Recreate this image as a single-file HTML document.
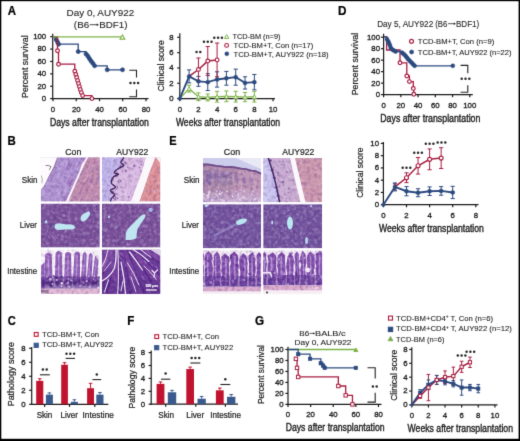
<!DOCTYPE html><html><head><meta charset="utf-8"><style>html,body{margin:0;padding:0;background:#fff;}svg{display:block;will-change:transform;}text{font-family:"Liberation Sans",sans-serif;fill:#1e1e1e;stroke:#1e1e1e;stroke-width:0.22px;}</style></head><body>
<svg width="520" height="441" viewBox="0 0 520 441" xmlns="http://www.w3.org/2000/svg">
<defs><filter id="gb" x="0" y="0" width="100%" height="100%" color-interpolation-filters="sRGB"><feConvolveMatrix order="3" kernelMatrix="0.0114 0.084 0.0114 0.084 0.618 0.084 0.0114 0.084 0.0114" edgeMode="duplicate"/></filter></defs><g filter="url(#gb)">
<rect x="0" y="0" width="520" height="441" fill="#000"/>
<rect x="1.3" y="1.2" width="517.3" height="437.6" fill="#fff"/>
<text x="7.71" y="15.4" font-size="12.6" font-weight="bold" textLength="8.29" lengthAdjust="spacingAndGlyphs" style="fill:#000;stroke:#000">A</text>
<text x="7.53" y="144.8" font-size="12.6" font-weight="bold" textLength="8.29" lengthAdjust="spacingAndGlyphs" style="fill:#000;stroke:#000">B</text>
<text x="7.74" y="325" font-size="12.6" font-weight="bold" textLength="8.06" lengthAdjust="spacingAndGlyphs" style="fill:#000;stroke:#000">C</text>
<text x="338.01" y="15.1" font-size="12.6" font-weight="bold" textLength="8.48" lengthAdjust="spacingAndGlyphs" style="fill:#000;stroke:#000">D</text>
<text x="169.26" y="144.5" font-size="12.6" font-weight="bold" textLength="7.37" lengthAdjust="spacingAndGlyphs" style="fill:#000;stroke:#000">E</text>
<text x="127.22" y="324.8" font-size="12.6" font-weight="bold" textLength="7.1" lengthAdjust="spacingAndGlyphs" style="fill:#000;stroke:#000">F</text>
<text x="255.12" y="324.8" font-size="12.6" font-weight="bold" textLength="9.11" lengthAdjust="spacingAndGlyphs" style="fill:#000;stroke:#000">G</text>
<text x="66.6" y="16.1" font-size="9.3" style="stroke-width:0.1px" textLength="67.6" lengthAdjust="spacingAndGlyphs">Day 0, AUY922</text>
<text x="73.89" y="27.7" font-size="9.3" style="stroke-width:0.1px" textLength="15.34" lengthAdjust="spacingAndGlyphs">(B6</text>
<line x1="89.7" y1="24.7" x2="97.58" y2="24.7" stroke="#1e1e1e" stroke-width="0.8"/>
<polygon points="98.9,24.7 96.7,23.4 96.7,26" fill="#1e1e1e"/>
<text x="99.2" y="27.7" font-size="9.3" style="stroke-width:0.1px" textLength="28.21" lengthAdjust="spacingAndGlyphs">BDF1)</text>
<text x="27.61" y="97.92" font-size="8.9" textLength="62.51" lengthAdjust="spacingAndGlyphs" transform="rotate(-90 27.61 97.92)">Percent survival</text>
<line x1="52.7" y1="33.8" x2="52.7" y2="99.2" stroke="#1a1a1a" stroke-width="1.2"/>
<line x1="50.1" y1="36.7" x2="52.7" y2="36.7" stroke="#1a1a1a" stroke-width="1.2"/>
<text x="46.2" y="39.11" font-size="7.8" style="stroke-width:0.32px" text-anchor="end">100</text>
<line x1="50.1" y1="49.08" x2="52.7" y2="49.08" stroke="#1a1a1a" stroke-width="1.2"/>
<text x="46.2" y="51.49" font-size="7.8" style="stroke-width:0.32px" text-anchor="end">80</text>
<line x1="50.1" y1="61.46" x2="52.7" y2="61.46" stroke="#1a1a1a" stroke-width="1.2"/>
<text x="46.2" y="63.87" font-size="7.8" style="stroke-width:0.32px" text-anchor="end">60</text>
<line x1="50.1" y1="73.84" x2="52.7" y2="73.84" stroke="#1a1a1a" stroke-width="1.2"/>
<text x="46.2" y="76.25" font-size="7.8" style="stroke-width:0.32px" text-anchor="end">40</text>
<line x1="50.1" y1="86.22" x2="52.7" y2="86.22" stroke="#1a1a1a" stroke-width="1.2"/>
<text x="46.2" y="88.63" font-size="7.8" style="stroke-width:0.32px" text-anchor="end">20</text>
<line x1="50.1" y1="98.6" x2="52.7" y2="98.6" stroke="#1a1a1a" stroke-width="1.2"/>
<text x="46.2" y="101.01" font-size="7.8" style="stroke-width:0.32px" text-anchor="end">0</text>
<line x1="52.1" y1="98.6" x2="148.5" y2="98.6" stroke="#1a1a1a" stroke-width="1.2"/>
<line x1="53" y1="98.6" x2="53" y2="101.2" stroke="#1a1a1a" stroke-width="1.2"/>
<text x="53" y="111.6" font-size="7.8" style="stroke-width:0.32px" text-anchor="middle">0</text>
<line x1="76.25" y1="98.6" x2="76.25" y2="101.2" stroke="#1a1a1a" stroke-width="1.2"/>
<text x="76.25" y="111.6" font-size="7.8" style="stroke-width:0.32px" text-anchor="middle">20</text>
<line x1="99.5" y1="98.6" x2="99.5" y2="101.2" stroke="#1a1a1a" stroke-width="1.2"/>
<text x="99.5" y="111.6" font-size="7.8" style="stroke-width:0.32px" text-anchor="middle">40</text>
<line x1="122.75" y1="98.6" x2="122.75" y2="101.2" stroke="#1a1a1a" stroke-width="1.2"/>
<text x="122.75" y="111.6" font-size="7.8" style="stroke-width:0.32px" text-anchor="middle">60</text>
<line x1="146" y1="98.6" x2="146" y2="101.2" stroke="#1a1a1a" stroke-width="1.2"/>
<text x="146" y="111.6" font-size="7.8" style="stroke-width:0.32px" text-anchor="middle">80</text>
<text x="49.89" y="125.5" font-size="10.4" style="stroke-width:0.38px" textLength="98.98" lengthAdjust="spacingAndGlyphs">Days after transplantation</text>
<polyline points="52.7,36.9 56.1,36.9 56.1,39.6 57.5,39.6 57.5,42 58.6,42 58.6,44.2 78.2,44.2 78.2,51.6 86,51.6 86,54 88,54 88,56.4 89.5,56.4 89.5,58.8 91,58.8 91,61 92.8,61 92.8,63.3 94.6,63.3 94.6,65.8 107.2,65.8 107.2,69.8 122.5,69.8 122.5,69.8" fill="none" stroke="#2c4a7f" stroke-width="1.3" stroke-linejoin="miter"/>
<circle cx="56.1" cy="39.6" r="2.05" fill="#2c4a7f" stroke="#2c4a7f" stroke-width="0.6"/>
<circle cx="57.5" cy="42" r="2.05" fill="#2c4a7f" stroke="#2c4a7f" stroke-width="0.6"/>
<circle cx="58.6" cy="44.2" r="2.05" fill="#2c4a7f" stroke="#2c4a7f" stroke-width="0.6"/>
<circle cx="78.2" cy="51.6" r="2.05" fill="#2c4a7f" stroke="#2c4a7f" stroke-width="0.6"/>
<circle cx="86" cy="54" r="2.05" fill="#2c4a7f" stroke="#2c4a7f" stroke-width="0.6"/>
<circle cx="88" cy="56.4" r="2.05" fill="#2c4a7f" stroke="#2c4a7f" stroke-width="0.6"/>
<circle cx="89.5" cy="58.8" r="2.05" fill="#2c4a7f" stroke="#2c4a7f" stroke-width="0.6"/>
<circle cx="91" cy="61" r="2.05" fill="#2c4a7f" stroke="#2c4a7f" stroke-width="0.6"/>
<circle cx="92.8" cy="63.3" r="2.05" fill="#2c4a7f" stroke="#2c4a7f" stroke-width="0.6"/>
<circle cx="94.6" cy="65.8" r="2.05" fill="#2c4a7f" stroke="#2c4a7f" stroke-width="0.6"/>
<circle cx="107.2" cy="69.8" r="2.05" fill="#2c4a7f" stroke="#2c4a7f" stroke-width="0.6"/>
<circle cx="122.5" cy="69.8" r="2.05" fill="#2c4a7f" stroke="#2c4a7f" stroke-width="0.6"/>
<polyline points="52.7,36.9 57.5,36.9 57.5,50.7 58.5,50.7 58.5,64.2 74.8,64.2 74.8,71.2 75.8,71.2 75.8,74.4 76.7,74.4 76.7,77.4 77.6,77.4 77.6,80.6 78.5,80.6 78.5,83.6 79.4,83.6 79.4,86.6 80.3,86.6 80.3,89.6 81.3,89.6 81.3,92.6 82.6,92.6 82.6,95.6 91.9,95.6 91.9,98.6" fill="none" stroke="#a81c40" stroke-width="1.3" stroke-linejoin="miter"/>
<circle cx="57.5" cy="50.7" r="1.85" fill="#fff" stroke="#a81c40" stroke-width="1.2"/>
<circle cx="58.5" cy="64.2" r="1.85" fill="#fff" stroke="#a81c40" stroke-width="1.2"/>
<circle cx="74.8" cy="71.2" r="1.85" fill="#fff" stroke="#a81c40" stroke-width="1.2"/>
<circle cx="75.8" cy="74.4" r="1.85" fill="#fff" stroke="#a81c40" stroke-width="1.2"/>
<circle cx="76.7" cy="77.4" r="1.85" fill="#fff" stroke="#a81c40" stroke-width="1.2"/>
<circle cx="77.6" cy="80.6" r="1.85" fill="#fff" stroke="#a81c40" stroke-width="1.2"/>
<circle cx="78.5" cy="83.6" r="1.85" fill="#fff" stroke="#a81c40" stroke-width="1.2"/>
<circle cx="79.4" cy="86.6" r="1.85" fill="#fff" stroke="#a81c40" stroke-width="1.2"/>
<circle cx="80.3" cy="89.6" r="1.85" fill="#fff" stroke="#a81c40" stroke-width="1.2"/>
<circle cx="81.3" cy="92.6" r="1.85" fill="#fff" stroke="#a81c40" stroke-width="1.2"/>
<circle cx="82.6" cy="95.6" r="1.85" fill="#fff" stroke="#a81c40" stroke-width="1.2"/>
<circle cx="91.9" cy="98.6" r="1.85" fill="#fff" stroke="#a81c40" stroke-width="1.2"/>
<line x1="52.7" y1="36.9" x2="122.75" y2="36.9" stroke="#7db348" stroke-width="1.4"/>
<polygon points="120.05,39.08 124.85,39.08 122.45,34.92" fill="#fff" stroke="#7db348" stroke-width="1.1"/>
<polyline points="129.3,70.3 136.5,70.3 136.5,77.6" fill="none" stroke="#222" stroke-width="1.1" stroke-linejoin="miter"/>
<polyline points="136.5,89.5 136.5,96.7 129.3,96.7" fill="none" stroke="#222" stroke-width="1.1" stroke-linejoin="miter"/>
<circle cx="130.5" cy="83" r="1.25" fill="#262626"/>
<circle cx="134.3" cy="83" r="1.25" fill="#262626"/>
<circle cx="138.1" cy="83" r="1.25" fill="#262626"/>
<text x="163.61" y="91.44" font-size="9.5" textLength="51.22" lengthAdjust="spacingAndGlyphs" transform="rotate(-90 163.61 91.44)">Clinical score</text>
<line x1="179.8" y1="33.3" x2="179.8" y2="99.2" stroke="#1a1a1a" stroke-width="1.2"/>
<line x1="177.2" y1="37.32" x2="179.8" y2="37.32" stroke="#1a1a1a" stroke-width="1.2"/>
<text x="173.6" y="39.73" font-size="7.8" style="stroke-width:0.32px" text-anchor="end">8</text>
<line x1="177.2" y1="52.64" x2="179.8" y2="52.64" stroke="#1a1a1a" stroke-width="1.2"/>
<text x="173.6" y="55.05" font-size="7.8" style="stroke-width:0.32px" text-anchor="end">6</text>
<line x1="177.2" y1="67.96" x2="179.8" y2="67.96" stroke="#1a1a1a" stroke-width="1.2"/>
<text x="173.6" y="70.37" font-size="7.8" style="stroke-width:0.32px" text-anchor="end">4</text>
<line x1="177.2" y1="83.28" x2="179.8" y2="83.28" stroke="#1a1a1a" stroke-width="1.2"/>
<text x="173.6" y="85.69" font-size="7.8" style="stroke-width:0.32px" text-anchor="end">2</text>
<line x1="177.2" y1="98.6" x2="179.8" y2="98.6" stroke="#1a1a1a" stroke-width="1.2"/>
<text x="173.6" y="101.01" font-size="7.8" style="stroke-width:0.32px" text-anchor="end">0</text>
<line x1="179.2" y1="98.6" x2="275" y2="98.6" stroke="#1a1a1a" stroke-width="1.2"/>
<line x1="179.8" y1="98.6" x2="179.8" y2="101.2" stroke="#1a1a1a" stroke-width="1.2"/>
<text x="179.8" y="111.6" font-size="7.8" style="stroke-width:0.32px" text-anchor="middle">0</text>
<line x1="198.44" y1="98.6" x2="198.44" y2="101.2" stroke="#1a1a1a" stroke-width="1.2"/>
<text x="198.44" y="111.6" font-size="7.8" style="stroke-width:0.32px" text-anchor="middle">2</text>
<line x1="217.08" y1="98.6" x2="217.08" y2="101.2" stroke="#1a1a1a" stroke-width="1.2"/>
<text x="217.08" y="111.6" font-size="7.8" style="stroke-width:0.32px" text-anchor="middle">4</text>
<line x1="235.72" y1="98.6" x2="235.72" y2="101.2" stroke="#1a1a1a" stroke-width="1.2"/>
<text x="235.72" y="111.6" font-size="7.8" style="stroke-width:0.32px" text-anchor="middle">6</text>
<line x1="254.36" y1="98.6" x2="254.36" y2="101.2" stroke="#1a1a1a" stroke-width="1.2"/>
<text x="254.36" y="111.6" font-size="7.8" style="stroke-width:0.32px" text-anchor="middle">8</text>
<line x1="273" y1="98.6" x2="273" y2="101.2" stroke="#1a1a1a" stroke-width="1.2"/>
<text x="273" y="111.6" font-size="7.8" style="stroke-width:0.32px" text-anchor="middle">10</text>
<text x="175.96" y="125.8" font-size="10.4" style="stroke-width:0.38px" textLength="103.99" lengthAdjust="spacingAndGlyphs">Weeks after transplantation</text>
<line x1="189.12" y1="92.09" x2="189.12" y2="85.19" stroke="#7db348" stroke-width="1.0"/>
<line x1="187.02" y1="92.09" x2="191.22" y2="92.09" stroke="#7db348" stroke-width="1.0"/>
<line x1="187.02" y1="85.19" x2="191.22" y2="85.19" stroke="#7db348" stroke-width="1.0"/>
<line x1="198.44" y1="100.52" x2="198.44" y2="92.85" stroke="#7db348" stroke-width="1.0"/>
<line x1="196.34" y1="100.52" x2="200.54" y2="100.52" stroke="#7db348" stroke-width="1.0"/>
<line x1="196.34" y1="92.85" x2="200.54" y2="92.85" stroke="#7db348" stroke-width="1.0"/>
<line x1="207.76" y1="100.9" x2="207.76" y2="94" stroke="#7db348" stroke-width="1.0"/>
<line x1="205.66" y1="100.9" x2="209.86" y2="100.9" stroke="#7db348" stroke-width="1.0"/>
<line x1="205.66" y1="94" x2="209.86" y2="94" stroke="#7db348" stroke-width="1.0"/>
<line x1="217.08" y1="102.05" x2="217.08" y2="91.32" stroke="#7db348" stroke-width="1.0"/>
<line x1="214.98" y1="102.05" x2="219.18" y2="102.05" stroke="#7db348" stroke-width="1.0"/>
<line x1="214.98" y1="91.32" x2="219.18" y2="91.32" stroke="#7db348" stroke-width="1.0"/>
<line x1="226.4" y1="101.66" x2="226.4" y2="90.94" stroke="#7db348" stroke-width="1.0"/>
<line x1="224.3" y1="101.66" x2="228.5" y2="101.66" stroke="#7db348" stroke-width="1.0"/>
<line x1="224.3" y1="90.94" x2="228.5" y2="90.94" stroke="#7db348" stroke-width="1.0"/>
<line x1="235.72" y1="102.05" x2="235.72" y2="91.32" stroke="#7db348" stroke-width="1.0"/>
<line x1="233.62" y1="102.05" x2="237.82" y2="102.05" stroke="#7db348" stroke-width="1.0"/>
<line x1="233.62" y1="91.32" x2="237.82" y2="91.32" stroke="#7db348" stroke-width="1.0"/>
<line x1="245.04" y1="101.66" x2="245.04" y2="92.47" stroke="#7db348" stroke-width="1.0"/>
<line x1="242.94" y1="101.66" x2="247.14" y2="101.66" stroke="#7db348" stroke-width="1.0"/>
<line x1="242.94" y1="92.47" x2="247.14" y2="92.47" stroke="#7db348" stroke-width="1.0"/>
<line x1="254.36" y1="102.05" x2="254.36" y2="91.32" stroke="#7db348" stroke-width="1.0"/>
<line x1="252.26" y1="102.05" x2="256.46" y2="102.05" stroke="#7db348" stroke-width="1.0"/>
<line x1="252.26" y1="91.32" x2="256.46" y2="91.32" stroke="#7db348" stroke-width="1.0"/>
<polyline points="179.8,98.6 189.12,88.64 198.44,96.68 207.76,97.45 217.08,96.68 226.4,96.3 235.72,96.68 245.04,97.07 254.36,96.68" fill="none" stroke="#7db348" stroke-width="1.3" stroke-linejoin="miter"/>
<polygon points="187.02,90.46 191.22,90.46 189.12,86.82" fill="#fff" stroke="#7db348" stroke-width="1.0"/>
<polygon points="196.34,98.5 200.54,98.5 198.44,94.87" fill="#fff" stroke="#7db348" stroke-width="1.0"/>
<polygon points="205.66,99.27 209.86,99.27 207.76,95.63" fill="#fff" stroke="#7db348" stroke-width="1.0"/>
<polygon points="214.98,98.5 219.18,98.5 217.08,94.87" fill="#fff" stroke="#7db348" stroke-width="1.0"/>
<polygon points="224.3,98.12 228.5,98.12 226.4,94.48" fill="#fff" stroke="#7db348" stroke-width="1.0"/>
<polygon points="233.62,98.5 237.82,98.5 235.72,94.87" fill="#fff" stroke="#7db348" stroke-width="1.0"/>
<polygon points="242.94,98.89 247.14,98.89 245.04,95.25" fill="#fff" stroke="#7db348" stroke-width="1.0"/>
<polygon points="252.26,98.5 256.46,98.5 254.36,94.87" fill="#fff" stroke="#7db348" stroke-width="1.0"/>
<line x1="189.12" y1="82.9" x2="189.12" y2="69.88" stroke="#2c4a7f" stroke-width="1.0"/>
<line x1="187.02" y1="82.9" x2="191.22" y2="82.9" stroke="#2c4a7f" stroke-width="1.0"/>
<line x1="187.02" y1="69.88" x2="191.22" y2="69.88" stroke="#2c4a7f" stroke-width="1.0"/>
<line x1="198.44" y1="86.34" x2="198.44" y2="76.39" stroke="#2c4a7f" stroke-width="1.0"/>
<line x1="196.34" y1="86.34" x2="200.54" y2="86.34" stroke="#2c4a7f" stroke-width="1.0"/>
<line x1="196.34" y1="76.39" x2="200.54" y2="76.39" stroke="#2c4a7f" stroke-width="1.0"/>
<line x1="207.76" y1="90.56" x2="207.76" y2="73.7" stroke="#2c4a7f" stroke-width="1.0"/>
<line x1="205.66" y1="90.56" x2="209.86" y2="90.56" stroke="#2c4a7f" stroke-width="1.0"/>
<line x1="205.66" y1="73.7" x2="209.86" y2="73.7" stroke="#2c4a7f" stroke-width="1.0"/>
<line x1="217.08" y1="87.11" x2="217.08" y2="71.79" stroke="#2c4a7f" stroke-width="1.0"/>
<line x1="214.98" y1="87.11" x2="219.18" y2="87.11" stroke="#2c4a7f" stroke-width="1.0"/>
<line x1="214.98" y1="71.79" x2="219.18" y2="71.79" stroke="#2c4a7f" stroke-width="1.0"/>
<line x1="226.4" y1="85.19" x2="226.4" y2="71.41" stroke="#2c4a7f" stroke-width="1.0"/>
<line x1="224.3" y1="85.19" x2="228.5" y2="85.19" stroke="#2c4a7f" stroke-width="1.0"/>
<line x1="224.3" y1="71.41" x2="228.5" y2="71.41" stroke="#2c4a7f" stroke-width="1.0"/>
<line x1="235.72" y1="85.19" x2="235.72" y2="69.11" stroke="#2c4a7f" stroke-width="1.0"/>
<line x1="233.62" y1="85.19" x2="237.82" y2="85.19" stroke="#2c4a7f" stroke-width="1.0"/>
<line x1="233.62" y1="69.11" x2="237.82" y2="69.11" stroke="#2c4a7f" stroke-width="1.0"/>
<line x1="245.04" y1="89.02" x2="245.04" y2="76.77" stroke="#2c4a7f" stroke-width="1.0"/>
<line x1="242.94" y1="89.02" x2="247.14" y2="89.02" stroke="#2c4a7f" stroke-width="1.0"/>
<line x1="242.94" y1="76.77" x2="247.14" y2="76.77" stroke="#2c4a7f" stroke-width="1.0"/>
<line x1="254.36" y1="89.79" x2="254.36" y2="74.47" stroke="#2c4a7f" stroke-width="1.0"/>
<line x1="252.26" y1="89.79" x2="256.46" y2="89.79" stroke="#2c4a7f" stroke-width="1.0"/>
<line x1="252.26" y1="74.47" x2="256.46" y2="74.47" stroke="#2c4a7f" stroke-width="1.0"/>
<line x1="198.44" y1="80.98" x2="198.44" y2="58" stroke="#a81c40" stroke-width="1.0"/>
<line x1="196.34" y1="80.98" x2="200.54" y2="80.98" stroke="#a81c40" stroke-width="1.0"/>
<line x1="196.34" y1="58" x2="200.54" y2="58" stroke="#a81c40" stroke-width="1.0"/>
<line x1="207.76" y1="75.62" x2="207.76" y2="46.51" stroke="#a81c40" stroke-width="1.0"/>
<line x1="205.66" y1="75.62" x2="209.86" y2="75.62" stroke="#a81c40" stroke-width="1.0"/>
<line x1="205.66" y1="46.51" x2="209.86" y2="46.51" stroke="#a81c40" stroke-width="1.0"/>
<line x1="217.08" y1="76.77" x2="217.08" y2="43.06" stroke="#a81c40" stroke-width="1.0"/>
<line x1="214.98" y1="76.77" x2="219.18" y2="76.77" stroke="#a81c40" stroke-width="1.0"/>
<line x1="214.98" y1="43.06" x2="219.18" y2="43.06" stroke="#a81c40" stroke-width="1.0"/>
<polyline points="189.12,76.39 198.44,69.49 207.76,61.07 217.08,59.92" fill="none" stroke="#a81c40" stroke-width="1.5" stroke-linejoin="miter"/>
<polyline points="179.8,98.6 189.12,76.39 198.44,81.36 207.76,82.13 217.08,79.45 226.4,78.3 235.72,77.15 245.04,82.9 254.36,82.13" fill="none" stroke="#2c4a7f" stroke-width="1.9" stroke-linejoin="miter"/>
<circle cx="189.12" cy="76.39" r="2" fill="#2c4a7f" stroke="#2c4a7f" stroke-width="0.5"/>
<circle cx="198.44" cy="81.36" r="2" fill="#2c4a7f" stroke="#2c4a7f" stroke-width="0.5"/>
<circle cx="207.76" cy="82.13" r="2" fill="#2c4a7f" stroke="#2c4a7f" stroke-width="0.5"/>
<circle cx="217.08" cy="79.45" r="2" fill="#2c4a7f" stroke="#2c4a7f" stroke-width="0.5"/>
<circle cx="226.4" cy="78.3" r="2" fill="#2c4a7f" stroke="#2c4a7f" stroke-width="0.5"/>
<circle cx="235.72" cy="77.15" r="2" fill="#2c4a7f" stroke="#2c4a7f" stroke-width="0.5"/>
<circle cx="245.04" cy="82.9" r="2" fill="#2c4a7f" stroke="#2c4a7f" stroke-width="0.5"/>
<circle cx="254.36" cy="82.13" r="2" fill="#2c4a7f" stroke="#2c4a7f" stroke-width="0.5"/>
<circle cx="179.8" cy="98.6" r="1.8" fill="#2c4a7f" stroke="#2c4a7f" stroke-width="0.5"/>
<circle cx="198.44" cy="69.49" r="1.9" fill="#fff" stroke="#a81c40" stroke-width="1.1"/>
<circle cx="207.76" cy="61.07" r="1.9" fill="#fff" stroke="#a81c40" stroke-width="1.1"/>
<circle cx="217.08" cy="59.92" r="1.9" fill="#fff" stroke="#a81c40" stroke-width="1.1"/>
<circle cx="196.54" cy="52" r="1.25" fill="#262626"/>
<circle cx="200.34" cy="52" r="1.25" fill="#262626"/>
<circle cx="203.96" cy="41.7" r="1.25" fill="#262626"/>
<circle cx="207.76" cy="41.7" r="1.25" fill="#262626"/>
<circle cx="211.56" cy="41.7" r="1.25" fill="#262626"/>
<circle cx="214.28" cy="37.8" r="1.25" fill="#262626"/>
<circle cx="218.08" cy="37.8" r="1.25" fill="#262626"/>
<circle cx="221.88" cy="37.8" r="1.25" fill="#262626"/>
<polygon points="224.4,38.41 228.8,38.41 226.6,34.59" fill="#fff" stroke="#7db348" stroke-width="1.0"/>
<text x="232.43" y="38.6" font-size="8.0" style="stroke-width:0.1px" textLength="48.02" lengthAdjust="spacingAndGlyphs">TCD-BM (n=9)</text>
<circle cx="226.6" cy="45.4" r="1.9" fill="#fff" stroke="#a81c40" stroke-width="1.1"/>
<text x="233.53" y="48.1" font-size="8.0" style="stroke-width:0.1px" textLength="79.73" lengthAdjust="spacingAndGlyphs">TCD-BM+T, Con (n=17)</text>
<circle cx="226.8" cy="53.8" r="2" fill="#2c4a7f" stroke="#2c4a7f" stroke-width="0.5"/>
<text x="233.53" y="56.7" font-size="8.0" style="stroke-width:0.1px" textLength="95.04" lengthAdjust="spacingAndGlyphs">TCD-BM+T, AUY922 (n=18)</text>
<text x="377.13" y="27" font-size="9.3" style="stroke-width:0.1px" textLength="56.08" lengthAdjust="spacingAndGlyphs">Day 5, AUY922</text>
<text x="435.22" y="27" font-size="9.3" style="stroke-width:0.1px" textLength="12.13" lengthAdjust="spacingAndGlyphs">(B6</text>
<line x1="448" y1="23.7" x2="454.6" y2="23.7" stroke="#1e1e1e" stroke-width="0.75"/>
<polygon points="455.8,23.7 453.8,22.5 453.8,24.9" fill="#1e1e1e"/>
<text x="455.94" y="27" font-size="9.3" style="stroke-width:0.1px" textLength="23.36" lengthAdjust="spacingAndGlyphs">BDF1)</text>
<text x="358.21" y="95.32" font-size="8.9" textLength="62.51" lengthAdjust="spacingAndGlyphs" transform="rotate(-90 358.21 95.32)">Percent survival</text>
<line x1="383.6" y1="33.8" x2="383.6" y2="95.2" stroke="#1a1a1a" stroke-width="1.2"/>
<line x1="381" y1="37.2" x2="383.6" y2="37.2" stroke="#1a1a1a" stroke-width="1.2"/>
<text x="380" y="39.61" font-size="7.8" style="stroke-width:0.32px" text-anchor="end">100</text>
<line x1="381" y1="48.68" x2="383.6" y2="48.68" stroke="#1a1a1a" stroke-width="1.2"/>
<text x="380" y="51.09" font-size="7.8" style="stroke-width:0.32px" text-anchor="end">80</text>
<line x1="381" y1="60.16" x2="383.6" y2="60.16" stroke="#1a1a1a" stroke-width="1.2"/>
<text x="380" y="62.57" font-size="7.8" style="stroke-width:0.32px" text-anchor="end">60</text>
<line x1="381" y1="71.64" x2="383.6" y2="71.64" stroke="#1a1a1a" stroke-width="1.2"/>
<text x="380" y="74.05" font-size="7.8" style="stroke-width:0.32px" text-anchor="end">40</text>
<line x1="381" y1="83.12" x2="383.6" y2="83.12" stroke="#1a1a1a" stroke-width="1.2"/>
<text x="380" y="85.53" font-size="7.8" style="stroke-width:0.32px" text-anchor="end">20</text>
<line x1="381" y1="94.6" x2="383.6" y2="94.6" stroke="#1a1a1a" stroke-width="1.2"/>
<text x="380" y="97.01" font-size="7.8" style="stroke-width:0.32px" text-anchor="end">0</text>
<line x1="383" y1="94.6" x2="472.8" y2="94.6" stroke="#1a1a1a" stroke-width="1.2"/>
<line x1="383.6" y1="94.6" x2="383.6" y2="97.2" stroke="#1a1a1a" stroke-width="1.2"/>
<text x="383.6" y="107.6" font-size="7.8" style="stroke-width:0.32px" text-anchor="middle">0</text>
<line x1="400.84" y1="94.6" x2="400.84" y2="97.2" stroke="#1a1a1a" stroke-width="1.2"/>
<text x="400.84" y="107.6" font-size="7.8" style="stroke-width:0.32px" text-anchor="middle">20</text>
<line x1="418.08" y1="94.6" x2="418.08" y2="97.2" stroke="#1a1a1a" stroke-width="1.2"/>
<text x="418.08" y="107.6" font-size="7.8" style="stroke-width:0.32px" text-anchor="middle">40</text>
<line x1="435.32" y1="94.6" x2="435.32" y2="97.2" stroke="#1a1a1a" stroke-width="1.2"/>
<text x="435.32" y="107.6" font-size="7.8" style="stroke-width:0.32px" text-anchor="middle">60</text>
<line x1="452.56" y1="94.6" x2="452.56" y2="97.2" stroke="#1a1a1a" stroke-width="1.2"/>
<text x="452.56" y="107.6" font-size="7.8" style="stroke-width:0.32px" text-anchor="middle">80</text>
<line x1="469.8" y1="94.6" x2="469.8" y2="97.2" stroke="#1a1a1a" stroke-width="1.2"/>
<text x="469.8" y="107.6" font-size="7.8" style="stroke-width:0.32px" text-anchor="middle">100</text>
<text x="380.28" y="121.6" font-size="10.4" style="stroke-width:0.38px" textLength="100.09" lengthAdjust="spacingAndGlyphs">Days after transplantation</text>
<polyline points="383.8,36.8 386.6,36.8 386.6,50 400,50 400,62.8 406.8,62.8 406.8,76 409.4,76 409.4,81.6 413.3,81.6 413.3,88.4 413.8,88.4 413.8,94.3" fill="none" stroke="#a81c40" stroke-width="1.3" stroke-linejoin="miter"/>
<circle cx="400" cy="62.8" r="1.85" fill="#fff" stroke="#a81c40" stroke-width="1.2"/>
<circle cx="406.8" cy="76" r="1.85" fill="#fff" stroke="#a81c40" stroke-width="1.2"/>
<circle cx="409.4" cy="81.6" r="1.85" fill="#fff" stroke="#a81c40" stroke-width="1.2"/>
<circle cx="413.3" cy="88.4" r="1.85" fill="#fff" stroke="#a81c40" stroke-width="1.2"/>
<circle cx="413.8" cy="94.3" r="1.85" fill="#fff" stroke="#a81c40" stroke-width="1.2"/>
<polyline points="383.8,36.8 387,36.8 387,39.3 388.3,39.3 388.3,41.4 389.1,41.4 389.1,43.5 390,43.5 390,45.6 390.8,45.6 390.8,48 392.2,48 392.2,49.4 393.9,49.4 393.9,50.6 395.6,50.6 395.6,51.5 402.1,51.5 402.1,52.7 403.8,52.7 403.8,54.2 405.5,54.2 405.5,55.8 406.8,55.8 406.8,57.5 408.1,57.5 408.1,59.2 409.7,59.2 409.7,60.8 411.4,60.8 411.4,62.5 413,62.5 413,64.2 414.6,64.2 414.6,65.8 452.8,65.8 452.8,65.8" fill="none" stroke="#2c4a7f" stroke-width="1.3" stroke-linejoin="miter"/>
<circle cx="387" cy="39.3" r="2" fill="#2c4a7f" stroke="#2c4a7f" stroke-width="0.5"/>
<circle cx="388.3" cy="41.4" r="2" fill="#2c4a7f" stroke="#2c4a7f" stroke-width="0.5"/>
<circle cx="389.1" cy="43.5" r="2" fill="#2c4a7f" stroke="#2c4a7f" stroke-width="0.5"/>
<circle cx="390" cy="45.6" r="2" fill="#2c4a7f" stroke="#2c4a7f" stroke-width="0.5"/>
<circle cx="390.8" cy="48" r="2" fill="#2c4a7f" stroke="#2c4a7f" stroke-width="0.5"/>
<circle cx="392.2" cy="49.4" r="2" fill="#2c4a7f" stroke="#2c4a7f" stroke-width="0.5"/>
<circle cx="393.9" cy="50.6" r="2" fill="#2c4a7f" stroke="#2c4a7f" stroke-width="0.5"/>
<circle cx="395.6" cy="51.5" r="2" fill="#2c4a7f" stroke="#2c4a7f" stroke-width="0.5"/>
<circle cx="402.1" cy="52.7" r="2" fill="#2c4a7f" stroke="#2c4a7f" stroke-width="0.5"/>
<circle cx="403.8" cy="54.2" r="2" fill="#2c4a7f" stroke="#2c4a7f" stroke-width="0.5"/>
<circle cx="405.5" cy="55.8" r="2" fill="#2c4a7f" stroke="#2c4a7f" stroke-width="0.5"/>
<circle cx="406.8" cy="57.5" r="2" fill="#2c4a7f" stroke="#2c4a7f" stroke-width="0.5"/>
<circle cx="408.1" cy="59.2" r="2" fill="#2c4a7f" stroke="#2c4a7f" stroke-width="0.5"/>
<circle cx="409.7" cy="60.8" r="2" fill="#2c4a7f" stroke="#2c4a7f" stroke-width="0.5"/>
<circle cx="411.4" cy="62.5" r="2" fill="#2c4a7f" stroke="#2c4a7f" stroke-width="0.5"/>
<circle cx="413" cy="64.2" r="2" fill="#2c4a7f" stroke="#2c4a7f" stroke-width="0.5"/>
<circle cx="414.6" cy="65.8" r="2" fill="#2c4a7f" stroke="#2c4a7f" stroke-width="0.5"/>
<circle cx="452.8" cy="65.8" r="2" fill="#2c4a7f" stroke="#2c4a7f" stroke-width="0.5"/>
<polyline points="460.6,65.4 467.8,65.4 467.8,73.2" fill="none" stroke="#222" stroke-width="1.1" stroke-linejoin="miter"/>
<polyline points="467.8,85.2 467.8,92.2 460.6,92.2" fill="none" stroke="#222" stroke-width="1.1" stroke-linejoin="miter"/>
<circle cx="461.7" cy="78.7" r="1.25" fill="#262626"/>
<circle cx="465.5" cy="78.7" r="1.25" fill="#262626"/>
<circle cx="469.3" cy="78.7" r="1.25" fill="#262626"/>
<circle cx="411.5" cy="41.3" r="1.95" fill="#fff" stroke="#a81c40" stroke-width="1.2"/>
<text x="417.83" y="44.4" font-size="8.0" style="stroke-width:0.1px" textLength="76.44" lengthAdjust="spacingAndGlyphs">TCD-BM+T, Con (n=9)</text>
<circle cx="411.6" cy="52" r="2.1" fill="#2c4a7f" stroke="#2c4a7f" stroke-width="0.5"/>
<text x="417.83" y="54.8" font-size="8.0" style="stroke-width:0.1px" textLength="93.73" lengthAdjust="spacingAndGlyphs">TCD-BM+T, AUY922 (n=22)</text>
<text x="363.01" y="197.83" font-size="9.5" textLength="50.31" lengthAdjust="spacingAndGlyphs" transform="rotate(-90 363.01 197.83)">Clinical score</text>
<line x1="383.4" y1="141.9" x2="383.4" y2="205.3" stroke="#1a1a1a" stroke-width="1.2"/>
<line x1="380.8" y1="143.4" x2="383.4" y2="143.4" stroke="#1a1a1a" stroke-width="1.2"/>
<text x="379" y="145.81" font-size="7.8" style="stroke-width:0.32px" text-anchor="end">10</text>
<line x1="380.8" y1="155.66" x2="383.4" y2="155.66" stroke="#1a1a1a" stroke-width="1.2"/>
<text x="379" y="158.07" font-size="7.8" style="stroke-width:0.32px" text-anchor="end">8</text>
<line x1="380.8" y1="167.92" x2="383.4" y2="167.92" stroke="#1a1a1a" stroke-width="1.2"/>
<text x="379" y="170.33" font-size="7.8" style="stroke-width:0.32px" text-anchor="end">6</text>
<line x1="380.8" y1="180.18" x2="383.4" y2="180.18" stroke="#1a1a1a" stroke-width="1.2"/>
<text x="379" y="182.59" font-size="7.8" style="stroke-width:0.32px" text-anchor="end">4</text>
<line x1="380.8" y1="192.44" x2="383.4" y2="192.44" stroke="#1a1a1a" stroke-width="1.2"/>
<text x="379" y="194.85" font-size="7.8" style="stroke-width:0.32px" text-anchor="end">2</text>
<line x1="380.8" y1="204.7" x2="383.4" y2="204.7" stroke="#1a1a1a" stroke-width="1.2"/>
<text x="379" y="207.11" font-size="7.8" style="stroke-width:0.32px" text-anchor="end">0</text>
<line x1="382.8" y1="204.7" x2="478.5" y2="204.7" stroke="#1a1a1a" stroke-width="1.2"/>
<line x1="383.4" y1="204.7" x2="383.4" y2="207.3" stroke="#1a1a1a" stroke-width="1.2"/>
<text x="383.4" y="217.6" font-size="7.8" style="stroke-width:0.32px" text-anchor="middle">0</text>
<line x1="406.5" y1="204.7" x2="406.5" y2="207.3" stroke="#1a1a1a" stroke-width="1.2"/>
<text x="406.5" y="217.6" font-size="7.8" style="stroke-width:0.32px" text-anchor="middle">2</text>
<line x1="429.6" y1="204.7" x2="429.6" y2="207.3" stroke="#1a1a1a" stroke-width="1.2"/>
<text x="429.6" y="217.6" font-size="7.8" style="stroke-width:0.32px" text-anchor="middle">4</text>
<line x1="452.7" y1="204.7" x2="452.7" y2="207.3" stroke="#1a1a1a" stroke-width="1.2"/>
<text x="452.7" y="217.6" font-size="7.8" style="stroke-width:0.32px" text-anchor="middle">6</text>
<line x1="475.8" y1="204.7" x2="475.8" y2="207.3" stroke="#1a1a1a" stroke-width="1.2"/>
<text x="475.8" y="217.6" font-size="7.8" style="stroke-width:0.32px" text-anchor="middle">8</text>
<text x="378.96" y="231.6" font-size="10.4" style="stroke-width:0.38px" textLength="104.9" lengthAdjust="spacingAndGlyphs">Weeks after transplantation</text>
<line x1="394.95" y1="189.99" x2="394.95" y2="183.86" stroke="#a81c40" stroke-width="1.0"/>
<line x1="392.85" y1="189.99" x2="397.05" y2="189.99" stroke="#a81c40" stroke-width="1.0"/>
<line x1="392.85" y1="183.86" x2="397.05" y2="183.86" stroke="#a81c40" stroke-width="1.0"/>
<line x1="406.5" y1="182.63" x2="406.5" y2="172.82" stroke="#a81c40" stroke-width="1.0"/>
<line x1="404.4" y1="182.63" x2="408.6" y2="182.63" stroke="#a81c40" stroke-width="1.0"/>
<line x1="404.4" y1="172.82" x2="408.6" y2="172.82" stroke="#a81c40" stroke-width="1.0"/>
<line x1="418.05" y1="174.05" x2="418.05" y2="157.5" stroke="#a81c40" stroke-width="1.0"/>
<line x1="415.95" y1="174.05" x2="420.15" y2="174.05" stroke="#a81c40" stroke-width="1.0"/>
<line x1="415.95" y1="157.5" x2="420.15" y2="157.5" stroke="#a81c40" stroke-width="1.0"/>
<line x1="429.6" y1="169.76" x2="429.6" y2="148.92" stroke="#a81c40" stroke-width="1.0"/>
<line x1="427.5" y1="169.76" x2="431.7" y2="169.76" stroke="#a81c40" stroke-width="1.0"/>
<line x1="427.5" y1="148.92" x2="431.7" y2="148.92" stroke="#a81c40" stroke-width="1.0"/>
<line x1="441.15" y1="168.53" x2="441.15" y2="147.69" stroke="#a81c40" stroke-width="1.0"/>
<line x1="439.05" y1="168.53" x2="443.25" y2="168.53" stroke="#a81c40" stroke-width="1.0"/>
<line x1="439.05" y1="147.69" x2="443.25" y2="147.69" stroke="#a81c40" stroke-width="1.0"/>
<line x1="394.95" y1="190.91" x2="394.95" y2="182.94" stroke="#2c4a7f" stroke-width="1.0"/>
<line x1="392.85" y1="190.91" x2="397.05" y2="190.91" stroke="#2c4a7f" stroke-width="1.0"/>
<line x1="392.85" y1="182.94" x2="397.05" y2="182.94" stroke="#2c4a7f" stroke-width="1.0"/>
<line x1="406.5" y1="195.81" x2="406.5" y2="186.62" stroke="#2c4a7f" stroke-width="1.0"/>
<line x1="404.4" y1="195.81" x2="408.6" y2="195.81" stroke="#2c4a7f" stroke-width="1.0"/>
<line x1="404.4" y1="186.62" x2="408.6" y2="186.62" stroke="#2c4a7f" stroke-width="1.0"/>
<line x1="418.05" y1="196.73" x2="418.05" y2="188.76" stroke="#2c4a7f" stroke-width="1.0"/>
<line x1="415.95" y1="196.73" x2="420.15" y2="196.73" stroke="#2c4a7f" stroke-width="1.0"/>
<line x1="415.95" y1="188.76" x2="420.15" y2="188.76" stroke="#2c4a7f" stroke-width="1.0"/>
<line x1="429.6" y1="195.5" x2="429.6" y2="186.92" stroke="#2c4a7f" stroke-width="1.0"/>
<line x1="427.5" y1="195.5" x2="431.7" y2="195.5" stroke="#2c4a7f" stroke-width="1.0"/>
<line x1="427.5" y1="186.92" x2="431.7" y2="186.92" stroke="#2c4a7f" stroke-width="1.0"/>
<line x1="441.15" y1="195.2" x2="441.15" y2="186.62" stroke="#2c4a7f" stroke-width="1.0"/>
<line x1="439.05" y1="195.2" x2="443.25" y2="195.2" stroke="#2c4a7f" stroke-width="1.0"/>
<line x1="439.05" y1="186.62" x2="443.25" y2="186.62" stroke="#2c4a7f" stroke-width="1.0"/>
<line x1="452.7" y1="198.57" x2="452.7" y2="186.31" stroke="#2c4a7f" stroke-width="1.0"/>
<line x1="450.6" y1="198.57" x2="454.8" y2="198.57" stroke="#2c4a7f" stroke-width="1.0"/>
<line x1="450.6" y1="186.31" x2="454.8" y2="186.31" stroke="#2c4a7f" stroke-width="1.0"/>
<polyline points="394.95,186.92 406.5,177.73 418.05,165.77 429.6,159.34 441.15,158.11" fill="none" stroke="#a81c40" stroke-width="1.5" stroke-linejoin="miter"/>
<polyline points="383.4,204.7 394.95,186.92 406.5,191.21 418.05,192.75 429.6,191.21 441.15,190.91 452.7,192.44" fill="none" stroke="#2c4a7f" stroke-width="1.9" stroke-linejoin="miter"/>
<circle cx="394.95" cy="186.92" r="2" fill="#2c4a7f" stroke="#2c4a7f" stroke-width="0.5"/>
<circle cx="406.5" cy="191.21" r="2" fill="#2c4a7f" stroke="#2c4a7f" stroke-width="0.5"/>
<circle cx="418.05" cy="192.75" r="2" fill="#2c4a7f" stroke="#2c4a7f" stroke-width="0.5"/>
<circle cx="429.6" cy="191.21" r="2" fill="#2c4a7f" stroke="#2c4a7f" stroke-width="0.5"/>
<circle cx="441.15" cy="190.91" r="2" fill="#2c4a7f" stroke="#2c4a7f" stroke-width="0.5"/>
<circle cx="452.7" cy="192.44" r="2" fill="#2c4a7f" stroke="#2c4a7f" stroke-width="0.5"/>
<circle cx="383.4" cy="204.7" r="1.8" fill="#2c4a7f" stroke="#2c4a7f" stroke-width="0.5"/>
<circle cx="406.5" cy="177.73" r="2" fill="#fff" stroke="#a81c40" stroke-width="1.1"/>
<circle cx="418.05" cy="165.77" r="2" fill="#fff" stroke="#a81c40" stroke-width="1.1"/>
<circle cx="429.6" cy="159.34" r="2" fill="#fff" stroke="#a81c40" stroke-width="1.1"/>
<circle cx="441.15" cy="158.11" r="2" fill="#fff" stroke="#a81c40" stroke-width="1.1"/>
<circle cx="402.7" cy="167.7" r="1.25" fill="#262626"/>
<circle cx="406.5" cy="167.7" r="1.25" fill="#262626"/>
<circle cx="410.3" cy="167.7" r="1.25" fill="#262626"/>
<circle cx="414.25" cy="152.7" r="1.25" fill="#262626"/>
<circle cx="418.05" cy="152.7" r="1.25" fill="#262626"/>
<circle cx="421.85" cy="152.7" r="1.25" fill="#262626"/>
<circle cx="425.8" cy="143.7" r="1.25" fill="#262626"/>
<circle cx="429.6" cy="143.7" r="1.25" fill="#262626"/>
<circle cx="433.4" cy="143.7" r="1.25" fill="#262626"/>
<circle cx="437.65" cy="142.6" r="1.25" fill="#262626"/>
<circle cx="441.45" cy="142.6" r="1.25" fill="#262626"/>
<circle cx="445.25" cy="142.6" r="1.25" fill="#262626"/>
<text x="65.26" y="154.9" font-size="8.8" textLength="16.01" lengthAdjust="spacingAndGlyphs">Con</text>
<text x="116.28" y="154.8" font-size="8.8" textLength="31.95" lengthAdjust="spacingAndGlyphs">AUY922</text>
<text x="223.85" y="154.9" font-size="8.8" textLength="16.33" lengthAdjust="spacingAndGlyphs">Con</text>
<text x="282.28" y="154.8" font-size="8.8" textLength="31.95" lengthAdjust="spacingAndGlyphs">AUY922</text>
<text x="21.83" y="183" font-size="8.7" textLength="15.74" lengthAdjust="spacingAndGlyphs">Skin</text>
<text x="19.8" y="228.1" font-size="8.7" textLength="17.13" lengthAdjust="spacingAndGlyphs">Liver</text>
<text x="7.27" y="274" font-size="8.7" textLength="29.88" lengthAdjust="spacingAndGlyphs">Intestine</text>
<text x="183.83" y="183" font-size="8.7" textLength="15.74" lengthAdjust="spacingAndGlyphs">Skin</text>
<text x="181.8" y="228.1" font-size="8.7" textLength="17.13" lengthAdjust="spacingAndGlyphs">Liver</text>
<text x="169.27" y="274" font-size="8.7" textLength="29.88" lengthAdjust="spacingAndGlyphs">Intestine</text>
<defs>
<filter id="nzd" x="0" y="0" width="100%" height="100%" color-interpolation-filters="sRGB"><feTurbulence type="fractalNoise" baseFrequency="0.28" numOctaves="2" seed="3"/><feColorMatrix type="matrix" values="0 0 0 0 0.3  0 0 0 0 0.12  0 0 0 0 0.45  2.4 0 0 0 -1.05"/></filter>
<filter id="nzl" x="0" y="0" width="100%" height="100%" color-interpolation-filters="sRGB"><feTurbulence type="fractalNoise" baseFrequency="0.28" numOctaves="2" seed="11"/><feColorMatrix type="matrix" values="0 0 0 0 0.95  0 0 0 0 0.9  0 0 0 0 1  0 2.4 0 0 -1.05"/></filter>
<linearGradient id="gEskin" x1="0" y1="0" x2="0" y2="1"><stop offset="0" stop-color="#c8aad0" stop-opacity="0"/><stop offset="1" stop-color="#d4c0e0" stop-opacity="0.85"/></linearGradient>
<filter id="bl" x="-5%" y="-5%" width="110%" height="110%"><feGaussianBlur stdDeviation="0.5"/></filter>
<clipPath id="c0"><rect x="40.9" y="157.3" width="58.9" height="44.3"/></clipPath>
<clipPath id="c1"><rect x="101.9" y="157.3" width="58.5" height="44.3"/></clipPath>
<clipPath id="c2"><rect x="40.9" y="203.6" width="58.9" height="44"/></clipPath>
<clipPath id="c3"><rect x="101.9" y="203.6" width="58.5" height="44"/></clipPath>
<clipPath id="c4"><rect x="40.9" y="249.6" width="58.9" height="44.3"/></clipPath>
<clipPath id="c5"><rect x="101.9" y="249.6" width="58.5" height="44.3"/></clipPath>
<clipPath id="c6"><rect x="203" y="158" width="58.1" height="44.2"/></clipPath>
<clipPath id="c7"><rect x="263.2" y="158" width="58.9" height="44.2"/></clipPath>
<clipPath id="c8"><rect x="203" y="204.2" width="58.1" height="44.1"/></clipPath>
<clipPath id="c9"><rect x="263.2" y="204.2" width="58.9" height="44.1"/></clipPath>
<clipPath id="c10"><rect x="203" y="250.2" width="58.1" height="43.8"/></clipPath>
<clipPath id="c11"><rect x="263.2" y="250.2" width="58.9" height="43.8"/></clipPath>
</defs>
<g clip-path="url(#c0)"><g filter="url(#bl)">
<rect x="40.9" y="157.3" width="58.9" height="44.3" fill="#ae92d0"/>
<line x1="55.5" y1="164" x2="52.1" y2="170.7" stroke="#8a62b0" stroke-width="1.1" opacity="0.55"/>
<line x1="77.9" y1="161.5" x2="74.7" y2="167.9" stroke="#c8b0e4" stroke-width="1.1" opacity="0.55"/>
<line x1="42.6" y1="176.5" x2="40.6" y2="180.4" stroke="#8a62b0" stroke-width="1.1" opacity="0.55"/>
<line x1="65.8" y1="159.9" x2="62.6" y2="166.2" stroke="#c8b0e4" stroke-width="1.1" opacity="0.55"/>
<line x1="69.3" y1="183.1" x2="67.4" y2="187" stroke="#bca0dc" stroke-width="1.1" opacity="0.55"/>
<line x1="43.1" y1="167.1" x2="40" y2="173.4" stroke="#c8b0e4" stroke-width="1.1" opacity="0.55"/>
<line x1="54" y1="163.7" x2="51.9" y2="167.9" stroke="#9a6cbc" stroke-width="1.1" opacity="0.55"/>
<line x1="66.2" y1="187.5" x2="64.1" y2="191.6" stroke="#c8b0e4" stroke-width="1.1" opacity="0.55"/>
<line x1="57.7" y1="181.6" x2="55.7" y2="185.5" stroke="#8a62b0" stroke-width="1.1" opacity="0.55"/>
<line x1="68.8" y1="179.3" x2="65.7" y2="185.4" stroke="#9a6cbc" stroke-width="1.1" opacity="0.55"/>
<line x1="61.9" y1="198.2" x2="59.2" y2="203.5" stroke="#c8b0e4" stroke-width="1.1" opacity="0.55"/>
<line x1="76.7" y1="188.3" x2="74.3" y2="193" stroke="#9a6cbc" stroke-width="1.1" opacity="0.55"/>
<line x1="64.6" y1="196.1" x2="61" y2="203.2" stroke="#9a6cbc" stroke-width="1.1" opacity="0.55"/>
<line x1="68.4" y1="160.5" x2="65.3" y2="166.6" stroke="#c8b0e4" stroke-width="1.1" opacity="0.55"/>
<line x1="75" y1="164" x2="72.1" y2="170" stroke="#8a62b0" stroke-width="1.1" opacity="0.55"/>
<line x1="84.3" y1="160.7" x2="81.1" y2="167" stroke="#9a6cbc" stroke-width="1.1" opacity="0.55"/>
<line x1="56.2" y1="172.8" x2="53.2" y2="178.8" stroke="#bca0dc" stroke-width="1.1" opacity="0.55"/>
<line x1="44" y1="161.4" x2="41.6" y2="166.3" stroke="#8a62b0" stroke-width="1.1" opacity="0.55"/>
<line x1="43.6" y1="188.4" x2="40.3" y2="195.1" stroke="#bca0dc" stroke-width="1.1" opacity="0.55"/>
<line x1="53.7" y1="174.4" x2="50.3" y2="181.2" stroke="#8a62b0" stroke-width="1.1" opacity="0.55"/>
<line x1="83.3" y1="173" x2="80.1" y2="179.6" stroke="#bca0dc" stroke-width="1.1" opacity="0.55"/>
<line x1="43.6" y1="191.3" x2="41.4" y2="195.6" stroke="#c8b0e4" stroke-width="1.1" opacity="0.55"/>
<line x1="58.8" y1="197.9" x2="55.9" y2="203.9" stroke="#c8b0e4" stroke-width="1.1" opacity="0.55"/>
<line x1="61.2" y1="181.6" x2="57.2" y2="189.5" stroke="#bca0dc" stroke-width="1.1" opacity="0.55"/>
<line x1="79.9" y1="169.6" x2="77.1" y2="175.2" stroke="#9a6cbc" stroke-width="1.1" opacity="0.55"/>
<line x1="71.7" y1="174.2" x2="69.3" y2="178.9" stroke="#8a62b0" stroke-width="1.1" opacity="0.55"/>
<line x1="48.8" y1="167.6" x2="46.5" y2="172.3" stroke="#bca0dc" stroke-width="1.1" opacity="0.55"/>
<line x1="78.4" y1="165.4" x2="75.9" y2="170.3" stroke="#c8b0e4" stroke-width="1.1" opacity="0.55"/>
<line x1="59.8" y1="173.7" x2="56.6" y2="180" stroke="#c8b0e4" stroke-width="1.1" opacity="0.55"/>
<line x1="72" y1="180.1" x2="68.8" y2="186.7" stroke="#8a62b0" stroke-width="1.1" opacity="0.55"/>
<line x1="61.5" y1="195.9" x2="57.4" y2="204.1" stroke="#bca0dc" stroke-width="1.1" opacity="0.55"/>
<line x1="58.9" y1="174.8" x2="55.9" y2="180.7" stroke="#bca0dc" stroke-width="1.1" opacity="0.55"/>
<line x1="43.7" y1="160.3" x2="41.4" y2="164.9" stroke="#c8b0e4" stroke-width="1.1" opacity="0.55"/>
<line x1="45.9" y1="183.9" x2="43.8" y2="188" stroke="#c8b0e4" stroke-width="1.1" opacity="0.55"/>
<line x1="65.1" y1="199.3" x2="61.8" y2="205.9" stroke="#8a62b0" stroke-width="1.1" opacity="0.55"/>
<line x1="80.3" y1="184.5" x2="78.2" y2="188.8" stroke="#9a6cbc" stroke-width="1.1" opacity="0.55"/>
<line x1="84" y1="184" x2="81.1" y2="189.9" stroke="#8a62b0" stroke-width="1.1" opacity="0.55"/>
<line x1="79.2" y1="201.3" x2="76.3" y2="207.1" stroke="#bca0dc" stroke-width="1.1" opacity="0.55"/>
<line x1="55" y1="163.7" x2="51.4" y2="170.9" stroke="#9a6cbc" stroke-width="1.1" opacity="0.55"/>
<line x1="62.5" y1="188" x2="59.4" y2="194" stroke="#c8b0e4" stroke-width="1.1" opacity="0.55"/>
<line x1="83.8" y1="180.7" x2="81.6" y2="185" stroke="#8a62b0" stroke-width="1.1" opacity="0.55"/>
<line x1="75.1" y1="170.5" x2="71.7" y2="177.2" stroke="#8a62b0" stroke-width="1.1" opacity="0.55"/>
<line x1="72.3" y1="168.9" x2="69.6" y2="174.2" stroke="#c8b0e4" stroke-width="1.1" opacity="0.55"/>
<line x1="56.9" y1="167.2" x2="53.8" y2="173.4" stroke="#9a6cbc" stroke-width="1.1" opacity="0.55"/>
<line x1="69.6" y1="184.5" x2="65.9" y2="191.9" stroke="#c8b0e4" stroke-width="1.1" opacity="0.55"/>
<polygon points="87.5,157.3 99.8,157.3 99.8,201.6 67,201.6" fill="#c08cac"/>
<line x1="93.4" y1="193.6" x2="89.9" y2="201.9" stroke="#d8a0c0" stroke-width="1.1" opacity="0.6"/>
<line x1="73.6" y1="179.1" x2="70" y2="187.4" stroke="#9a5aa8" stroke-width="1.1" opacity="0.6"/>
<line x1="92.9" y1="178.2" x2="90.7" y2="183.5" stroke="#8a5ab0" stroke-width="1.1" opacity="0.6"/>
<line x1="81.7" y1="198.8" x2="77.5" y2="208.5" stroke="#8a5ab0" stroke-width="1.1" opacity="0.6"/>
<line x1="69.6" y1="161.8" x2="66.7" y2="168.7" stroke="#8a5ab0" stroke-width="1.1" opacity="0.6"/>
<line x1="73.7" y1="184.9" x2="69.7" y2="194.2" stroke="#9a5aa8" stroke-width="1.1" opacity="0.6"/>
<line x1="82.7" y1="186.2" x2="79" y2="194.9" stroke="#9a5aa8" stroke-width="1.1" opacity="0.6"/>
<line x1="94.4" y1="162.6" x2="91.6" y2="169" stroke="#d8a0c0" stroke-width="1.1" opacity="0.6"/>
<line x1="82.7" y1="165.2" x2="79" y2="173.8" stroke="#8a5ab0" stroke-width="1.1" opacity="0.6"/>
<line x1="69.8" y1="199.2" x2="66.3" y2="207.5" stroke="#c890b0" stroke-width="1.1" opacity="0.6"/>
<line x1="80.2" y1="199.2" x2="76.6" y2="207.5" stroke="#d8a0c0" stroke-width="1.1" opacity="0.6"/>
<line x1="99.6" y1="158.5" x2="96.4" y2="166" stroke="#c890b0" stroke-width="1.1" opacity="0.6"/>
<line x1="93.5" y1="163.8" x2="89.7" y2="172.6" stroke="#c890b0" stroke-width="1.1" opacity="0.6"/>
<line x1="88.6" y1="172.8" x2="85.4" y2="180.1" stroke="#d8a0c0" stroke-width="1.1" opacity="0.6"/>
<line x1="67.7" y1="192.7" x2="64.2" y2="201" stroke="#9a5aa8" stroke-width="1.1" opacity="0.6"/>
<line x1="84.3" y1="198.7" x2="81.4" y2="205.3" stroke="#d8a0c0" stroke-width="1.1" opacity="0.6"/>
<line x1="94.1" y1="166.6" x2="91.7" y2="172.3" stroke="#8a5ab0" stroke-width="1.1" opacity="0.6"/>
<line x1="83.4" y1="191.1" x2="80.9" y2="197.2" stroke="#c890b0" stroke-width="1.1" opacity="0.6"/>
<line x1="94.4" y1="160" x2="90.8" y2="168.3" stroke="#c890b0" stroke-width="1.1" opacity="0.6"/>
<line x1="88.7" y1="193.4" x2="85.7" y2="200.5" stroke="#d8a0c0" stroke-width="1.1" opacity="0.6"/>
<line x1="84.4" y1="180.5" x2="82.6" y2="184.8" stroke="#c890b0" stroke-width="1.1" opacity="0.6"/>
<line x1="92.5" y1="184.3" x2="88.8" y2="192.8" stroke="#d8a0c0" stroke-width="1.1" opacity="0.6"/>
<line x1="72.7" y1="178.3" x2="69.1" y2="186.5" stroke="#9a5aa8" stroke-width="1.1" opacity="0.6"/>
<line x1="77.7" y1="180.3" x2="74.6" y2="187.6" stroke="#9a5aa8" stroke-width="1.1" opacity="0.6"/>
<line x1="96" y1="159.8" x2="93.7" y2="165.1" stroke="#9a5aa8" stroke-width="1.1" opacity="0.6"/>
<line x1="92.3" y1="179.8" x2="89.2" y2="187.1" stroke="#9a5aa8" stroke-width="1.1" opacity="0.6"/>
<line x1="81.5" y1="184.4" x2="78.5" y2="191.5" stroke="#d8a0c0" stroke-width="1.1" opacity="0.6"/>
<line x1="89.7" y1="177.3" x2="86.6" y2="184.5" stroke="#c890b0" stroke-width="1.1" opacity="0.6"/>
<line x1="83.7" y1="168.3" x2="80.6" y2="175.4" stroke="#8a5ab0" stroke-width="1.1" opacity="0.6"/>
<line x1="97.3" y1="196.8" x2="95" y2="202.2" stroke="#c890b0" stroke-width="1.1" opacity="0.6"/>
<line x1="71.5" y1="162.7" x2="68.6" y2="169.4" stroke="#9a5aa8" stroke-width="1.1" opacity="0.6"/>
<line x1="89" y1="176.3" x2="86.7" y2="181.7" stroke="#8a5ab0" stroke-width="1.1" opacity="0.6"/>
<line x1="92.7" y1="197" x2="90.5" y2="202.1" stroke="#8a5ab0" stroke-width="1.1" opacity="0.6"/>
<line x1="71.7" y1="196.4" x2="67.6" y2="206" stroke="#d8a0c0" stroke-width="1.1" opacity="0.6"/>
<line x1="91.5" y1="161.5" x2="87.6" y2="170.6" stroke="#d8a0c0" stroke-width="1.1" opacity="0.6"/>
<line x1="99.5" y1="194.2" x2="97.3" y2="199.3" stroke="#c890b0" stroke-width="1.1" opacity="0.6"/>
<line x1="99.6" y1="175.2" x2="96.8" y2="181.7" stroke="#8a5ab0" stroke-width="1.1" opacity="0.6"/>
<line x1="77.4" y1="189.3" x2="75.6" y2="193.6" stroke="#c890b0" stroke-width="1.1" opacity="0.6"/>
<line x1="81.4" y1="158.1" x2="78.9" y2="164.2" stroke="#8a5ab0" stroke-width="1.1" opacity="0.6"/>
<line x1="83.8" y1="160.1" x2="79.6" y2="169.9" stroke="#d8a0c0" stroke-width="1.1" opacity="0.6"/>
<polygon points="93.8,157.3 99.8,157.3 99.8,175" fill="#c890b4" opacity="0.6"/>
<rect x="38.9" y="155.3" width="62.9" height="48.3" filter="url(#nzd)" opacity="0.3"/>
<rect x="38.9" y="155.3" width="62.9" height="48.3" filter="url(#nzl)" opacity="0.3"/>
<polygon points="86.8,157.3 88.4,157.3 85.5,162 83.5,166.5 68.2,201.6 66,201.6 79.5,171 82,164" fill="#fbf8fc"/>
<path d="M40.9,157.3 L57.6,157.3 Q56.5,160 55.8,162 Q54.5,166.5 53.5,168 Q51,172.5 50,174.5 Q47.5,179 46,183 Q44,187 41.5,189.5 L40.9,190.5Z" fill="#fdfbfd"/>
<path d="M57.6,157.5 Q56.5,160 55.8,162 Q54.5,166.5 53.5,168 Q51,172.5 50,174.5 Q47.5,179 46,183 Q44,187 41.5,189.5" fill="none" stroke="#6a4a8a" stroke-width="0.9" stroke-linecap="round" opacity="0.6"/>
<path d="M46,165.5 Q48.5,165 51,166.5 L49.5,169.5" fill="none" stroke="#4a4050" stroke-width="0.9" stroke-linecap="round" opacity="0.75"/>
<path d="M41.2,175.5 Q43,178 42,183" fill="none" stroke="#5a5060" stroke-width="0.8" stroke-linecap="round" opacity="0.6"/>
</g></g>
<g clip-path="url(#c1)"><g filter="url(#bl)">
<rect x="101.9" y="157.3" width="58.5" height="44.3" fill="#dabce2"/>
<path d="M101.9,157.3 L123.5,157.3 L121,162.5 L119,168.5 L114,172.5 L113,177 L111,183 L111,190 L111,198 L110.5,201.6 L101.9,201.6Z" fill="#c0b6ea"/>
<circle cx="141.2" cy="164.4" r="0.8" fill="#8a5aa8" opacity="0.7"/>
<circle cx="139.3" cy="167.6" r="1.1" fill="#a070b8" opacity="0.7"/>
<circle cx="137.6" cy="188.1" r="1.2" fill="#a070b8" opacity="0.7"/>
<circle cx="117.3" cy="198.2" r="0.9" fill="#7a5a9a" opacity="0.7"/>
<circle cx="122.5" cy="171.6" r="1.1" fill="#8a5aa8" opacity="0.7"/>
<circle cx="125.3" cy="163" r="1.2" fill="#7a5a9a" opacity="0.7"/>
<circle cx="115.6" cy="170.8" r="1" fill="#8a5aa8" opacity="0.7"/>
<circle cx="114.9" cy="195.9" r="0.9" fill="#a070b8" opacity="0.7"/>
<circle cx="141.8" cy="177.4" r="1.1" fill="#7a5a9a" opacity="0.7"/>
<circle cx="116.7" cy="181.9" r="0.7" fill="#8a5aa8" opacity="0.7"/>
<circle cx="141.1" cy="170.9" r="0.7" fill="#a070b8" opacity="0.7"/>
<circle cx="131.2" cy="182.1" r="0.7" fill="#a070b8" opacity="0.7"/>
<circle cx="127.5" cy="167.4" r="0.8" fill="#8a5aa8" opacity="0.7"/>
<circle cx="141.8" cy="161.5" r="0.6" fill="#7a5a9a" opacity="0.7"/>
<circle cx="129" cy="167.9" r="0.9" fill="#a070b8" opacity="0.7"/>
<circle cx="116.1" cy="194.1" r="0.9" fill="#a070b8" opacity="0.7"/>
<circle cx="128.8" cy="197" r="1.2" fill="#a070b8" opacity="0.7"/>
<circle cx="132.9" cy="200.9" r="0.8" fill="#7a5a9a" opacity="0.7"/>
<circle cx="134.1" cy="165.8" r="1.2" fill="#8a5aa8" opacity="0.7"/>
<circle cx="137.3" cy="160.6" r="1" fill="#a070b8" opacity="0.7"/>
<circle cx="125.5" cy="162.3" r="1" fill="#a070b8" opacity="0.7"/>
<circle cx="138.2" cy="187.9" r="0.8" fill="#8a5aa8" opacity="0.7"/>
<circle cx="133.1" cy="161.9" r="0.7" fill="#a070b8" opacity="0.7"/>
<circle cx="125.9" cy="171" r="1.2" fill="#7a5a9a" opacity="0.7"/>
<circle cx="122.4" cy="161.4" r="1.1" fill="#8a5aa8" opacity="0.7"/>
<circle cx="123.3" cy="160" r="0.8" fill="#a070b8" opacity="0.7"/>
<circle cx="121.1" cy="187.3" r="0.7" fill="#8a5aa8" opacity="0.7"/>
<circle cx="115.6" cy="194" r="0.7" fill="#7a5a9a" opacity="0.7"/>
<circle cx="114.2" cy="160.9" r="0.8" fill="#8a5aa8" opacity="0.7"/>
<circle cx="115.4" cy="199.8" r="1.1" fill="#8a5aa8" opacity="0.7"/>
<polygon points="152,157.3 160.4,157.3 160.4,201.6 139.5,201.6" fill="#de9094"/>
<line x1="153.1" y1="189" x2="150.5" y2="195.5" stroke="#eeb0b4" stroke-width="1" opacity="0.5"/>
<line x1="155.4" y1="189.2" x2="153.4" y2="194.2" stroke="#eeb0b4" stroke-width="1" opacity="0.5"/>
<line x1="154.5" y1="185.8" x2="153.2" y2="189" stroke="#c08090" stroke-width="1" opacity="0.5"/>
<line x1="158.1" y1="185.1" x2="155.7" y2="191" stroke="#c08090" stroke-width="1" opacity="0.5"/>
<line x1="142" y1="180.5" x2="140" y2="185.5" stroke="#c87284" stroke-width="1" opacity="0.5"/>
<line x1="156.7" y1="183.2" x2="154.1" y2="189.7" stroke="#c08090" stroke-width="1" opacity="0.5"/>
<line x1="159.5" y1="185.8" x2="158.1" y2="189.1" stroke="#c87284" stroke-width="1" opacity="0.5"/>
<line x1="141.8" y1="173.3" x2="140.5" y2="176.7" stroke="#eeb0b4" stroke-width="1" opacity="0.5"/>
<line x1="151" y1="185.1" x2="148.8" y2="190.6" stroke="#c08090" stroke-width="1" opacity="0.5"/>
<line x1="144.2" y1="169" x2="142.3" y2="173.8" stroke="#c87284" stroke-width="1" opacity="0.5"/>
<line x1="155" y1="179.6" x2="153" y2="184.7" stroke="#c08090" stroke-width="1" opacity="0.5"/>
<line x1="150.3" y1="190.3" x2="148.3" y2="195.2" stroke="#c87284" stroke-width="1" opacity="0.5"/>
<line x1="157.1" y1="167.7" x2="154.7" y2="173.7" stroke="#c87284" stroke-width="1" opacity="0.5"/>
<line x1="154.8" y1="200.5" x2="152.8" y2="205.5" stroke="#eeb0b4" stroke-width="1" opacity="0.5"/>
<line x1="140.6" y1="197.6" x2="139" y2="201.8" stroke="#c87284" stroke-width="1" opacity="0.5"/>
<line x1="152.2" y1="185.8" x2="150.9" y2="189.1" stroke="#c87284" stroke-width="1" opacity="0.5"/>
<line x1="146.1" y1="186.2" x2="143.8" y2="191.9" stroke="#c08090" stroke-width="1" opacity="0.5"/>
<line x1="151.2" y1="157.9" x2="149.9" y2="161.1" stroke="#eeb0b4" stroke-width="1" opacity="0.5"/>
<line x1="159.8" y1="161.7" x2="158.3" y2="165.6" stroke="#eeb0b4" stroke-width="1" opacity="0.5"/>
<line x1="145.2" y1="180.2" x2="143.3" y2="185" stroke="#eeb0b4" stroke-width="1" opacity="0.5"/>
<line x1="155.4" y1="201.3" x2="153.3" y2="206.5" stroke="#eeb0b4" stroke-width="1" opacity="0.5"/>
<line x1="159.9" y1="198.8" x2="158.7" y2="201.8" stroke="#eeb0b4" stroke-width="1" opacity="0.5"/>
<line x1="140.6" y1="179.7" x2="137.8" y2="186.7" stroke="#eeb0b4" stroke-width="1" opacity="0.5"/>
<line x1="147.3" y1="197.9" x2="144.6" y2="204.6" stroke="#c87284" stroke-width="1" opacity="0.5"/>
<line x1="151.4" y1="163.6" x2="149.4" y2="168.7" stroke="#eeb0b4" stroke-width="1" opacity="0.5"/>
<line x1="141.8" y1="193.6" x2="139.8" y2="198.7" stroke="#c87284" stroke-width="1" opacity="0.5"/>
<line x1="154.1" y1="167.6" x2="151.4" y2="174.1" stroke="#eeb0b4" stroke-width="1" opacity="0.5"/>
<line x1="147.4" y1="164.3" x2="144.7" y2="171.1" stroke="#c08090" stroke-width="1" opacity="0.5"/>
<line x1="148.6" y1="170.7" x2="147.2" y2="174.2" stroke="#eeb0b4" stroke-width="1" opacity="0.5"/>
<line x1="147" y1="162.7" x2="145.3" y2="167" stroke="#eeb0b4" stroke-width="1" opacity="0.5"/>
<rect x="99.9" y="155.3" width="62.5" height="48.3" filter="url(#nzd)" opacity="0.3"/>
<rect x="99.9" y="155.3" width="62.5" height="48.3" filter="url(#nzl)" opacity="0.3"/>
<path d="M123.6,156.5 C123.5,156.8 123.8,157.5 123.3,158.5 C122.8,159.5 120.6,161.2 120.7,162.3 C120.8,163.5 124.2,164.4 123.8,165.4 C123.4,166.4 120.2,167.3 118.6,168.5 C117,169.7 114.2,171.6 114.2,172.5 C114.2,173.4 118.7,173.4 118.6,174.2 C118.5,174.9 114.6,175.5 113.4,177 C112.2,178.5 111,181.3 111.3,183 C111.6,184.7 115.7,186 115.5,187.2 C115.3,188.4 110.5,189.2 110.3,190.4 C110.1,191.6 114.2,193.1 114.4,194.5 C114.6,195.9 112,197.4 111.3,198.7 C110.6,200 110.6,201.9 110.5,202.5" fill="none" stroke="#3a1e5a" stroke-width="1.3" stroke-linecap="round"/>
<circle cx="121.5" cy="166" r="1.2" fill="none" stroke="#4a2a6a" stroke-width="0.7" opacity="0.8"/>
<circle cx="116.5" cy="175.5" r="1.2" fill="none" stroke="#4a2a6a" stroke-width="0.7" opacity="0.8"/>
<circle cx="116.5" cy="187.2" r="1.2" fill="none" stroke="#4a2a6a" stroke-width="0.7" opacity="0.8"/>
<circle cx="114.4" cy="197.7" r="1.2" fill="none" stroke="#4a2a6a" stroke-width="0.7" opacity="0.8"/>
<circle cx="119.5" cy="181" r="1.2" fill="none" stroke="#4a2a6a" stroke-width="0.7" opacity="0.8"/>
<circle cx="112.5" cy="192.5" r="1.2" fill="none" stroke="#4a2a6a" stroke-width="0.7" opacity="0.8"/>
<polygon points="146,157.3 155.5,157.3 150,171 139.5,201.6 131,201.6 141.5,173" fill="#fbf8fc"/>
<polygon points="155.5,157.3 160.4,157.3 160.4,163" fill="#f6eef2"/>
</g></g>
<g clip-path="url(#c2)"><g filter="url(#bl)">
<rect x="40.9" y="203.6" width="58.9" height="44" fill="#785098"/>
<circle cx="85.1" cy="240.5" r="0.5" fill="#a490d0" opacity="0.55"/>
<circle cx="82.9" cy="243.3" r="0.5" fill="#9a5aa0" opacity="0.55"/>
<circle cx="44.7" cy="220.8" r="0.8" fill="#4a3480" opacity="0.55"/>
<circle cx="62.1" cy="222.4" r="0.5" fill="#4a3480" opacity="0.55"/>
<circle cx="57.4" cy="205.9" r="0.7" fill="#c0b0e0" opacity="0.55"/>
<circle cx="96" cy="214.6" r="0.5" fill="#b07ab8" opacity="0.55"/>
<circle cx="59.5" cy="237.6" r="0.8" fill="#5a4898" opacity="0.55"/>
<circle cx="93" cy="239.3" r="0.7" fill="#b07ab8" opacity="0.55"/>
<circle cx="73.2" cy="235.3" r="0.4" fill="#c0b0e0" opacity="0.55"/>
<circle cx="65.1" cy="230.7" r="0.5" fill="#9a5aa0" opacity="0.55"/>
<circle cx="69.5" cy="243.7" r="0.7" fill="#a490d0" opacity="0.55"/>
<circle cx="68.7" cy="218.7" r="0.5" fill="#c0b0e0" opacity="0.55"/>
<circle cx="84.4" cy="232.3" r="0.6" fill="#a490d0" opacity="0.55"/>
<circle cx="58.6" cy="228.1" r="0.6" fill="#a490d0" opacity="0.55"/>
<circle cx="78.8" cy="206.9" r="0.7" fill="#5a4898" opacity="0.55"/>
<circle cx="73.3" cy="223.5" r="0.6" fill="#5a4898" opacity="0.55"/>
<circle cx="66.1" cy="227.7" r="0.5" fill="#a490d0" opacity="0.55"/>
<circle cx="61" cy="207.6" r="0.5" fill="#9a5aa0" opacity="0.55"/>
<circle cx="88.6" cy="212.5" r="0.4" fill="#5a4898" opacity="0.55"/>
<circle cx="63.4" cy="236.4" r="0.5" fill="#9a5aa0" opacity="0.55"/>
<circle cx="60.8" cy="206.3" r="0.5" fill="#9a5aa0" opacity="0.55"/>
<circle cx="48.3" cy="225.7" r="0.7" fill="#a490d0" opacity="0.55"/>
<circle cx="46.4" cy="243.1" r="0.6" fill="#c0b0e0" opacity="0.55"/>
<circle cx="67.2" cy="245.6" r="0.8" fill="#4a3480" opacity="0.55"/>
<circle cx="48.4" cy="222.3" r="0.8" fill="#5a4898" opacity="0.55"/>
<circle cx="97.9" cy="225.2" r="0.4" fill="#b07ab8" opacity="0.55"/>
<circle cx="91.3" cy="246.4" r="0.5" fill="#4a3480" opacity="0.55"/>
<circle cx="54.1" cy="210.3" r="0.9" fill="#4a3480" opacity="0.55"/>
<circle cx="96.4" cy="235.4" r="0.7" fill="#5a4898" opacity="0.55"/>
<circle cx="45.9" cy="237.8" r="0.4" fill="#a490d0" opacity="0.55"/>
<circle cx="54.6" cy="244.1" r="0.7" fill="#9a5aa0" opacity="0.55"/>
<circle cx="97.6" cy="231.2" r="0.7" fill="#5a4898" opacity="0.55"/>
<circle cx="82" cy="208.5" r="0.4" fill="#b07ab8" opacity="0.55"/>
<circle cx="96.5" cy="212" r="0.5" fill="#b07ab8" opacity="0.55"/>
<circle cx="41" cy="227.2" r="0.9" fill="#9a5aa0" opacity="0.55"/>
<circle cx="97.4" cy="232" r="0.8" fill="#5a4898" opacity="0.55"/>
<circle cx="71.9" cy="227.7" r="0.4" fill="#5a4898" opacity="0.55"/>
<circle cx="82.4" cy="217.1" r="0.4" fill="#5a4898" opacity="0.55"/>
<circle cx="93" cy="232.1" r="0.4" fill="#a490d0" opacity="0.55"/>
<circle cx="80.2" cy="244.3" r="0.5" fill="#4a3480" opacity="0.55"/>
<circle cx="81.9" cy="235.2" r="0.6" fill="#5a4898" opacity="0.55"/>
<circle cx="52.6" cy="238.7" r="0.8" fill="#b07ab8" opacity="0.55"/>
<circle cx="44.9" cy="225.4" r="0.5" fill="#a490d0" opacity="0.55"/>
<circle cx="54.5" cy="213.3" r="0.8" fill="#9a5aa0" opacity="0.55"/>
<circle cx="47.3" cy="231" r="0.7" fill="#a490d0" opacity="0.55"/>
<circle cx="69.5" cy="243.7" r="0.4" fill="#b07ab8" opacity="0.55"/>
<circle cx="49.5" cy="220.9" r="0.5" fill="#b07ab8" opacity="0.55"/>
<circle cx="49.3" cy="205.9" r="0.4" fill="#5a4898" opacity="0.55"/>
<circle cx="67.4" cy="234.9" r="0.6" fill="#4a3480" opacity="0.55"/>
<circle cx="99.7" cy="244.6" r="0.6" fill="#a490d0" opacity="0.55"/>
<circle cx="79.3" cy="226.7" r="0.6" fill="#9a5aa0" opacity="0.55"/>
<circle cx="80" cy="220.3" r="0.6" fill="#9a5aa0" opacity="0.55"/>
<circle cx="67" cy="208.4" r="0.4" fill="#4a3480" opacity="0.55"/>
<circle cx="61.6" cy="245.6" r="0.5" fill="#a490d0" opacity="0.55"/>
<circle cx="63.3" cy="237.4" r="0.6" fill="#5a4898" opacity="0.55"/>
<circle cx="46.1" cy="234.6" r="0.5" fill="#b07ab8" opacity="0.55"/>
<circle cx="95.1" cy="212.1" r="0.6" fill="#5a4898" opacity="0.55"/>
<circle cx="42.7" cy="221.7" r="0.8" fill="#5a4898" opacity="0.55"/>
<circle cx="43.3" cy="205.1" r="0.4" fill="#4a3480" opacity="0.55"/>
<circle cx="56" cy="236.5" r="0.8" fill="#9a5aa0" opacity="0.55"/>
<circle cx="62.3" cy="218.3" r="0.9" fill="#4a3480" opacity="0.55"/>
<circle cx="56.3" cy="235.1" r="0.6" fill="#9a5aa0" opacity="0.55"/>
<circle cx="58.4" cy="235.3" r="0.7" fill="#c0b0e0" opacity="0.55"/>
<circle cx="96.6" cy="206.5" r="0.8" fill="#4a3480" opacity="0.55"/>
<circle cx="68.9" cy="245.7" r="0.9" fill="#5a4898" opacity="0.55"/>
<circle cx="87.4" cy="243.8" r="0.8" fill="#a490d0" opacity="0.55"/>
<circle cx="95.6" cy="211.6" r="0.8" fill="#c0b0e0" opacity="0.55"/>
<circle cx="58.8" cy="234.1" r="0.5" fill="#a490d0" opacity="0.55"/>
<circle cx="60.2" cy="217.7" r="0.6" fill="#b07ab8" opacity="0.55"/>
<circle cx="45.6" cy="212.3" r="0.8" fill="#a490d0" opacity="0.55"/>
<circle cx="64.9" cy="232.2" r="0.6" fill="#b07ab8" opacity="0.55"/>
<circle cx="60.1" cy="246.7" r="0.8" fill="#4a3480" opacity="0.55"/>
<circle cx="56.5" cy="207.3" r="0.4" fill="#5a4898" opacity="0.55"/>
<circle cx="99.1" cy="246.4" r="0.5" fill="#a490d0" opacity="0.55"/>
<circle cx="65.5" cy="230.9" r="0.7" fill="#c0b0e0" opacity="0.55"/>
<circle cx="72.6" cy="237.7" r="0.8" fill="#9a5aa0" opacity="0.55"/>
<circle cx="58.2" cy="228.5" r="0.6" fill="#c0b0e0" opacity="0.55"/>
<circle cx="56.2" cy="222.9" r="0.5" fill="#a490d0" opacity="0.55"/>
<circle cx="49.9" cy="242.5" r="0.7" fill="#9a5aa0" opacity="0.55"/>
<circle cx="44.7" cy="214.7" r="0.5" fill="#b07ab8" opacity="0.55"/>
<circle cx="54.5" cy="239.2" r="0.7" fill="#4a3480" opacity="0.55"/>
<circle cx="46.9" cy="224.5" r="0.8" fill="#5a4898" opacity="0.55"/>
<circle cx="94.8" cy="205.4" r="0.5" fill="#4a3480" opacity="0.55"/>
<circle cx="43.9" cy="230" r="0.8" fill="#a490d0" opacity="0.55"/>
<circle cx="95.7" cy="220" r="0.8" fill="#5a4898" opacity="0.55"/>
<circle cx="76.4" cy="237.7" r="0.7" fill="#4a3480" opacity="0.55"/>
<circle cx="47.1" cy="229.8" r="0.7" fill="#a490d0" opacity="0.55"/>
<circle cx="43.1" cy="218.6" r="0.4" fill="#9a5aa0" opacity="0.55"/>
<circle cx="43.2" cy="235.8" r="0.9" fill="#4a3480" opacity="0.55"/>
<circle cx="89.1" cy="221.6" r="0.6" fill="#b07ab8" opacity="0.55"/>
<circle cx="59.3" cy="212.5" r="0.8" fill="#b07ab8" opacity="0.55"/>
<circle cx="69.4" cy="221.6" r="0.8" fill="#c0b0e0" opacity="0.55"/>
<circle cx="73.3" cy="231.7" r="0.4" fill="#a490d0" opacity="0.55"/>
<circle cx="64.3" cy="215.5" r="0.9" fill="#c0b0e0" opacity="0.55"/>
<circle cx="59" cy="245.5" r="0.6" fill="#b07ab8" opacity="0.55"/>
<circle cx="92.9" cy="221.8" r="0.4" fill="#9a5aa0" opacity="0.55"/>
<circle cx="78.9" cy="220.8" r="0.6" fill="#4a3480" opacity="0.55"/>
<circle cx="66.5" cy="210.5" r="0.5" fill="#4a3480" opacity="0.55"/>
<circle cx="64.8" cy="242.4" r="0.6" fill="#a490d0" opacity="0.55"/>
<circle cx="48.6" cy="205.9" r="0.5" fill="#5a4898" opacity="0.55"/>
<circle cx="46.1" cy="231" r="0.6" fill="#b07ab8" opacity="0.55"/>
<circle cx="51" cy="218.9" r="0.5" fill="#a490d0" opacity="0.55"/>
<circle cx="95.4" cy="208.4" r="0.6" fill="#a490d0" opacity="0.55"/>
<circle cx="58.7" cy="240.4" r="0.4" fill="#5a4898" opacity="0.55"/>
<circle cx="59.4" cy="230.3" r="0.7" fill="#4a3480" opacity="0.55"/>
<circle cx="94.2" cy="230.9" r="0.8" fill="#a490d0" opacity="0.55"/>
<circle cx="78.6" cy="241.3" r="0.7" fill="#b07ab8" opacity="0.55"/>
<circle cx="90.8" cy="240.1" r="0.5" fill="#a490d0" opacity="0.55"/>
<circle cx="43.4" cy="244.9" r="0.5" fill="#9a5aa0" opacity="0.55"/>
<circle cx="48.1" cy="214.5" r="0.8" fill="#a490d0" opacity="0.55"/>
<rect x="38.9" y="201.6" width="62.9" height="48" filter="url(#nzd)" opacity="0.3"/>
<rect x="38.9" y="201.6" width="62.9" height="48" filter="url(#nzl)" opacity="0.3"/>
<path d="M54.5,226 Q55,223 60,223.4 L67,224.4 Q72,224.2 74,225.6 Q76,227.5 74,229 Q71,230 66,229.4 L58,230 Q54,229.5 54.5,226Z" fill="#c0e6f2"/>
<path d="M80.5,219 Q80.5,215 84,213.5 L88.5,211.3 Q90.8,212 89.8,215 Q87.5,219.5 84.5,221.3 Q81,222.5 80.5,219Z" fill="#c0e6f2"/>
<path d="M44.5,222 L46.5,219.5 L47.5,222.5 L45.5,223.5Z" fill="#b6e0f4"/>
<circle cx="50.5" cy="225.5" r="2" fill="#3a3080" opacity="0.55"/>
<path d="M49,232 L56,240 M52,232 L58,239" stroke="#c0b0e0" stroke-width="0.8" opacity="0.5"/>
</g></g>
<g clip-path="url(#c3)"><g filter="url(#bl)">
<rect x="101.9" y="203.6" width="58.5" height="44" fill="#785098"/>
<circle cx="104.3" cy="228.3" r="0.8" fill="#4a3480" opacity="0.55"/>
<circle cx="141" cy="217.9" r="0.6" fill="#5a4898" opacity="0.55"/>
<circle cx="134.1" cy="231.2" r="0.6" fill="#5a4898" opacity="0.55"/>
<circle cx="119.9" cy="214.6" r="0.6" fill="#9a5aa0" opacity="0.55"/>
<circle cx="128" cy="222.9" r="0.4" fill="#b07ab8" opacity="0.55"/>
<circle cx="159.6" cy="224.1" r="0.6" fill="#b07ab8" opacity="0.55"/>
<circle cx="147.5" cy="223.8" r="0.5" fill="#5a4898" opacity="0.55"/>
<circle cx="125.3" cy="206.6" r="0.6" fill="#9a5aa0" opacity="0.55"/>
<circle cx="107.3" cy="223" r="0.7" fill="#4a3480" opacity="0.55"/>
<circle cx="104.3" cy="209.3" r="0.9" fill="#9a5aa0" opacity="0.55"/>
<circle cx="147.4" cy="226.1" r="0.4" fill="#b07ab8" opacity="0.55"/>
<circle cx="154.2" cy="232.3" r="0.8" fill="#4a3480" opacity="0.55"/>
<circle cx="152" cy="247.4" r="0.8" fill="#4a3480" opacity="0.55"/>
<circle cx="113.2" cy="246.8" r="0.6" fill="#a490d0" opacity="0.55"/>
<circle cx="142" cy="235.3" r="0.5" fill="#9a5aa0" opacity="0.55"/>
<circle cx="137.6" cy="214.7" r="0.6" fill="#b07ab8" opacity="0.55"/>
<circle cx="118" cy="239.5" r="0.5" fill="#b07ab8" opacity="0.55"/>
<circle cx="158.3" cy="224.7" r="0.7" fill="#b07ab8" opacity="0.55"/>
<circle cx="131.5" cy="217.6" r="0.4" fill="#a490d0" opacity="0.55"/>
<circle cx="125.5" cy="231.6" r="0.5" fill="#9a5aa0" opacity="0.55"/>
<circle cx="154.3" cy="211" r="0.8" fill="#4a3480" opacity="0.55"/>
<circle cx="146.8" cy="205.7" r="0.8" fill="#5a4898" opacity="0.55"/>
<circle cx="134.4" cy="229.1" r="0.8" fill="#4a3480" opacity="0.55"/>
<circle cx="116.6" cy="227.2" r="0.8" fill="#c0b0e0" opacity="0.55"/>
<circle cx="148.6" cy="215.2" r="0.9" fill="#b07ab8" opacity="0.55"/>
<circle cx="110.5" cy="218.2" r="0.4" fill="#a490d0" opacity="0.55"/>
<circle cx="112.2" cy="236.3" r="0.4" fill="#b07ab8" opacity="0.55"/>
<circle cx="116.7" cy="231.7" r="0.9" fill="#b07ab8" opacity="0.55"/>
<circle cx="156.2" cy="243" r="0.8" fill="#c0b0e0" opacity="0.55"/>
<circle cx="103.9" cy="210.2" r="0.7" fill="#5a4898" opacity="0.55"/>
<circle cx="126.3" cy="219.6" r="0.4" fill="#5a4898" opacity="0.55"/>
<circle cx="115.2" cy="232.3" r="0.4" fill="#4a3480" opacity="0.55"/>
<circle cx="135.1" cy="217" r="0.7" fill="#b07ab8" opacity="0.55"/>
<circle cx="115" cy="229.3" r="0.7" fill="#a490d0" opacity="0.55"/>
<circle cx="123.3" cy="240.1" r="0.5" fill="#4a3480" opacity="0.55"/>
<circle cx="156.7" cy="214.3" r="0.5" fill="#4a3480" opacity="0.55"/>
<circle cx="105.6" cy="210" r="0.7" fill="#9a5aa0" opacity="0.55"/>
<circle cx="125.4" cy="215.2" r="0.4" fill="#c0b0e0" opacity="0.55"/>
<circle cx="149.9" cy="242.9" r="0.7" fill="#b07ab8" opacity="0.55"/>
<circle cx="127.9" cy="244.8" r="0.8" fill="#a490d0" opacity="0.55"/>
<circle cx="111.6" cy="203.6" r="0.4" fill="#4a3480" opacity="0.55"/>
<circle cx="125.7" cy="214.1" r="0.4" fill="#4a3480" opacity="0.55"/>
<circle cx="102.6" cy="227.8" r="0.9" fill="#a490d0" opacity="0.55"/>
<circle cx="126.1" cy="226.4" r="0.7" fill="#c0b0e0" opacity="0.55"/>
<circle cx="139.4" cy="239.4" r="0.5" fill="#9a5aa0" opacity="0.55"/>
<circle cx="105.6" cy="231.1" r="0.9" fill="#c0b0e0" opacity="0.55"/>
<circle cx="147.7" cy="235.1" r="0.4" fill="#5a4898" opacity="0.55"/>
<circle cx="145.5" cy="224.1" r="0.8" fill="#5a4898" opacity="0.55"/>
<circle cx="112.2" cy="247.5" r="0.5" fill="#c0b0e0" opacity="0.55"/>
<circle cx="104.2" cy="218.4" r="0.8" fill="#c0b0e0" opacity="0.55"/>
<circle cx="157.1" cy="215.2" r="0.4" fill="#c0b0e0" opacity="0.55"/>
<circle cx="134.3" cy="222.8" r="0.8" fill="#b07ab8" opacity="0.55"/>
<circle cx="158.8" cy="216.6" r="0.9" fill="#a490d0" opacity="0.55"/>
<circle cx="106.9" cy="225.9" r="0.5" fill="#a490d0" opacity="0.55"/>
<circle cx="151.1" cy="212.5" r="0.5" fill="#9a5aa0" opacity="0.55"/>
<circle cx="113.1" cy="220.7" r="0.7" fill="#5a4898" opacity="0.55"/>
<circle cx="155" cy="231.4" r="0.7" fill="#c0b0e0" opacity="0.55"/>
<circle cx="151.1" cy="227.2" r="0.6" fill="#b07ab8" opacity="0.55"/>
<circle cx="142.7" cy="241.3" r="0.6" fill="#c0b0e0" opacity="0.55"/>
<circle cx="115.6" cy="242.5" r="0.8" fill="#5a4898" opacity="0.55"/>
<circle cx="138.3" cy="207" r="0.9" fill="#a490d0" opacity="0.55"/>
<circle cx="103.8" cy="208.5" r="0.7" fill="#a490d0" opacity="0.55"/>
<circle cx="122.1" cy="209.8" r="0.4" fill="#4a3480" opacity="0.55"/>
<circle cx="110" cy="231.9" r="0.4" fill="#4a3480" opacity="0.55"/>
<circle cx="145" cy="206.5" r="0.7" fill="#9a5aa0" opacity="0.55"/>
<circle cx="113.6" cy="245.6" r="0.7" fill="#c0b0e0" opacity="0.55"/>
<circle cx="105.8" cy="241.8" r="0.9" fill="#5a4898" opacity="0.55"/>
<circle cx="108.2" cy="212.7" r="0.5" fill="#4a3480" opacity="0.55"/>
<circle cx="157.4" cy="243.7" r="0.8" fill="#4a3480" opacity="0.55"/>
<circle cx="150.2" cy="231.4" r="0.5" fill="#4a3480" opacity="0.55"/>
<circle cx="109.7" cy="238.4" r="0.7" fill="#9a5aa0" opacity="0.55"/>
<circle cx="120.6" cy="222.2" r="0.4" fill="#9a5aa0" opacity="0.55"/>
<circle cx="156.3" cy="205.7" r="0.8" fill="#9a5aa0" opacity="0.55"/>
<circle cx="146.9" cy="230.1" r="0.6" fill="#9a5aa0" opacity="0.55"/>
<circle cx="138.1" cy="205" r="0.6" fill="#5a4898" opacity="0.55"/>
<circle cx="132.2" cy="207.9" r="0.6" fill="#4a3480" opacity="0.55"/>
<circle cx="133.4" cy="213.1" r="0.8" fill="#4a3480" opacity="0.55"/>
<circle cx="135.5" cy="216.2" r="0.6" fill="#b07ab8" opacity="0.55"/>
<circle cx="113.7" cy="237.1" r="0.9" fill="#4a3480" opacity="0.55"/>
<circle cx="122.2" cy="207.8" r="0.7" fill="#a490d0" opacity="0.55"/>
<circle cx="158.5" cy="229.7" r="0.9" fill="#b07ab8" opacity="0.55"/>
<circle cx="117.1" cy="245.1" r="0.5" fill="#a490d0" opacity="0.55"/>
<circle cx="156.8" cy="213.8" r="0.5" fill="#c0b0e0" opacity="0.55"/>
<circle cx="146.8" cy="225.2" r="0.9" fill="#b07ab8" opacity="0.55"/>
<circle cx="147.9" cy="231.2" r="0.6" fill="#5a4898" opacity="0.55"/>
<circle cx="156.2" cy="242.8" r="0.8" fill="#5a4898" opacity="0.55"/>
<circle cx="153.9" cy="204.7" r="0.5" fill="#9a5aa0" opacity="0.55"/>
<circle cx="126.9" cy="227.6" r="0.5" fill="#c0b0e0" opacity="0.55"/>
<circle cx="115.6" cy="223.9" r="0.7" fill="#c0b0e0" opacity="0.55"/>
<circle cx="145.9" cy="232" r="0.6" fill="#9a5aa0" opacity="0.55"/>
<circle cx="132.4" cy="241.8" r="0.6" fill="#b07ab8" opacity="0.55"/>
<circle cx="145.3" cy="211.1" r="0.6" fill="#9a5aa0" opacity="0.55"/>
<circle cx="135.8" cy="209.1" r="0.6" fill="#c0b0e0" opacity="0.55"/>
<circle cx="115.8" cy="212" r="0.6" fill="#c0b0e0" opacity="0.55"/>
<circle cx="150.3" cy="230.8" r="0.8" fill="#a490d0" opacity="0.55"/>
<circle cx="144.2" cy="230.1" r="0.6" fill="#a490d0" opacity="0.55"/>
<circle cx="121.1" cy="211.9" r="0.9" fill="#c0b0e0" opacity="0.55"/>
<circle cx="160.1" cy="210.8" r="0.7" fill="#a490d0" opacity="0.55"/>
<circle cx="124.4" cy="246.9" r="0.8" fill="#c0b0e0" opacity="0.55"/>
<circle cx="119.3" cy="215.6" r="0.5" fill="#4a3480" opacity="0.55"/>
<circle cx="118.3" cy="242.6" r="0.6" fill="#4a3480" opacity="0.55"/>
<circle cx="125.2" cy="238.4" r="0.7" fill="#b07ab8" opacity="0.55"/>
<circle cx="159.3" cy="216.6" r="0.4" fill="#9a5aa0" opacity="0.55"/>
<circle cx="137.2" cy="221.4" r="0.8" fill="#5a4898" opacity="0.55"/>
<circle cx="142.9" cy="229.4" r="0.7" fill="#a490d0" opacity="0.55"/>
<circle cx="141" cy="232.3" r="0.8" fill="#c0b0e0" opacity="0.55"/>
<circle cx="142.9" cy="241.1" r="0.7" fill="#c0b0e0" opacity="0.55"/>
<circle cx="109.2" cy="222.6" r="0.5" fill="#c0b0e0" opacity="0.55"/>
<circle cx="107.6" cy="222.1" r="0.8" fill="#c0b0e0" opacity="0.55"/>
<circle cx="143.6" cy="210.5" r="0.8" fill="#5a4898" opacity="0.55"/>
<rect x="99.9" y="201.6" width="62.5" height="48" filter="url(#nzd)" opacity="0.3"/>
<rect x="99.9" y="201.6" width="62.5" height="48" filter="url(#nzl)" opacity="0.3"/>
<path d="M125.5,240 L125.8,233 Q127,229 131,225.5 L140,216.5 Q143.5,213.5 145.5,214.5 Q146,216.5 143,220.5 L137.5,229 Q136.5,234 136.5,238 Q133,240.5 125.5,240Z" fill="#c0e6f2"/>
<circle cx="150.7" cy="209.8" r="2.1" fill="#a8c4ec"/>
<path d="M146,214 L153,208" stroke="#9a90d0" stroke-width="1" opacity="0.6"/>
<circle cx="108.9" cy="216.9" r="1.1" fill="#c8dcf4"/>
</g></g>
<g clip-path="url(#c4)"><g filter="url(#bl)">
<rect x="40.9" y="249.6" width="58.9" height="44.3" fill="#fbf8fc"/>
<path d="M44.4,284 L45.2,254.5 Q48.5,250.5 51.8,254.5 L52.6,284Z" fill="#8e5cb4"/>
<path d="M48.5,276 L48.5,256" stroke="#c2a2dc" stroke-width="1.6" opacity="0.7"/>
<path d="M54.8,284 L55.6,253.1 Q58.7,249.1 61.8,253.1 L62.6,284Z" fill="#8e5cb4"/>
<path d="M58.7,276 L58.7,254.6" stroke="#c2a2dc" stroke-width="1.5" opacity="0.7"/>
<path d="M64,284 L65.1,253.7 Q68.1,249.7 71.1,253.7 L71.6,284Z" fill="#8e5cb4"/>
<path d="M67.8,276 L68.1,255.2" stroke="#c2a2dc" stroke-width="1.5" opacity="0.7"/>
<path d="M72.8,284 L74.4,253.5 Q77.2,249.5 80,253.5 L80,284Z" fill="#8e5cb4"/>
<path d="M76.4,276 L77.2,255" stroke="#c2a2dc" stroke-width="1.4" opacity="0.7"/>
<path d="M80.6,284 L82.8,254 Q84.7,250 86.6,254 L86,284Z" fill="#8e5cb4"/>
<path d="M83.3,276 L84.7,255.5" stroke="#c2a2dc" stroke-width="0.9" opacity="0.7"/>
<path d="M86.2,284 L89,255 Q90.8,251 92.6,255 L91.4,284Z" fill="#8e5cb4"/>
<path d="M88.8,276 L90.8,256.5" stroke="#c2a2dc" stroke-width="0.9" opacity="0.7"/>
<path d="M91.4,284 L95,256.5 Q96.9,252.5 98.8,256.5 L96.8,284Z" fill="#8e5cb4"/>
<path d="M94.1,276 L96.9,258" stroke="#c2a2dc" stroke-width="0.9" opacity="0.7"/>
<polygon points="40.9,266 44.6,262 44.6,293.9 40.9,293.9" fill="#9266bc"/>
<rect x="40.9" y="276.5" width="58.9" height="12.3" fill="#5e3290" opacity="0.7"/>
<ellipse cx="43" cy="283" rx="1.8" ry="3.5" fill="#3e1c70" opacity="0.6"/>
<ellipse cx="47.5" cy="283" rx="1.8" ry="3.5" fill="#3e1c70" opacity="0.6"/>
<ellipse cx="52" cy="283" rx="1.8" ry="3.5" fill="#3e1c70" opacity="0.6"/>
<ellipse cx="57" cy="283" rx="1.8" ry="3.5" fill="#3e1c70" opacity="0.6"/>
<ellipse cx="61.5" cy="283" rx="1.8" ry="3.5" fill="#3e1c70" opacity="0.6"/>
<ellipse cx="66" cy="283" rx="1.8" ry="3.5" fill="#3e1c70" opacity="0.6"/>
<ellipse cx="70.5" cy="283" rx="1.8" ry="3.5" fill="#3e1c70" opacity="0.6"/>
<ellipse cx="75" cy="283" rx="1.8" ry="3.5" fill="#3e1c70" opacity="0.6"/>
<ellipse cx="79.5" cy="283" rx="1.8" ry="3.5" fill="#3e1c70" opacity="0.6"/>
<ellipse cx="84" cy="283" rx="1.8" ry="3.5" fill="#3e1c70" opacity="0.6"/>
<ellipse cx="88.5" cy="283" rx="1.8" ry="3.5" fill="#3e1c70" opacity="0.6"/>
<ellipse cx="93" cy="283" rx="1.8" ry="3.5" fill="#3e1c70" opacity="0.6"/>
<ellipse cx="97.5" cy="283" rx="1.8" ry="3.5" fill="#3e1c70" opacity="0.6"/>
<circle cx="67.7" cy="283.1" r="0.9" fill="#e0c8f0" opacity="0.8"/>
<circle cx="93.6" cy="279.3" r="0.6" fill="#f4ecf8" opacity="0.8"/>
<circle cx="94.4" cy="276.4" r="0.8" fill="#e0c8f0" opacity="0.8"/>
<circle cx="50.4" cy="285.2" r="1.4" fill="#3a1a68" opacity="0.8"/>
<circle cx="61.4" cy="286" r="1" fill="#e0c8f0" opacity="0.8"/>
<circle cx="83.1" cy="281.7" r="1.1" fill="#8a5ab0" opacity="0.8"/>
<circle cx="71.6" cy="280.3" r="1.4" fill="#e0c8f0" opacity="0.8"/>
<circle cx="99.2" cy="277.4" r="1" fill="#4a2878" opacity="0.8"/>
<circle cx="83.8" cy="283" r="1.1" fill="#8a5ab0" opacity="0.8"/>
<circle cx="57.1" cy="280.2" r="0.6" fill="#f4ecf8" opacity="0.8"/>
<circle cx="94.8" cy="283.2" r="1.1" fill="#3a1a68" opacity="0.8"/>
<circle cx="56.5" cy="277.9" r="1.2" fill="#3a1a68" opacity="0.8"/>
<circle cx="98.1" cy="287.9" r="1.4" fill="#f4ecf8" opacity="0.8"/>
<circle cx="53.4" cy="276.7" r="1.2" fill="#e0c8f0" opacity="0.8"/>
<circle cx="68.5" cy="282.3" r="0.8" fill="#e0c8f0" opacity="0.8"/>
<circle cx="61.7" cy="283.3" r="1.3" fill="#f4ecf8" opacity="0.8"/>
<circle cx="68.5" cy="278.8" r="1" fill="#e0c8f0" opacity="0.8"/>
<circle cx="86.8" cy="281.1" r="1.2" fill="#e0c8f0" opacity="0.8"/>
<circle cx="56.7" cy="279.9" r="0.8" fill="#f4ecf8" opacity="0.8"/>
<circle cx="80.9" cy="281.3" r="1.2" fill="#8a5ab0" opacity="0.8"/>
<circle cx="62" cy="283.5" r="0.9" fill="#f4ecf8" opacity="0.8"/>
<circle cx="66.1" cy="283.3" r="1.1" fill="#8a5ab0" opacity="0.8"/>
<circle cx="49.9" cy="278.9" r="0.9" fill="#4a2878" opacity="0.8"/>
<circle cx="89.7" cy="286.8" r="1.2" fill="#e0c8f0" opacity="0.8"/>
<circle cx="72.2" cy="279.5" r="1.1" fill="#4a2878" opacity="0.8"/>
<circle cx="53.3" cy="275.9" r="0.8" fill="#3a1a68" opacity="0.8"/>
<circle cx="46.9" cy="276.9" r="0.8" fill="#f4ecf8" opacity="0.8"/>
<circle cx="61.3" cy="277" r="1.3" fill="#3a1a68" opacity="0.8"/>
<circle cx="50.8" cy="286.6" r="1.1" fill="#4a2878" opacity="0.8"/>
<circle cx="80.3" cy="286.6" r="1.2" fill="#8a5ab0" opacity="0.8"/>
<circle cx="52.5" cy="284" r="1" fill="#f4ecf8" opacity="0.8"/>
<circle cx="80.4" cy="276.5" r="0.7" fill="#f4ecf8" opacity="0.8"/>
<circle cx="54.7" cy="276.8" r="1" fill="#4a2878" opacity="0.8"/>
<circle cx="69.4" cy="286.8" r="1.2" fill="#e0c8f0" opacity="0.8"/>
<circle cx="70.2" cy="282" r="1.3" fill="#4a2878" opacity="0.8"/>
<circle cx="50.3" cy="279.2" r="1.2" fill="#f4ecf8" opacity="0.8"/>
<circle cx="80.1" cy="285.9" r="0.9" fill="#f4ecf8" opacity="0.8"/>
<circle cx="99.8" cy="283.8" r="0.7" fill="#8a5ab0" opacity="0.8"/>
<circle cx="78.4" cy="275.4" r="1.1" fill="#8a5ab0" opacity="0.8"/>
<circle cx="88.5" cy="276.2" r="1" fill="#e0c8f0" opacity="0.8"/>
<rect x="40.9" y="288.6" width="58.9" height="5.3" fill="#e2b8d4"/>
<rect x="40.9" y="289.8" width="7.6" height="3" fill="#7a6080" opacity="0.7"/>
<rect x="38.9" y="247.6" width="62.9" height="48.3" filter="url(#nzd)" opacity="0.3"/>
<rect x="38.9" y="247.6" width="62.9" height="48.3" filter="url(#nzl)" opacity="0.3"/>
<polygon points="92,249.6 99.8,249.6 99.8,263" fill="#f4eef6" opacity="0.8"/>
</g></g>
<g clip-path="url(#c5)"><g filter="url(#bl)">
<rect x="101.9" y="249.6" width="58.5" height="44.3" fill="#582a88"/>
<polygon points="110,240.7 47.4,267.3 57.1,284.1 111.4,243.2" fill="#9a5cb8" opacity="0.45"/>
<polygon points="111.7,243.6 58.8,286.3 70.7,298.2 113.4,245.3" fill="#7a46a8" opacity="0.45"/>
<polygon points="113.8,245.6 72.9,299.9 84.7,307.3 115.6,246.7" fill="#a468c0" opacity="0.45"/>
<polygon points="115.9,246.9 87.2,308.5 100.3,313.3 117.9,247.6" fill="#8450b0" opacity="0.45"/>
<polygon points="118.3,247.7 103,313.9 116.8,315.9 120.4,248" fill="#9a5cb8" opacity="0.45"/>
<polygon points="120.8,248 119.6,316 133.5,315 122.9,247.9" fill="#7a46a8" opacity="0.45"/>
<polygon points="123.3,247.8 136.3,314.5 149.7,310.7 125.3,247.2" fill="#a468c0" opacity="0.45"/>
<polygon points="125.7,247 152.3,309.6 164.6,303.1 127.5,246.1" fill="#8450b0" opacity="0.45"/>
<polygon points="127.9,245.8 166.9,301.5 176.6,293.5 129.3,244.6" fill="#9a5cb8" opacity="0.45"/>
<polygon points="129.6,244.3 178.5,291.6 185.7,283 130.7,243.1" fill="#7a46a8" opacity="0.45"/>
<polygon points="130.9,242.7 187.3,280.7 192.3,272.3 131.7,241.4" fill="#a468c0" opacity="0.45"/>
<polygon points="131.9,241.1 193.5,269.8 196.6,262 132.3,239.9" fill="#8450b0" opacity="0.45"/>
<line x1="103.9" y1="281.4" x2="106.1" y2="284.7" stroke="#6a3a9a" stroke-width="1.2" opacity="0.55"/>
<line x1="107.4" y1="278.8" x2="109.2" y2="281.4" stroke="#b088d4" stroke-width="1.2" opacity="0.55"/>
<line x1="118.5" y1="264.7" x2="120.1" y2="267.2" stroke="#42206e" stroke-width="1.2" opacity="0.55"/>
<line x1="150.3" y1="262.6" x2="152.8" y2="266.4" stroke="#a070c4" stroke-width="1.2" opacity="0.55"/>
<line x1="121.4" y1="293.2" x2="124" y2="297.1" stroke="#6a3a9a" stroke-width="1.2" opacity="0.55"/>
<line x1="158.9" y1="278.6" x2="161.4" y2="282.3" stroke="#6a3a9a" stroke-width="1.2" opacity="0.55"/>
<line x1="113.2" y1="281.2" x2="114.6" y2="283.3" stroke="#42206e" stroke-width="1.2" opacity="0.55"/>
<line x1="147.8" y1="251.4" x2="150.1" y2="254.9" stroke="#a070c4" stroke-width="1.2" opacity="0.55"/>
<line x1="133.8" y1="251.8" x2="135.5" y2="254.3" stroke="#42206e" stroke-width="1.2" opacity="0.55"/>
<line x1="104.6" y1="286" x2="106.6" y2="289" stroke="#42206e" stroke-width="1.2" opacity="0.55"/>
<line x1="148.1" y1="289.9" x2="150.2" y2="293.2" stroke="#b088d4" stroke-width="1.2" opacity="0.55"/>
<line x1="138.6" y1="280.5" x2="140.7" y2="283.7" stroke="#42206e" stroke-width="1.2" opacity="0.55"/>
<line x1="114.3" y1="279.1" x2="116.3" y2="282" stroke="#b088d4" stroke-width="1.2" opacity="0.55"/>
<line x1="107.8" y1="257.6" x2="109.1" y2="259.5" stroke="#42206e" stroke-width="1.2" opacity="0.55"/>
<line x1="155.4" y1="278.6" x2="157.2" y2="281.3" stroke="#b088d4" stroke-width="1.2" opacity="0.55"/>
<line x1="147.9" y1="274.5" x2="149.5" y2="276.9" stroke="#6a3a9a" stroke-width="1.2" opacity="0.55"/>
<line x1="112.7" y1="251.1" x2="113.9" y2="253" stroke="#42206e" stroke-width="1.2" opacity="0.55"/>
<line x1="131" y1="272.7" x2="133.5" y2="276.5" stroke="#a070c4" stroke-width="1.2" opacity="0.55"/>
<line x1="135.6" y1="290.3" x2="137.5" y2="293.2" stroke="#42206e" stroke-width="1.2" opacity="0.55"/>
<line x1="141.7" y1="275.9" x2="144.5" y2="280.1" stroke="#b088d4" stroke-width="1.2" opacity="0.55"/>
<line x1="129.7" y1="267.9" x2="131.1" y2="269.9" stroke="#a070c4" stroke-width="1.2" opacity="0.55"/>
<line x1="114.3" y1="256.3" x2="115.5" y2="258.2" stroke="#42206e" stroke-width="1.2" opacity="0.55"/>
<line x1="102.4" y1="279.3" x2="105.2" y2="283.4" stroke="#42206e" stroke-width="1.2" opacity="0.55"/>
<line x1="114.7" y1="255" x2="116.6" y2="257.9" stroke="#6a3a9a" stroke-width="1.2" opacity="0.55"/>
<line x1="144" y1="260.3" x2="146.4" y2="263.9" stroke="#b088d4" stroke-width="1.2" opacity="0.55"/>
<line x1="155.9" y1="265.8" x2="158.3" y2="269.4" stroke="#b088d4" stroke-width="1.2" opacity="0.55"/>
<line x1="144.6" y1="253.3" x2="146.8" y2="256.6" stroke="#a070c4" stroke-width="1.2" opacity="0.55"/>
<line x1="128.8" y1="290.9" x2="130.5" y2="293.3" stroke="#42206e" stroke-width="1.2" opacity="0.55"/>
<line x1="143.9" y1="250.1" x2="145.1" y2="251.9" stroke="#42206e" stroke-width="1.2" opacity="0.55"/>
<line x1="124.7" y1="263.4" x2="126.8" y2="266.7" stroke="#a070c4" stroke-width="1.2" opacity="0.55"/>
<line x1="137.5" y1="263.6" x2="140.2" y2="267.7" stroke="#a070c4" stroke-width="1.2" opacity="0.55"/>
<line x1="129.4" y1="257" x2="132.1" y2="261.1" stroke="#42206e" stroke-width="1.2" opacity="0.55"/>
<line x1="123.2" y1="278.2" x2="125.4" y2="281.5" stroke="#a070c4" stroke-width="1.2" opacity="0.55"/>
<line x1="129.8" y1="284.1" x2="131.7" y2="287" stroke="#6a3a9a" stroke-width="1.2" opacity="0.55"/>
<line x1="147.8" y1="274.7" x2="149.5" y2="277.2" stroke="#42206e" stroke-width="1.2" opacity="0.55"/>
<line x1="138.3" y1="278.4" x2="140.8" y2="282.2" stroke="#6a3a9a" stroke-width="1.2" opacity="0.55"/>
<line x1="152.8" y1="281.7" x2="154" y2="283.6" stroke="#b088d4" stroke-width="1.2" opacity="0.55"/>
<line x1="137.1" y1="263.3" x2="139" y2="266.1" stroke="#b088d4" stroke-width="1.2" opacity="0.55"/>
<line x1="123.9" y1="279.9" x2="126.1" y2="283.2" stroke="#b088d4" stroke-width="1.2" opacity="0.55"/>
<line x1="149.1" y1="262.2" x2="150.3" y2="264" stroke="#6a3a9a" stroke-width="1.2" opacity="0.55"/>
<line x1="117.6" y1="256.6" x2="120.3" y2="260.6" stroke="#42206e" stroke-width="1.2" opacity="0.55"/>
<line x1="118.8" y1="255.8" x2="121.4" y2="259.8" stroke="#b088d4" stroke-width="1.2" opacity="0.55"/>
<line x1="117.9" y1="287.3" x2="120.4" y2="291" stroke="#a070c4" stroke-width="1.2" opacity="0.55"/>
<line x1="122.2" y1="253.4" x2="124.3" y2="256.5" stroke="#a070c4" stroke-width="1.2" opacity="0.55"/>
<line x1="113.6" y1="282.8" x2="116.3" y2="286.9" stroke="#b088d4" stroke-width="1.2" opacity="0.55"/>
<line x1="120" y1="252.1" x2="121.8" y2="254.9" stroke="#b088d4" stroke-width="1.2" opacity="0.55"/>
<line x1="156.1" y1="275.6" x2="157.3" y2="277.4" stroke="#a070c4" stroke-width="1.2" opacity="0.55"/>
<line x1="128.8" y1="253.5" x2="131.3" y2="257.2" stroke="#42206e" stroke-width="1.2" opacity="0.55"/>
<line x1="115.5" y1="275.3" x2="118.2" y2="279.2" stroke="#6a3a9a" stroke-width="1.2" opacity="0.55"/>
<line x1="129.8" y1="275.7" x2="131.3" y2="278" stroke="#b088d4" stroke-width="1.2" opacity="0.55"/>
<rect x="101.9" y="280" width="58.5" height="13.9" fill="#4e2680" opacity="0.35"/>
<rect x="101.9" y="249.6" width="12.1" height="18.4" fill="#b07ac8" opacity="0.2"/>
<rect x="99.9" y="247.6" width="62.5" height="48.3" filter="url(#nzd)" opacity="0.3"/>
<rect x="99.9" y="247.6" width="62.5" height="48.3" filter="url(#nzl)" opacity="0.12"/>
<path d="M102,281 Q110,277 114.5,268 Q116.5,260 116,250" fill="none" stroke="#f4ecf8" stroke-width="1.3" stroke-linecap="round"/>
<path d="M104.5,292 L108.5,280" fill="none" stroke="#f4ecf8" stroke-width="1.0" stroke-linecap="round"/>
<path d="M117.7,294 Q119.2,275 117.8,250" fill="none" stroke="#f4ecf8" stroke-width="1.0" stroke-linecap="round"/>
<path d="M125.5,294 Q124.5,278 121,262" fill="none" stroke="#f4ecf8" stroke-width="1.2" stroke-linecap="round"/>
<path d="M121,291 L123,281" fill="none" stroke="#f4ecf8" stroke-width="0.9" stroke-linecap="round"/>
<path d="M129.5,252 Q136,260 142.5,270" fill="none" stroke="#f4ecf8" stroke-width="1.2" stroke-linecap="round"/>
<path d="M133,249.5 Q141,254 149,261.5" fill="none" stroke="#f4ecf8" stroke-width="1.1" stroke-linecap="round"/>
<path d="M140.4,249.5 L151,257.4" fill="none" stroke="#f4ecf8" stroke-width="1.0" stroke-linecap="round"/>
<path d="M127.5,263 Q134,273 139,285" fill="none" stroke="#f4ecf8" stroke-width="0.9" stroke-linecap="round"/>
<path d="M131,277 L136,292" fill="none" stroke="#f4ecf8" stroke-width="0.8" stroke-linecap="round"/>
<path d="M144,266 Q150,271 156,279" fill="none" stroke="#f4ecf8" stroke-width="0.8" stroke-linecap="round"/>
<path d="M108,250 Q106,260 102.5,266" fill="none" stroke="#f4ecf8" stroke-width="0.9" stroke-linecap="round"/>
<path d="M111,262 L104,271" fill="none" stroke="#f4ecf8" stroke-width="0.8" stroke-linecap="round"/>
<polygon points="150,249.6 160.4,249.6 160.4,256 157,254" fill="#efe6f4" opacity="0.85"/>
<path d="M152,270.5 L154.5,273 L157.5,270 M154.5,273 L154,277" fill="none" stroke="#f4ecf8" stroke-width="1.2" stroke-linecap="round"/>
<text x="145.3" y="287.3" font-size="4.4" style="fill:#fff;stroke:#fff;stroke-width:0.2px" textLength="12.5" lengthAdjust="spacingAndGlyphs" font-weight="bold">100 μm</text>
<rect x="146" y="289.4" width="10.8" height="1.2" fill="#fff"/>
</g></g>
<g clip-path="url(#c6)"><g filter="url(#bl)">
<rect x="203" y="158" width="58.1" height="44.2" fill="#b08aaa"/>
<polygon points="238,158 261.1,158 261.1,202.2 232,202.2" fill="#c49ab8" opacity="0.8"/>
<ellipse cx="209" cy="178" rx="3.5" ry="8" fill="#6a56a2" opacity="0.55"/>
<ellipse cx="216.5" cy="178" rx="3" ry="8.5" fill="#6a56a2" opacity="0.5"/>
<ellipse cx="223.5" cy="179" rx="3.5" ry="8" fill="#6a56a2" opacity="0.5"/>
<ellipse cx="230" cy="179.5" rx="2.5" ry="8" fill="#6a56a2" opacity="0.4"/>
<ellipse cx="236.5" cy="178" rx="2.2" ry="6.5" fill="#6a56a2" opacity="0.35"/>
<ellipse cx="244" cy="180" rx="2" ry="5.5" fill="#6a56a2" opacity="0.3"/>
<ellipse cx="251" cy="181" rx="2" ry="5" fill="#6a56a2" opacity="0.25"/>
<ellipse cx="224" cy="183" rx="14" ry="6" fill="#b89aa8" opacity="0.35"/>
<rect x="203" y="158" width="2" height="44.2" fill="#8a6a9c" opacity="0.45"/>
<circle cx="208.4" cy="185.7" r="0.9" fill="#b88cac" opacity="0.45"/>
<circle cx="226.4" cy="179.4" r="0.7" fill="#6a5aa0" opacity="0.45"/>
<circle cx="256.6" cy="178.9" r="1.4" fill="#b88cac" opacity="0.45"/>
<circle cx="239.8" cy="185.3" r="0.7" fill="#6a5aa0" opacity="0.45"/>
<circle cx="223" cy="179.4" r="0.6" fill="#6a5aa0" opacity="0.45"/>
<circle cx="214.9" cy="187.2" r="1.1" fill="#7a60a8" opacity="0.45"/>
<circle cx="218.2" cy="185.1" r="1" fill="#c89cb0" opacity="0.45"/>
<circle cx="247.6" cy="186" r="1.5" fill="#b88cac" opacity="0.45"/>
<circle cx="252" cy="175.5" r="1.5" fill="#c89cb0" opacity="0.45"/>
<circle cx="207.9" cy="169.1" r="1.1" fill="#c89cb0" opacity="0.45"/>
<circle cx="231.3" cy="186.6" r="1.4" fill="#c89cb0" opacity="0.45"/>
<circle cx="256.6" cy="183.5" r="0.7" fill="#b88cac" opacity="0.45"/>
<circle cx="235.8" cy="182.1" r="1.5" fill="#c89cb0" opacity="0.45"/>
<circle cx="213.6" cy="186.7" r="0.9" fill="#7a60a8" opacity="0.45"/>
<circle cx="260.6" cy="172.9" r="0.6" fill="#b88cac" opacity="0.45"/>
<circle cx="257.7" cy="169.3" r="1.1" fill="#6a5aa0" opacity="0.45"/>
<circle cx="251.6" cy="169" r="1.3" fill="#c89cb0" opacity="0.45"/>
<circle cx="206.2" cy="171.2" r="1.3" fill="#7a60a8" opacity="0.45"/>
<circle cx="242.3" cy="174.6" r="1.1" fill="#6a5aa0" opacity="0.45"/>
<circle cx="230.3" cy="176.2" r="1" fill="#b88cac" opacity="0.45"/>
<circle cx="231" cy="171.7" r="0.8" fill="#7a60a8" opacity="0.45"/>
<circle cx="256.1" cy="187.6" r="1" fill="#7a60a8" opacity="0.45"/>
<circle cx="249.4" cy="171.5" r="1.3" fill="#6a5aa0" opacity="0.45"/>
<circle cx="257.3" cy="187.1" r="1.4" fill="#7a60a8" opacity="0.45"/>
<circle cx="248.2" cy="189.1" r="1.4" fill="#c89cb0" opacity="0.45"/>
<circle cx="251.9" cy="181.8" r="1" fill="#b88cac" opacity="0.45"/>
<circle cx="221.7" cy="173.1" r="0.7" fill="#b88cac" opacity="0.45"/>
<circle cx="211.3" cy="172.9" r="0.7" fill="#c89cb0" opacity="0.45"/>
<circle cx="235.2" cy="171.2" r="1.4" fill="#b88cac" opacity="0.45"/>
<circle cx="227.3" cy="173.4" r="0.6" fill="#b88cac" opacity="0.45"/>
<circle cx="222.4" cy="171.7" r="1" fill="#b88cac" opacity="0.45"/>
<circle cx="229.5" cy="178.6" r="0.7" fill="#6a5aa0" opacity="0.45"/>
<circle cx="239.7" cy="185.3" r="1.4" fill="#c89cb0" opacity="0.45"/>
<circle cx="251.5" cy="170.6" r="1.3" fill="#b88cac" opacity="0.45"/>
<circle cx="228.1" cy="173.8" r="0.8" fill="#7a60a8" opacity="0.45"/>
<circle cx="208.7" cy="174.4" r="1.4" fill="#6a5aa0" opacity="0.45"/>
<circle cx="251.4" cy="189.5" r="0.7" fill="#6a5aa0" opacity="0.45"/>
<circle cx="228.7" cy="179.2" r="1.1" fill="#c89cb0" opacity="0.45"/>
<circle cx="203.1" cy="186.3" r="1.1" fill="#7a60a8" opacity="0.45"/>
<circle cx="223.9" cy="168.9" r="1" fill="#b88cac" opacity="0.45"/>
<rect x="203.0" y="188" width="58.10000000000002" height="14.199999999999989" fill="url(#gEskin)"/>
<circle cx="236.2" cy="191.7" r="0.6" fill="#f0e8f8" opacity="0.85"/>
<circle cx="244.3" cy="192.4" r="0.6" fill="#f8f2fc" opacity="0.85"/>
<circle cx="254.7" cy="198.9" r="1" fill="#f0e8f8" opacity="0.85"/>
<circle cx="215" cy="197.5" r="1" fill="#f0e8f8" opacity="0.85"/>
<circle cx="236.9" cy="192.5" r="0.5" fill="#e4d8f0" opacity="0.85"/>
<circle cx="251.9" cy="201.2" r="0.9" fill="#9a80c0" opacity="0.85"/>
<circle cx="222.5" cy="200.3" r="1.1" fill="#e4d8f0" opacity="0.85"/>
<circle cx="208.2" cy="195" r="1" fill="#f0e8f8" opacity="0.85"/>
<circle cx="253.7" cy="193.2" r="0.6" fill="#9a80c0" opacity="0.85"/>
<circle cx="205.1" cy="198.6" r="0.9" fill="#f8f2fc" opacity="0.85"/>
<circle cx="223.7" cy="201.4" r="1.2" fill="#f8f2fc" opacity="0.85"/>
<circle cx="210" cy="198.7" r="1.1" fill="#9a80c0" opacity="0.85"/>
<circle cx="248.3" cy="200.6" r="0.9" fill="#f8f2fc" opacity="0.85"/>
<circle cx="219.9" cy="191.3" r="1" fill="#e4d8f0" opacity="0.85"/>
<circle cx="232.8" cy="196.5" r="0.9" fill="#f8f2fc" opacity="0.85"/>
<circle cx="217.1" cy="191.1" r="0.9" fill="#f0e8f8" opacity="0.85"/>
<circle cx="209" cy="193.1" r="1.1" fill="#f8f2fc" opacity="0.85"/>
<circle cx="204.1" cy="201.3" r="1" fill="#9a80c0" opacity="0.85"/>
<circle cx="204" cy="197.3" r="0.9" fill="#f0e8f8" opacity="0.85"/>
<circle cx="243.8" cy="191.3" r="1.1" fill="#f0e8f8" opacity="0.85"/>
<circle cx="205.6" cy="191.5" r="0.8" fill="#9a80c0" opacity="0.85"/>
<circle cx="209.4" cy="191.5" r="1.1" fill="#f0e8f8" opacity="0.85"/>
<circle cx="253" cy="191.8" r="0.9" fill="#e4d8f0" opacity="0.85"/>
<circle cx="212.5" cy="200.1" r="1.2" fill="#e4d8f0" opacity="0.85"/>
<circle cx="243.3" cy="197.3" r="0.9" fill="#f8f2fc" opacity="0.85"/>
<circle cx="226" cy="201.5" r="1" fill="#9a80c0" opacity="0.85"/>
<circle cx="226.3" cy="200.2" r="1" fill="#9a80c0" opacity="0.85"/>
<circle cx="250.4" cy="200.3" r="0.5" fill="#f0e8f8" opacity="0.85"/>
<circle cx="258.7" cy="201.4" r="0.7" fill="#e4d8f0" opacity="0.85"/>
<circle cx="241.5" cy="190.1" r="0.6" fill="#f0e8f8" opacity="0.85"/>
<circle cx="207" cy="195.3" r="0.9" fill="#f8f2fc" opacity="0.85"/>
<circle cx="216.1" cy="195.1" r="0.8" fill="#e4d8f0" opacity="0.85"/>
<circle cx="239.8" cy="199.9" r="1.1" fill="#f8f2fc" opacity="0.85"/>
<circle cx="205" cy="197.8" r="0.7" fill="#9a80c0" opacity="0.85"/>
<circle cx="239.5" cy="199.8" r="0.5" fill="#f8f2fc" opacity="0.85"/>
<circle cx="217.6" cy="196.3" r="0.8" fill="#f8f2fc" opacity="0.85"/>
<circle cx="219.7" cy="193.7" r="1" fill="#f8f2fc" opacity="0.85"/>
<circle cx="206.5" cy="201.7" r="1.1" fill="#9a80c0" opacity="0.85"/>
<circle cx="207.9" cy="197.2" r="1.2" fill="#e4d8f0" opacity="0.85"/>
<circle cx="210.2" cy="191.6" r="0.7" fill="#e4d8f0" opacity="0.85"/>
<circle cx="236.5" cy="193.3" r="1" fill="#9a80c0" opacity="0.85"/>
<circle cx="251.8" cy="197.4" r="0.9" fill="#e4d8f0" opacity="0.85"/>
<circle cx="214.7" cy="198.7" r="0.8" fill="#9a80c0" opacity="0.85"/>
<circle cx="238.6" cy="195.7" r="0.7" fill="#f0e8f8" opacity="0.85"/>
<circle cx="222.4" cy="192.3" r="0.9" fill="#e4d8f0" opacity="0.85"/>
<circle cx="203.7" cy="194.3" r="1.1" fill="#f0e8f8" opacity="0.85"/>
<circle cx="221.8" cy="194" r="0.7" fill="#f0e8f8" opacity="0.85"/>
<circle cx="220.2" cy="199.4" r="0.6" fill="#f8f2fc" opacity="0.85"/>
<circle cx="238.2" cy="194.2" r="1" fill="#e4d8f0" opacity="0.85"/>
<circle cx="251.5" cy="194.3" r="1" fill="#f0e8f8" opacity="0.85"/>
<circle cx="260.5" cy="198.3" r="1.2" fill="#e4d8f0" opacity="0.85"/>
<circle cx="222.6" cy="194.3" r="1" fill="#9a80c0" opacity="0.85"/>
<circle cx="250.7" cy="196.3" r="1" fill="#e4d8f0" opacity="0.85"/>
<circle cx="218.6" cy="197.7" r="0.9" fill="#f0e8f8" opacity="0.85"/>
<circle cx="227" cy="191.3" r="0.8" fill="#f8f2fc" opacity="0.85"/>
<rect x="201" y="156" width="62.1" height="48.2" filter="url(#nzd)" opacity="0.3"/>
<rect x="201" y="156" width="62.1" height="48.2" filter="url(#nzl)" opacity="0.3"/>
<path d="M203.0,158.0 L261.1,158.0 L261.1,172.8 L258,171.5 L255,170.2 L251,169.8 L246,168.3 L241,167.8 L236,166.8 L231,166.2 L226,166.3 L221,165.5 L216,165.1 L211,164.2 L207,163.6 L203.0,163.8Z" fill="#ccccec"/>
<polygon points="236,158 261.1,158 261.1,169" fill="#f0f0f8" opacity="0.8"/>
<path d="M203,164.5 L207,164.3 L211,165 L216,165.9 L221,166.3 L226,167.1 L231,167 L236,167.6 L241,168.6 L246,169.1 L251,170.6 L255,171 L258,172.3 L261,173.6" fill="none" stroke="#6e4c8a" stroke-width="1.8" stroke-linecap="round"/>
</g></g>
<g clip-path="url(#c7)"><g filter="url(#bl)">
<rect x="263.2" y="158" width="58.9" height="44.2" fill="#cbaed2"/>
<polygon points="263.2,158 268.5,158 272,170 276,185 279.5,202.2 263.2,202.2" fill="#cac6f0"/>
<circle cx="280.5" cy="200.6" r="0.9" fill="#8a6aa8" opacity="0.7"/>
<circle cx="287.1" cy="171.8" r="0.9" fill="#6a4a90" opacity="0.7"/>
<circle cx="278.2" cy="179.1" r="0.8" fill="#a080c0" opacity="0.7"/>
<circle cx="277.7" cy="174.9" r="0.9" fill="#a080c0" opacity="0.7"/>
<circle cx="278.3" cy="173.6" r="1.1" fill="#8a6aa8" opacity="0.7"/>
<circle cx="278.2" cy="172.7" r="0.9" fill="#6a4a90" opacity="0.7"/>
<circle cx="279.3" cy="175.9" r="0.7" fill="#8a6aa8" opacity="0.7"/>
<circle cx="277.2" cy="195.6" r="1.1" fill="#8a6aa8" opacity="0.7"/>
<circle cx="274.9" cy="178" r="1.1" fill="#6a4a90" opacity="0.7"/>
<circle cx="271.5" cy="170.8" r="1.1" fill="#8a6aa8" opacity="0.7"/>
<circle cx="288.5" cy="192.6" r="0.9" fill="#8a6aa8" opacity="0.7"/>
<circle cx="280.8" cy="181.8" r="1" fill="#8a6aa8" opacity="0.7"/>
<circle cx="279.8" cy="161.7" r="1" fill="#8a6aa8" opacity="0.7"/>
<circle cx="289" cy="188.5" r="0.9" fill="#6a4a90" opacity="0.7"/>
<circle cx="278.8" cy="181.1" r="1" fill="#a080c0" opacity="0.7"/>
<circle cx="273.9" cy="167.9" r="0.8" fill="#8a6aa8" opacity="0.7"/>
<circle cx="279.4" cy="186.4" r="1.2" fill="#8a6aa8" opacity="0.7"/>
<circle cx="284.1" cy="191.5" r="0.6" fill="#8a6aa8" opacity="0.7"/>
<circle cx="277" cy="201.3" r="1.1" fill="#a080c0" opacity="0.7"/>
<circle cx="274.3" cy="187.7" r="0.7" fill="#8a6aa8" opacity="0.7"/>
<circle cx="286.6" cy="201.8" r="1.1" fill="#8a6aa8" opacity="0.7"/>
<circle cx="283" cy="182.1" r="1.1" fill="#6a4a90" opacity="0.7"/>
<circle cx="280.6" cy="167.9" r="0.6" fill="#a080c0" opacity="0.7"/>
<circle cx="281.7" cy="164.5" r="0.9" fill="#a080c0" opacity="0.7"/>
<circle cx="283.1" cy="161.8" r="0.8" fill="#6a4a90" opacity="0.7"/>
<polygon points="294,158 322.1,158 322.1,202.2 305,202.2" fill="#cc98ac"/>
<circle cx="302.6" cy="188.5" r="0.5" fill="#e4b4c4" opacity="0.5"/>
<circle cx="305.2" cy="162.4" r="0.5" fill="#b07a98" opacity="0.5"/>
<circle cx="299.5" cy="180" r="0.9" fill="#e4b4c4" opacity="0.5"/>
<circle cx="318.5" cy="197.6" r="0.9" fill="#b07a98" opacity="0.5"/>
<circle cx="310.1" cy="176.2" r="0.6" fill="#b07a98" opacity="0.5"/>
<circle cx="308.6" cy="180.5" r="0.5" fill="#b07a98" opacity="0.5"/>
<circle cx="298.8" cy="181.1" r="1.2" fill="#a86e94" opacity="0.5"/>
<circle cx="306.1" cy="193.4" r="1" fill="#a86e94" opacity="0.5"/>
<circle cx="315.7" cy="172.3" r="1.1" fill="#e4b4c4" opacity="0.5"/>
<circle cx="301.7" cy="159.5" r="1" fill="#a86e94" opacity="0.5"/>
<circle cx="295.8" cy="166.5" r="1" fill="#b07a98" opacity="0.5"/>
<circle cx="295.5" cy="197.4" r="1" fill="#b07a98" opacity="0.5"/>
<circle cx="306.4" cy="185.4" r="0.7" fill="#b07a98" opacity="0.5"/>
<circle cx="298.5" cy="183.9" r="0.6" fill="#b07a98" opacity="0.5"/>
<circle cx="319.3" cy="194.1" r="0.7" fill="#a86e94" opacity="0.5"/>
<circle cx="301.1" cy="197.2" r="1.3" fill="#b07a98" opacity="0.5"/>
<circle cx="300.8" cy="175.2" r="1.1" fill="#b07a98" opacity="0.5"/>
<circle cx="305.6" cy="175.6" r="1.1" fill="#b07a98" opacity="0.5"/>
<circle cx="316.3" cy="168.8" r="0.6" fill="#e4b4c4" opacity="0.5"/>
<circle cx="304.7" cy="158.3" r="1.2" fill="#e4b4c4" opacity="0.5"/>
<circle cx="309.8" cy="163.1" r="0.9" fill="#e4b4c4" opacity="0.5"/>
<circle cx="303.4" cy="186.8" r="1.3" fill="#e4b4c4" opacity="0.5"/>
<circle cx="317.2" cy="173.5" r="0.7" fill="#b07a98" opacity="0.5"/>
<circle cx="307.1" cy="173.2" r="0.8" fill="#e4b4c4" opacity="0.5"/>
<circle cx="312.7" cy="173.1" r="0.6" fill="#a86e94" opacity="0.5"/>
<circle cx="297.6" cy="166.7" r="0.9" fill="#b07a98" opacity="0.5"/>
<circle cx="309.6" cy="178.6" r="1.1" fill="#b07a98" opacity="0.5"/>
<circle cx="298.5" cy="173.6" r="1.1" fill="#e4b4c4" opacity="0.5"/>
<circle cx="311.7" cy="183.7" r="0.7" fill="#e4b4c4" opacity="0.5"/>
<circle cx="308.2" cy="168" r="0.9" fill="#b07a98" opacity="0.5"/>
<circle cx="320.5" cy="202.1" r="1" fill="#e4b4c4" opacity="0.5"/>
<circle cx="310.5" cy="174.3" r="0.7" fill="#a86e94" opacity="0.5"/>
<circle cx="308.3" cy="163.5" r="1.1" fill="#a86e94" opacity="0.5"/>
<circle cx="308.4" cy="182" r="0.7" fill="#e4b4c4" opacity="0.5"/>
<circle cx="294.8" cy="189.7" r="0.6" fill="#b07a98" opacity="0.5"/>
<circle cx="305" cy="161.8" r="0.6" fill="#b07a98" opacity="0.5"/>
<circle cx="303" cy="187.3" r="0.6" fill="#a86e94" opacity="0.5"/>
<circle cx="319.7" cy="193.6" r="1.1" fill="#b07a98" opacity="0.5"/>
<circle cx="295.9" cy="171.8" r="0.7" fill="#b07a98" opacity="0.5"/>
<circle cx="317" cy="175.6" r="0.8" fill="#e4b4c4" opacity="0.5"/>
<rect x="261.2" y="156" width="62.9" height="48.2" filter="url(#nzd)" opacity="0.3"/>
<rect x="261.2" y="156" width="62.9" height="48.2" filter="url(#nzl)" opacity="0.3"/>
<path d="M268.3,158 L269.5,162 L271.5,168 L273.5,175 L275.5,183 L277.5,192 L279.5,202" fill="none" stroke="#3a2060" stroke-width="1.4" stroke-linecap="round"/>
<circle cx="270.5" cy="160.5" r="1.2" fill="#4a2a70" opacity="0.8"/>
<circle cx="272.5" cy="170" r="1.2" fill="#4a2a70" opacity="0.8"/>
<circle cx="274.5" cy="178" r="1.2" fill="#4a2a70" opacity="0.8"/>
<circle cx="276.5" cy="187.5" r="1.2" fill="#4a2a70" opacity="0.8"/>
<circle cx="278.5" cy="196" r="1.2" fill="#4a2a70" opacity="0.8"/>
<polygon points="290,158 295,158 299,175 305.5,202.2 300.5,202.2 295,180" fill="#fbf8fc"/>
</g></g>
<g clip-path="url(#c8)"><g filter="url(#bl)">
<rect x="203" y="204.2" width="58.1" height="44.1" fill="#70529c"/>
<circle cx="248" cy="243.1" r="0.8" fill="#a490d0" opacity="0.55"/>
<circle cx="257.4" cy="212" r="0.6" fill="#c0b0e0" opacity="0.55"/>
<circle cx="243.1" cy="243.8" r="0.4" fill="#c0b0e0" opacity="0.55"/>
<circle cx="243.6" cy="215.2" r="0.8" fill="#9a5aa0" opacity="0.55"/>
<circle cx="255.6" cy="208.5" r="0.5" fill="#9a5aa0" opacity="0.55"/>
<circle cx="256" cy="236.6" r="0.8" fill="#4a3480" opacity="0.55"/>
<circle cx="226.5" cy="231" r="0.6" fill="#9a5aa0" opacity="0.55"/>
<circle cx="212.1" cy="236.8" r="0.7" fill="#c0b0e0" opacity="0.55"/>
<circle cx="240.1" cy="212.1" r="0.8" fill="#b07ab8" opacity="0.55"/>
<circle cx="231.9" cy="227.2" r="0.9" fill="#c0b0e0" opacity="0.55"/>
<circle cx="242.8" cy="219.6" r="0.4" fill="#c0b0e0" opacity="0.55"/>
<circle cx="219.6" cy="206.1" r="0.8" fill="#b07ab8" opacity="0.55"/>
<circle cx="243.4" cy="247.2" r="0.7" fill="#4a3480" opacity="0.55"/>
<circle cx="249" cy="213.5" r="0.9" fill="#c0b0e0" opacity="0.55"/>
<circle cx="256.1" cy="222.6" r="0.8" fill="#c0b0e0" opacity="0.55"/>
<circle cx="238.8" cy="213.9" r="0.7" fill="#9a5aa0" opacity="0.55"/>
<circle cx="258" cy="222.9" r="0.9" fill="#c0b0e0" opacity="0.55"/>
<circle cx="232.2" cy="234.6" r="0.8" fill="#c0b0e0" opacity="0.55"/>
<circle cx="229.3" cy="206.6" r="0.7" fill="#5a4898" opacity="0.55"/>
<circle cx="242.1" cy="241.5" r="0.8" fill="#5a4898" opacity="0.55"/>
<circle cx="247.3" cy="206.1" r="0.8" fill="#b07ab8" opacity="0.55"/>
<circle cx="218.2" cy="228.3" r="0.9" fill="#c0b0e0" opacity="0.55"/>
<circle cx="216.7" cy="215.7" r="0.9" fill="#a490d0" opacity="0.55"/>
<circle cx="223.8" cy="222.4" r="0.5" fill="#9a5aa0" opacity="0.55"/>
<circle cx="211" cy="234.5" r="0.6" fill="#5a4898" opacity="0.55"/>
<circle cx="216.8" cy="214.9" r="0.7" fill="#5a4898" opacity="0.55"/>
<circle cx="210.7" cy="232.5" r="0.7" fill="#a490d0" opacity="0.55"/>
<circle cx="254.4" cy="210.5" r="0.7" fill="#9a5aa0" opacity="0.55"/>
<circle cx="239.6" cy="209.4" r="0.6" fill="#a490d0" opacity="0.55"/>
<circle cx="242.3" cy="211" r="0.9" fill="#5a4898" opacity="0.55"/>
<circle cx="251.3" cy="209.2" r="0.5" fill="#9a5aa0" opacity="0.55"/>
<circle cx="231.3" cy="206.1" r="0.8" fill="#9a5aa0" opacity="0.55"/>
<circle cx="214.5" cy="235.1" r="0.6" fill="#4a3480" opacity="0.55"/>
<circle cx="212.4" cy="223.8" r="0.7" fill="#9a5aa0" opacity="0.55"/>
<circle cx="212.8" cy="207.4" r="0.4" fill="#5a4898" opacity="0.55"/>
<circle cx="207.9" cy="235.8" r="0.9" fill="#b07ab8" opacity="0.55"/>
<circle cx="218.4" cy="232.6" r="0.9" fill="#5a4898" opacity="0.55"/>
<circle cx="214" cy="228.1" r="0.4" fill="#4a3480" opacity="0.55"/>
<circle cx="240.4" cy="231.9" r="0.9" fill="#c0b0e0" opacity="0.55"/>
<circle cx="243.6" cy="233" r="0.4" fill="#c0b0e0" opacity="0.55"/>
<circle cx="204.6" cy="238.4" r="0.8" fill="#9a5aa0" opacity="0.55"/>
<circle cx="224.4" cy="246.6" r="0.7" fill="#c0b0e0" opacity="0.55"/>
<circle cx="212.8" cy="238.8" r="0.8" fill="#c0b0e0" opacity="0.55"/>
<circle cx="238.8" cy="220.9" r="0.7" fill="#9a5aa0" opacity="0.55"/>
<circle cx="221.6" cy="220.5" r="0.7" fill="#9a5aa0" opacity="0.55"/>
<circle cx="251.7" cy="215.4" r="0.4" fill="#4a3480" opacity="0.55"/>
<circle cx="235.9" cy="231.9" r="0.8" fill="#c0b0e0" opacity="0.55"/>
<circle cx="226.4" cy="206.4" r="0.5" fill="#5a4898" opacity="0.55"/>
<circle cx="232" cy="211.1" r="0.5" fill="#b07ab8" opacity="0.55"/>
<circle cx="239.4" cy="210.5" r="0.5" fill="#a490d0" opacity="0.55"/>
<circle cx="228.7" cy="247" r="0.4" fill="#4a3480" opacity="0.55"/>
<circle cx="252.4" cy="225.3" r="0.5" fill="#9a5aa0" opacity="0.55"/>
<circle cx="203.2" cy="241.3" r="0.8" fill="#b07ab8" opacity="0.55"/>
<circle cx="227.7" cy="216.7" r="0.7" fill="#b07ab8" opacity="0.55"/>
<circle cx="244.3" cy="243.5" r="0.4" fill="#4a3480" opacity="0.55"/>
<circle cx="241.7" cy="240.6" r="0.9" fill="#a490d0" opacity="0.55"/>
<circle cx="225" cy="204.4" r="0.8" fill="#c0b0e0" opacity="0.55"/>
<circle cx="223.2" cy="212.8" r="0.4" fill="#9a5aa0" opacity="0.55"/>
<circle cx="233" cy="223.1" r="0.7" fill="#c0b0e0" opacity="0.55"/>
<circle cx="253.3" cy="247.2" r="0.9" fill="#b07ab8" opacity="0.55"/>
<circle cx="207.7" cy="239.9" r="0.8" fill="#9a5aa0" opacity="0.55"/>
<circle cx="238.4" cy="217.3" r="0.7" fill="#9a5aa0" opacity="0.55"/>
<circle cx="230.9" cy="232.7" r="0.5" fill="#9a5aa0" opacity="0.55"/>
<circle cx="233.8" cy="232.1" r="0.8" fill="#a490d0" opacity="0.55"/>
<circle cx="242.4" cy="223.9" r="0.4" fill="#c0b0e0" opacity="0.55"/>
<circle cx="236.6" cy="228.7" r="0.9" fill="#9a5aa0" opacity="0.55"/>
<circle cx="233.8" cy="229.1" r="0.6" fill="#4a3480" opacity="0.55"/>
<circle cx="216.2" cy="246.9" r="0.5" fill="#c0b0e0" opacity="0.55"/>
<circle cx="209.5" cy="242.2" r="0.5" fill="#4a3480" opacity="0.55"/>
<circle cx="213.9" cy="233.8" r="0.8" fill="#a490d0" opacity="0.55"/>
<circle cx="235.2" cy="214.2" r="0.7" fill="#4a3480" opacity="0.55"/>
<circle cx="245.7" cy="244.3" r="0.7" fill="#5a4898" opacity="0.55"/>
<circle cx="242.5" cy="239.5" r="0.5" fill="#b07ab8" opacity="0.55"/>
<circle cx="235" cy="235.7" r="0.8" fill="#4a3480" opacity="0.55"/>
<circle cx="239.4" cy="246.6" r="0.7" fill="#5a4898" opacity="0.55"/>
<circle cx="251.2" cy="221.5" r="0.5" fill="#a490d0" opacity="0.55"/>
<circle cx="235.7" cy="238.4" r="0.5" fill="#b07ab8" opacity="0.55"/>
<circle cx="206.3" cy="214.6" r="0.6" fill="#4a3480" opacity="0.55"/>
<circle cx="243.8" cy="246.3" r="0.6" fill="#4a3480" opacity="0.55"/>
<circle cx="244.1" cy="223" r="0.8" fill="#b07ab8" opacity="0.55"/>
<circle cx="260.4" cy="213.1" r="0.5" fill="#c0b0e0" opacity="0.55"/>
<circle cx="253.6" cy="211.6" r="0.8" fill="#9a5aa0" opacity="0.55"/>
<circle cx="249.7" cy="236.7" r="0.4" fill="#9a5aa0" opacity="0.55"/>
<circle cx="210.1" cy="220.6" r="0.8" fill="#9a5aa0" opacity="0.55"/>
<circle cx="244.9" cy="206.1" r="0.7" fill="#4a3480" opacity="0.55"/>
<circle cx="223.7" cy="218.6" r="0.7" fill="#4a3480" opacity="0.55"/>
<circle cx="256.8" cy="234" r="0.5" fill="#a490d0" opacity="0.55"/>
<circle cx="243.3" cy="205.1" r="0.9" fill="#5a4898" opacity="0.55"/>
<circle cx="209.6" cy="205.1" r="0.5" fill="#9a5aa0" opacity="0.55"/>
<circle cx="213.8" cy="228.6" r="0.5" fill="#c0b0e0" opacity="0.55"/>
<circle cx="241.9" cy="241.1" r="0.7" fill="#9a5aa0" opacity="0.55"/>
<circle cx="234.3" cy="234.6" r="0.8" fill="#5a4898" opacity="0.55"/>
<circle cx="203.8" cy="219.3" r="0.5" fill="#b07ab8" opacity="0.55"/>
<circle cx="231.1" cy="205.6" r="0.8" fill="#4a3480" opacity="0.55"/>
<circle cx="213.6" cy="240.3" r="0.7" fill="#5a4898" opacity="0.55"/>
<circle cx="252" cy="246.9" r="0.7" fill="#5a4898" opacity="0.55"/>
<circle cx="225.9" cy="242.7" r="0.7" fill="#4a3480" opacity="0.55"/>
<circle cx="224" cy="227.5" r="0.6" fill="#a490d0" opacity="0.55"/>
<circle cx="237.2" cy="206.1" r="0.5" fill="#9a5aa0" opacity="0.55"/>
<circle cx="245.3" cy="218.8" r="0.6" fill="#9a5aa0" opacity="0.55"/>
<circle cx="221.3" cy="219" r="0.6" fill="#a490d0" opacity="0.55"/>
<circle cx="204.2" cy="224.5" r="0.9" fill="#4a3480" opacity="0.55"/>
<circle cx="239.7" cy="236.3" r="0.5" fill="#5a4898" opacity="0.55"/>
<circle cx="218.9" cy="226.3" r="0.5" fill="#b07ab8" opacity="0.55"/>
<circle cx="236.3" cy="230" r="0.5" fill="#c0b0e0" opacity="0.55"/>
<circle cx="205" cy="228.9" r="0.8" fill="#a490d0" opacity="0.55"/>
<circle cx="248" cy="232.1" r="0.7" fill="#9a5aa0" opacity="0.55"/>
<circle cx="249" cy="239.2" r="0.5" fill="#a490d0" opacity="0.55"/>
<circle cx="242.6" cy="217.6" r="0.8" fill="#c0b0e0" opacity="0.55"/>
<circle cx="224.1" cy="241.8" r="0.5" fill="#b07ab8" opacity="0.55"/>
<rect x="201" y="202.2" width="62.1" height="48.1" filter="url(#nzd)" opacity="0.3"/>
<rect x="201" y="202.2" width="62.1" height="48.1" filter="url(#nzl)" opacity="0.3"/>
<path d="M236,222 Q238,219 243,218.5 Q247.5,218 247,220.5 Q245,223.5 240,224.8 Q236,225.5 236,222Z" fill="#b8e6f0"/>
<path d="M214,236 L236,224" stroke="#a098d4" stroke-width="2.2" opacity="0.6"/>
<path d="M204,204.5 L210,204.5 L206,207.5Z" fill="#c0e0ee"/>
</g></g>
<g clip-path="url(#c9)"><g filter="url(#bl)">
<rect x="263.2" y="204.2" width="58.9" height="44.1" fill="#70529c"/>
<circle cx="305.4" cy="218.9" r="0.8" fill="#c0b0e0" opacity="0.55"/>
<circle cx="282.2" cy="247.8" r="0.6" fill="#9a5aa0" opacity="0.55"/>
<circle cx="315.9" cy="239.9" r="0.9" fill="#a490d0" opacity="0.55"/>
<circle cx="271.2" cy="204.5" r="0.8" fill="#5a4898" opacity="0.55"/>
<circle cx="287.1" cy="221.7" r="0.8" fill="#a490d0" opacity="0.55"/>
<circle cx="297.8" cy="210.5" r="0.8" fill="#9a5aa0" opacity="0.55"/>
<circle cx="306" cy="228.5" r="0.9" fill="#9a5aa0" opacity="0.55"/>
<circle cx="267.5" cy="212.6" r="0.9" fill="#b07ab8" opacity="0.55"/>
<circle cx="273.7" cy="229.8" r="0.9" fill="#9a5aa0" opacity="0.55"/>
<circle cx="320.4" cy="234.6" r="0.8" fill="#4a3480" opacity="0.55"/>
<circle cx="312.6" cy="218.3" r="0.5" fill="#9a5aa0" opacity="0.55"/>
<circle cx="295.4" cy="237.6" r="0.7" fill="#a490d0" opacity="0.55"/>
<circle cx="304.7" cy="213.8" r="0.6" fill="#a490d0" opacity="0.55"/>
<circle cx="315.8" cy="216.7" r="0.7" fill="#4a3480" opacity="0.55"/>
<circle cx="274.8" cy="236.6" r="0.9" fill="#b07ab8" opacity="0.55"/>
<circle cx="266.1" cy="207.4" r="0.8" fill="#b07ab8" opacity="0.55"/>
<circle cx="283.3" cy="210.2" r="0.5" fill="#b07ab8" opacity="0.55"/>
<circle cx="301" cy="204.9" r="0.6" fill="#4a3480" opacity="0.55"/>
<circle cx="275.7" cy="218.6" r="0.8" fill="#c0b0e0" opacity="0.55"/>
<circle cx="291.8" cy="231.1" r="0.8" fill="#a490d0" opacity="0.55"/>
<circle cx="266.6" cy="222.5" r="0.4" fill="#c0b0e0" opacity="0.55"/>
<circle cx="299.3" cy="238.4" r="0.9" fill="#5a4898" opacity="0.55"/>
<circle cx="278.3" cy="224.6" r="0.4" fill="#9a5aa0" opacity="0.55"/>
<circle cx="296.4" cy="247.7" r="0.4" fill="#b07ab8" opacity="0.55"/>
<circle cx="305" cy="241" r="0.5" fill="#4a3480" opacity="0.55"/>
<circle cx="272.4" cy="210.5" r="0.8" fill="#4a3480" opacity="0.55"/>
<circle cx="284.3" cy="220.2" r="0.6" fill="#c0b0e0" opacity="0.55"/>
<circle cx="297.9" cy="228.7" r="0.7" fill="#b07ab8" opacity="0.55"/>
<circle cx="297.1" cy="214.3" r="0.7" fill="#c0b0e0" opacity="0.55"/>
<circle cx="291.3" cy="205.6" r="0.7" fill="#c0b0e0" opacity="0.55"/>
<circle cx="308.7" cy="247.3" r="0.6" fill="#9a5aa0" opacity="0.55"/>
<circle cx="284.5" cy="227.6" r="0.5" fill="#9a5aa0" opacity="0.55"/>
<circle cx="263.7" cy="225.2" r="0.7" fill="#9a5aa0" opacity="0.55"/>
<circle cx="272.1" cy="231.9" r="0.6" fill="#4a3480" opacity="0.55"/>
<circle cx="318.4" cy="231.7" r="0.5" fill="#b07ab8" opacity="0.55"/>
<circle cx="292.8" cy="228.7" r="0.5" fill="#b07ab8" opacity="0.55"/>
<circle cx="284.7" cy="210.8" r="0.5" fill="#c0b0e0" opacity="0.55"/>
<circle cx="313.6" cy="238.6" r="0.7" fill="#9a5aa0" opacity="0.55"/>
<circle cx="309" cy="214.9" r="0.9" fill="#5a4898" opacity="0.55"/>
<circle cx="275.8" cy="244.4" r="0.9" fill="#5a4898" opacity="0.55"/>
<circle cx="290.3" cy="218.5" r="0.9" fill="#4a3480" opacity="0.55"/>
<circle cx="302.1" cy="204.9" r="0.8" fill="#5a4898" opacity="0.55"/>
<circle cx="302.9" cy="219.7" r="0.5" fill="#5a4898" opacity="0.55"/>
<circle cx="287.3" cy="244.7" r="0.9" fill="#c0b0e0" opacity="0.55"/>
<circle cx="313.9" cy="205.6" r="0.4" fill="#c0b0e0" opacity="0.55"/>
<circle cx="288.8" cy="214.4" r="0.5" fill="#5a4898" opacity="0.55"/>
<circle cx="301.1" cy="217.4" r="0.9" fill="#a490d0" opacity="0.55"/>
<circle cx="321" cy="239.1" r="0.6" fill="#9a5aa0" opacity="0.55"/>
<circle cx="319.4" cy="210.2" r="0.6" fill="#4a3480" opacity="0.55"/>
<circle cx="282.7" cy="225.6" r="0.8" fill="#a490d0" opacity="0.55"/>
<circle cx="282" cy="231.1" r="0.9" fill="#a490d0" opacity="0.55"/>
<circle cx="297.3" cy="243.1" r="0.5" fill="#c0b0e0" opacity="0.55"/>
<circle cx="284.4" cy="238.6" r="0.8" fill="#a490d0" opacity="0.55"/>
<circle cx="288.8" cy="210.4" r="0.9" fill="#c0b0e0" opacity="0.55"/>
<circle cx="264.6" cy="209.1" r="0.9" fill="#4a3480" opacity="0.55"/>
<circle cx="271.1" cy="217.5" r="0.7" fill="#9a5aa0" opacity="0.55"/>
<circle cx="268.9" cy="211.6" r="0.7" fill="#4a3480" opacity="0.55"/>
<circle cx="287.6" cy="232.5" r="0.7" fill="#5a4898" opacity="0.55"/>
<circle cx="315.1" cy="247.4" r="0.4" fill="#a490d0" opacity="0.55"/>
<circle cx="275.1" cy="231.9" r="0.4" fill="#a490d0" opacity="0.55"/>
<circle cx="292.9" cy="214.4" r="0.6" fill="#4a3480" opacity="0.55"/>
<circle cx="306.1" cy="206.3" r="0.8" fill="#4a3480" opacity="0.55"/>
<circle cx="314.9" cy="209.5" r="0.6" fill="#a490d0" opacity="0.55"/>
<circle cx="294.1" cy="204.3" r="0.5" fill="#b07ab8" opacity="0.55"/>
<circle cx="271.9" cy="236.8" r="0.7" fill="#4a3480" opacity="0.55"/>
<circle cx="294.4" cy="241.2" r="0.9" fill="#4a3480" opacity="0.55"/>
<circle cx="283.8" cy="213.7" r="0.9" fill="#a490d0" opacity="0.55"/>
<circle cx="306.3" cy="216.2" r="0.5" fill="#9a5aa0" opacity="0.55"/>
<circle cx="279" cy="246.8" r="0.5" fill="#4a3480" opacity="0.55"/>
<circle cx="287.2" cy="228.7" r="0.6" fill="#4a3480" opacity="0.55"/>
<circle cx="282.4" cy="206" r="0.6" fill="#9a5aa0" opacity="0.55"/>
<circle cx="295.5" cy="234.6" r="0.9" fill="#c0b0e0" opacity="0.55"/>
<circle cx="305.5" cy="221.8" r="0.6" fill="#5a4898" opacity="0.55"/>
<circle cx="285.8" cy="210.9" r="0.8" fill="#5a4898" opacity="0.55"/>
<circle cx="310.5" cy="243.8" r="0.7" fill="#a490d0" opacity="0.55"/>
<circle cx="299" cy="245" r="0.5" fill="#b07ab8" opacity="0.55"/>
<circle cx="306.2" cy="247.9" r="0.8" fill="#c0b0e0" opacity="0.55"/>
<circle cx="270" cy="241.4" r="0.8" fill="#c0b0e0" opacity="0.55"/>
<circle cx="266.1" cy="234.8" r="0.6" fill="#c0b0e0" opacity="0.55"/>
<circle cx="289.3" cy="233.7" r="0.6" fill="#b07ab8" opacity="0.55"/>
<circle cx="263.3" cy="237.1" r="0.8" fill="#b07ab8" opacity="0.55"/>
<circle cx="283.4" cy="228.3" r="0.6" fill="#c0b0e0" opacity="0.55"/>
<circle cx="309.8" cy="242.5" r="0.6" fill="#4a3480" opacity="0.55"/>
<circle cx="286.4" cy="227.4" r="0.7" fill="#c0b0e0" opacity="0.55"/>
<circle cx="311.9" cy="207.4" r="0.8" fill="#c0b0e0" opacity="0.55"/>
<circle cx="276.4" cy="231.2" r="0.5" fill="#5a4898" opacity="0.55"/>
<circle cx="313.7" cy="219.5" r="0.7" fill="#b07ab8" opacity="0.55"/>
<circle cx="276.2" cy="210.5" r="0.9" fill="#b07ab8" opacity="0.55"/>
<circle cx="284.6" cy="213.2" r="0.5" fill="#9a5aa0" opacity="0.55"/>
<circle cx="277.3" cy="211.8" r="0.8" fill="#5a4898" opacity="0.55"/>
<circle cx="273.7" cy="246" r="0.8" fill="#c0b0e0" opacity="0.55"/>
<circle cx="314.3" cy="206.1" r="0.6" fill="#5a4898" opacity="0.55"/>
<circle cx="270.4" cy="211" r="0.5" fill="#4a3480" opacity="0.55"/>
<circle cx="284.7" cy="233.4" r="0.7" fill="#9a5aa0" opacity="0.55"/>
<circle cx="289.9" cy="208.1" r="0.6" fill="#5a4898" opacity="0.55"/>
<circle cx="304.1" cy="224" r="0.6" fill="#a490d0" opacity="0.55"/>
<circle cx="307.9" cy="210.8" r="0.7" fill="#9a5aa0" opacity="0.55"/>
<circle cx="292" cy="233.3" r="0.7" fill="#b07ab8" opacity="0.55"/>
<circle cx="283.2" cy="221" r="0.4" fill="#a490d0" opacity="0.55"/>
<circle cx="263.2" cy="215.7" r="0.7" fill="#9a5aa0" opacity="0.55"/>
<circle cx="305.5" cy="216.3" r="0.6" fill="#a490d0" opacity="0.55"/>
<circle cx="278.8" cy="223.5" r="0.7" fill="#5a4898" opacity="0.55"/>
<circle cx="313.8" cy="213.1" r="0.6" fill="#9a5aa0" opacity="0.55"/>
<circle cx="299.6" cy="220.6" r="0.4" fill="#5a4898" opacity="0.55"/>
<circle cx="285.3" cy="206" r="0.8" fill="#5a4898" opacity="0.55"/>
<circle cx="288.6" cy="231" r="0.5" fill="#a490d0" opacity="0.55"/>
<circle cx="285.9" cy="229.7" r="0.9" fill="#a490d0" opacity="0.55"/>
<circle cx="320.8" cy="241.8" r="0.7" fill="#4a3480" opacity="0.55"/>
<circle cx="302.4" cy="218.7" r="0.4" fill="#5a4898" opacity="0.55"/>
<circle cx="285.5" cy="227.4" r="0.6" fill="#c0b0e0" opacity="0.55"/>
<rect x="261.2" y="202.2" width="62.9" height="48.1" filter="url(#nzd)" opacity="0.3"/>
<rect x="261.2" y="202.2" width="62.9" height="48.1" filter="url(#nzl)" opacity="0.3"/>
<ellipse cx="290" cy="223" rx="3" ry="6.5" fill="#b8e8f0"/>
<ellipse cx="306.5" cy="240.5" rx="1.4" ry="3.5" fill="#b8d8f0"/>
<ellipse cx="272.2" cy="222.5" rx="1" ry="2" fill="#c8d8f4"/>
<circle cx="311" cy="206" r="1" fill="#c8d8f4"/>
</g></g>
<g clip-path="url(#c10)"><g filter="url(#bl)">
<rect x="203" y="250.2" width="58.1" height="43.8" fill="#f6eef6"/>
<polygon points="202.5,255.9 203.7,252.4 204,255.9 203.9,259.6 203,263.4 204.1,267.2 204.1,270.9 203.6,274.7 203.7,278.5 203,282.2 203.3,286 201.9,286 202.3,282.2 201.9,278.5 201.7,274.7 202.4,270.9 202.2,267.2 202.7,263.4 202.7,259.6" fill="#7a46a6"/>
<path d="M203.3,280 Q202.3,269.4 203.6,256.9" stroke="#c4a4e0" stroke-width="0.8" fill="none" opacity="0.75"/>
<polygon points="205.1,254.4 208.4,250.9 211.9,254.4 212.7,258.4 212,262.3 212.7,266.3 212.9,270.2 212.5,274.2 212.8,278.1 212.9,282.1 212.1,286 205.5,286 205.2,282.1 204.6,278.1 205,274.2 204.7,270.2 205.6,266.3 204.7,262.3 204.4,258.4" fill="#7a46a6"/>
<path d="M208.1,280 Q207.1,268.7 207.7,255.4" stroke="#c4a4e0" stroke-width="1.6" fill="none" opacity="0.75"/>
<polygon points="213.8,254.9 217.2,251.4 219.7,254.9 220.1,258.8 220.7,262.7 220.1,266.6 220.5,270.5 220.9,274.3 220.6,278.2 219.7,282.1 220.1,286 214,286 214.1,282.1 213.1,278.2 213.2,274.3 213.7,270.5 213.7,266.6 213.5,262.7 213.9,258.8" fill="#7a46a6"/>
<path d="M216.2,280 Q214.9,269 215.9,255.9" stroke="#c4a4e0" stroke-width="1.5" fill="none" opacity="0.75"/>
<polygon points="221.3,256.9 225,253.4 229.3,256.9 229.5,260.5 228.8,264.1 229.3,267.8 229.3,271.4 229.4,275.1 229.5,278.7 228.8,282.4 229.5,286 221.8,286 221.2,282.4 221.1,278.7 222.1,275.1 221.2,271.4 221.7,267.8 221.5,264.1 222.2,260.5" fill="#7a46a6"/>
<path d="M226,280 Q226.2,269.9 225.8,257.9" stroke="#c4a4e0" stroke-width="1.6" fill="none" opacity="0.75"/>
<polygon points="230,255 234.3,251.5 237.8,255 238.5,258.8 237.9,262.7 238.9,266.6 238.2,270.5 238.4,274.4 238.2,278.2 237.8,282.1 237.7,286 230.9,286 230.3,282.1 230.8,278.2 230.1,274.4 230.4,270.5 229.9,266.6 231,262.7 230,258.8" fill="#7a46a6"/>
<path d="M234.9,280 Q233.8,269 235.1,256" stroke="#c4a4e0" stroke-width="1.7" fill="none" opacity="0.75"/>
<polygon points="239.9,256.8 243.3,253.3 247.6,256.8 247.2,260.5 247.7,264.1 247.2,267.8 247.7,271.4 247.2,275.1 247.6,278.7 247,282.4 246.9,286 239.6,286 239.7,282.4 239.7,278.7 240.3,275.1 240.3,271.4 239.5,267.8 239.3,264.1 239.2,260.5" fill="#7a46a6"/>
<path d="M244.3,280 Q245.7,269.9 244.4,257.8" stroke="#c4a4e0" stroke-width="1.7" fill="none" opacity="0.75"/>
<polygon points="248.5,255.5 252.9,252 254.8,255.5 255.6,259.3 255.1,263.1 255.6,266.9 255.5,270.7 255.1,274.6 255,278.4 255.6,282.2 255.1,286 248.9,286 248.7,282.2 248.9,278.4 249,274.6 248.9,270.7 249,266.9 249.1,263.1 248.4,259.3" fill="#7a46a6"/>
<path d="M252.2,280 Q252.5,269.2 251.8,256.5" stroke="#c4a4e0" stroke-width="1.5" fill="none" opacity="0.75"/>
<polygon points="256.4,255.6 258.8,252.1 262.5,255.6 262.7,259.4 262.7,263.2 262.5,267 262.7,270.8 262.7,274.6 262.5,278.4 262.8,282.2 262.3,286 256.7,286 257.3,282.2 257.1,278.4 256.5,274.6 257,270.8 256.5,267 256.9,263.2 256.7,259.4" fill="#7a46a6"/>
<path d="M260,280 Q261.4,269.3 260,256.6" stroke="#c4a4e0" stroke-width="1.2" fill="none" opacity="0.75"/>
<rect x="203" y="276" width="58.1" height="11" fill="#56308e" opacity="0.55"/>
<circle cx="247" cy="256.8" r="1" fill="#e0d0f0" opacity="0.6"/>
<circle cx="257.3" cy="277" r="0.9" fill="#e0d0f0" opacity="0.6"/>
<circle cx="213.2" cy="258" r="0.9" fill="#b08ad0" opacity="0.6"/>
<circle cx="232.7" cy="280.7" r="1.1" fill="#b08ad0" opacity="0.6"/>
<circle cx="226.3" cy="257.2" r="1.1" fill="#6a3a98" opacity="0.6"/>
<circle cx="247.7" cy="279.1" r="0.6" fill="#b08ad0" opacity="0.6"/>
<circle cx="252.3" cy="273.1" r="0.5" fill="#e0d0f0" opacity="0.6"/>
<circle cx="208.1" cy="278.6" r="1" fill="#4a2480" opacity="0.6"/>
<circle cx="250.9" cy="262" r="0.8" fill="#4a2480" opacity="0.6"/>
<circle cx="235" cy="278.4" r="1.3" fill="#b08ad0" opacity="0.6"/>
<circle cx="261" cy="280.5" r="1.3" fill="#b08ad0" opacity="0.6"/>
<circle cx="221.6" cy="261.7" r="1.4" fill="#b08ad0" opacity="0.6"/>
<circle cx="260.4" cy="264.2" r="0.7" fill="#6a3a98" opacity="0.6"/>
<circle cx="225.3" cy="275.9" r="0.8" fill="#e0d0f0" opacity="0.6"/>
<circle cx="232.7" cy="268.6" r="0.5" fill="#6a3a98" opacity="0.6"/>
<circle cx="217.4" cy="267.4" r="0.9" fill="#6a3a98" opacity="0.6"/>
<circle cx="220.7" cy="260" r="0.7" fill="#6a3a98" opacity="0.6"/>
<circle cx="257.2" cy="275.7" r="1.1" fill="#b08ad0" opacity="0.6"/>
<circle cx="224.2" cy="280" r="0.7" fill="#4a2480" opacity="0.6"/>
<circle cx="245.4" cy="256.3" r="0.6" fill="#6a3a98" opacity="0.6"/>
<circle cx="205.1" cy="262.6" r="0.9" fill="#b08ad0" opacity="0.6"/>
<circle cx="244.3" cy="280.1" r="1" fill="#e0d0f0" opacity="0.6"/>
<circle cx="226.6" cy="277.8" r="0.7" fill="#b08ad0" opacity="0.6"/>
<circle cx="206.4" cy="269" r="1.1" fill="#4a2480" opacity="0.6"/>
<circle cx="211" cy="282.4" r="1.2" fill="#e0d0f0" opacity="0.6"/>
<circle cx="213.5" cy="283.7" r="1" fill="#b08ad0" opacity="0.6"/>
<circle cx="231.9" cy="276.2" r="1.1" fill="#6a3a98" opacity="0.6"/>
<circle cx="249.6" cy="272" r="0.6" fill="#b08ad0" opacity="0.6"/>
<circle cx="233" cy="270" r="0.7" fill="#4a2480" opacity="0.6"/>
<circle cx="258.2" cy="268.4" r="1.1" fill="#6a3a98" opacity="0.6"/>
<circle cx="244" cy="269.3" r="0.9" fill="#4a2480" opacity="0.6"/>
<circle cx="256.7" cy="260" r="0.6" fill="#e0d0f0" opacity="0.6"/>
<circle cx="220.1" cy="263" r="1" fill="#6a3a98" opacity="0.6"/>
<circle cx="244.1" cy="277.6" r="0.8" fill="#6a3a98" opacity="0.6"/>
<circle cx="221.8" cy="281.2" r="0.6" fill="#b08ad0" opacity="0.6"/>
<circle cx="225.7" cy="257" r="0.8" fill="#6a3a98" opacity="0.6"/>
<circle cx="216" cy="272.4" r="0.6" fill="#e0d0f0" opacity="0.6"/>
<circle cx="211.7" cy="261.5" r="0.8" fill="#e0d0f0" opacity="0.6"/>
<circle cx="209.6" cy="280.9" r="0.6" fill="#b08ad0" opacity="0.6"/>
<circle cx="260.9" cy="284.2" r="1" fill="#6a3a98" opacity="0.6"/>
<circle cx="231.5" cy="256.5" r="1.2" fill="#4a2480" opacity="0.6"/>
<circle cx="214.6" cy="264.4" r="0.8" fill="#4a2480" opacity="0.6"/>
<circle cx="214.7" cy="270.1" r="1.2" fill="#b08ad0" opacity="0.6"/>
<circle cx="236.6" cy="265" r="1" fill="#4a2480" opacity="0.6"/>
<circle cx="259.2" cy="266.3" r="1.3" fill="#6a3a98" opacity="0.6"/>
<circle cx="205.9" cy="266" r="0.9" fill="#b08ad0" opacity="0.6"/>
<circle cx="222.1" cy="266.9" r="0.6" fill="#6a3a98" opacity="0.6"/>
<circle cx="250" cy="277.7" r="0.9" fill="#4a2480" opacity="0.6"/>
<circle cx="248.8" cy="273.9" r="0.9" fill="#4a2480" opacity="0.6"/>
<circle cx="205.3" cy="273.4" r="0.9" fill="#b08ad0" opacity="0.6"/>
<circle cx="227.1" cy="281.1" r="0.6" fill="#b08ad0" opacity="0.6"/>
<circle cx="223.9" cy="275.9" r="0.6" fill="#4a2480" opacity="0.6"/>
<circle cx="251.9" cy="282.2" r="0.9" fill="#b08ad0" opacity="0.6"/>
<circle cx="218.2" cy="259.2" r="0.7" fill="#b08ad0" opacity="0.6"/>
<circle cx="231.8" cy="272.1" r="0.6" fill="#e0d0f0" opacity="0.6"/>
<circle cx="217.3" cy="273.1" r="0.5" fill="#6a3a98" opacity="0.6"/>
<circle cx="224.3" cy="261.9" r="0.9" fill="#b08ad0" opacity="0.6"/>
<circle cx="260.4" cy="283.3" r="1.2" fill="#b08ad0" opacity="0.6"/>
<circle cx="254.7" cy="256.5" r="1.3" fill="#e0d0f0" opacity="0.6"/>
<circle cx="249" cy="277" r="0.7" fill="#b08ad0" opacity="0.6"/>
<circle cx="208.1" cy="261.1" r="1.3" fill="#4a2480" opacity="0.6"/>
<circle cx="227.6" cy="274.7" r="0.6" fill="#4a2480" opacity="0.6"/>
<circle cx="207.9" cy="273.4" r="0.7" fill="#4a2480" opacity="0.6"/>
<circle cx="250.7" cy="258.2" r="0.8" fill="#4a2480" opacity="0.6"/>
<circle cx="205.4" cy="274.5" r="1.1" fill="#6a3a98" opacity="0.6"/>
<circle cx="222.9" cy="280.3" r="0.9" fill="#b08ad0" opacity="0.6"/>
<circle cx="203.6" cy="284.2" r="0.9" fill="#e0d0f0" opacity="0.6"/>
<circle cx="204.9" cy="279.7" r="0.6" fill="#b08ad0" opacity="0.6"/>
<circle cx="211.8" cy="266.3" r="0.6" fill="#b08ad0" opacity="0.6"/>
<circle cx="256.7" cy="276.6" r="1.1" fill="#4a2480" opacity="0.6"/>
<rect x="203" y="287" width="58.1" height="4.5" fill="#dcaccc"/>
<rect x="201" y="248.2" width="62.1" height="47.8" filter="url(#nzd)" opacity="0.3"/>
<rect x="201" y="248.2" width="62.1" height="47.8" filter="url(#nzl)" opacity="0.3"/>
<rect x="203" y="291.5" width="58.1" height="2.5" fill="#f6eef4"/>
</g></g>
<g clip-path="url(#c11)"><g filter="url(#bl)">
<rect x="263.2" y="250.2" width="58.9" height="43.8" fill="#f4ecf6"/>
<polygon points="261.5,254.9 264.9,251.4 266.1,254.9 265.9,258.7 267,262.4 266.6,266.2 265.9,269.9 266.7,273.7 266.8,277.5 266.2,281.2 266.5,285 261.2,285 261.3,281.2 261.6,277.5 261.6,273.7 261.8,269.9 261.2,266.2 261.7,262.4 262.1,258.7" fill="#7c48a8"/>
<path d="M264.2,279 Q265.1,268.4 264.1,255.9" stroke="#c0a0dc" stroke-width="1.1" fill="none" opacity="0.75"/>
<polygon points="267.4,255.7 272.9,252.2 276,255.7 276.6,259.4 275.8,263.1 276,266.7 276.7,270.4 276.8,274 275.8,277.7 276.3,281.3 276.2,285 267.3,285 267.8,281.3 268.4,277.7 267.5,274 267.6,270.4 267.6,266.7 267.8,263.1 268.1,259.4" fill="#7c48a8"/>
<path d="M271.5,279 Q271.8,268.9 271.1,256.7" stroke="#c0a0dc" stroke-width="1.8" fill="none" opacity="0.75"/>
<polygon points="278.2,255.2 281.7,251.7 285.1,255.2 285,259 284.9,262.7 285.5,266.4 285.4,270.1 285.7,273.8 285.6,277.6 285.6,281.3 285,285 278.2,285 277.3,281.3 277.2,277.6 277.6,273.8 278.2,270.1 277.2,266.4 277.7,262.7 277.1,259" fill="#7c48a8"/>
<path d="M281.8,279 Q280.7,268.6 281.5,256.2" stroke="#c0a0dc" stroke-width="1.7" fill="none" opacity="0.75"/>
<polygon points="287.5,256.5 290.4,253 293.1,256.5 294.1,260 293.7,263.6 293.4,267.2 293.7,270.7 293.1,274.3 294,277.9 293.5,281.4 294.2,285 286.8,285 287,281.4 286.7,277.9 287.2,274.3 287.1,270.7 286.4,267.2 286.6,263.6 287.1,260" fill="#7c48a8"/>
<path d="M289.5,279 Q290.4,269.2 289.3,257.5" stroke="#c0a0dc" stroke-width="1.5" fill="none" opacity="0.75"/>
<polygon points="294.7,254.8 296.9,251.3 299.2,254.8 298.8,258.6 298.8,262.4 298.7,266.1 299.7,269.9 299.6,273.7 299.6,277.5 299,281.2 299.2,285 295.6,285 294.9,281.2 294.7,277.5 295,273.7 295.3,269.9 295.3,266.1 295.2,262.4 294.8,258.6" fill="#7c48a8"/>
<path d="M297.7,279 Q297.3,268.4 297.9,255.8" stroke="#c0a0dc" stroke-width="0.9" fill="none" opacity="0.75"/>
<polygon points="301.1,254 302.4,250.5 305.4,254 306.3,257.9 306.2,261.8 305.8,265.6 305.2,269.5 305.6,273.4 306.3,277.3 305.3,281.1 305.3,285 300.8,285 300.5,281.1 300.8,277.3 300.4,273.4 300.1,269.5 301.3,265.6 300.3,261.8 300.2,257.9" fill="#7c48a8"/>
<path d="M303.3,279 Q303.9,268 302.9,255" stroke="#c0a0dc" stroke-width="1.1" fill="none" opacity="0.75"/>
<polygon points="307.3,254.9 310.1,251.4 314.6,254.9 314.8,258.6 314.6,262.4 314.8,266.2 313.8,269.9 314.3,273.7 314.5,277.5 314.6,281.2 313.7,285 306.8,285 306.6,281.2 306.7,277.5 306.6,273.7 307.1,269.9 307.4,266.2 306.7,262.4 307,258.6" fill="#7c48a8"/>
<path d="M310.6,279 Q310.8,268.4 310.5,255.9" stroke="#c0a0dc" stroke-width="1.6" fill="none" opacity="0.75"/>
<polygon points="315.7,254 319.9,250.5 323.8,254 323.8,257.9 323.9,261.8 323.4,265.6 323.3,269.5 322.8,273.4 323.4,277.3 323.6,281.1 322.8,285 316,285 315.5,281.1 315.9,277.3 316.2,273.4 315.7,269.5 316.2,265.6 315.1,261.8 315.7,257.9" fill="#7c48a8"/>
<path d="M319.4,279 Q319.4,268 319.6,255" stroke="#c0a0dc" stroke-width="1.7" fill="none" opacity="0.75"/>
<rect x="263.2" y="275" width="58.9" height="10.5" fill="#56308e" opacity="0.55"/>
<circle cx="321.9" cy="278.3" r="0.9" fill="#e0d0f0" opacity="0.6"/>
<circle cx="294.2" cy="263.6" r="0.6" fill="#4a2480" opacity="0.6"/>
<circle cx="274.9" cy="273" r="1.3" fill="#e0d0f0" opacity="0.6"/>
<circle cx="268.6" cy="276" r="0.8" fill="#a880cc" opacity="0.6"/>
<circle cx="310.5" cy="268.8" r="1.2" fill="#e0d0f0" opacity="0.6"/>
<circle cx="271.1" cy="279.5" r="1.3" fill="#4a2480" opacity="0.6"/>
<circle cx="307.1" cy="279.6" r="1.2" fill="#a880cc" opacity="0.6"/>
<circle cx="288.8" cy="279.4" r="1.2" fill="#6a3a98" opacity="0.6"/>
<circle cx="307.3" cy="272" r="1.1" fill="#4a2480" opacity="0.6"/>
<circle cx="267.2" cy="278.1" r="1.2" fill="#a880cc" opacity="0.6"/>
<circle cx="277.3" cy="271.8" r="1" fill="#e0d0f0" opacity="0.6"/>
<circle cx="297.1" cy="282.9" r="1.3" fill="#4a2480" opacity="0.6"/>
<circle cx="286.3" cy="278.1" r="1.2" fill="#6a3a98" opacity="0.6"/>
<circle cx="311.8" cy="266" r="0.6" fill="#6a3a98" opacity="0.6"/>
<circle cx="302.3" cy="281.9" r="0.9" fill="#6a3a98" opacity="0.6"/>
<circle cx="263.5" cy="268.6" r="0.5" fill="#4a2480" opacity="0.6"/>
<circle cx="314.9" cy="268.2" r="0.9" fill="#6a3a98" opacity="0.6"/>
<circle cx="290.1" cy="263.7" r="0.7" fill="#6a3a98" opacity="0.6"/>
<circle cx="286.4" cy="267.9" r="0.5" fill="#6a3a98" opacity="0.6"/>
<circle cx="268.4" cy="261.7" r="1.1" fill="#e0d0f0" opacity="0.6"/>
<circle cx="287.2" cy="270.2" r="0.7" fill="#a880cc" opacity="0.6"/>
<circle cx="303.4" cy="254.3" r="1.2" fill="#a880cc" opacity="0.6"/>
<circle cx="286.2" cy="263.6" r="0.6" fill="#a880cc" opacity="0.6"/>
<circle cx="276.4" cy="281.5" r="1" fill="#e0d0f0" opacity="0.6"/>
<circle cx="281.4" cy="263.2" r="1.3" fill="#a880cc" opacity="0.6"/>
<circle cx="313.7" cy="284" r="0.9" fill="#4a2480" opacity="0.6"/>
<circle cx="263.2" cy="258.6" r="1.4" fill="#e0d0f0" opacity="0.6"/>
<circle cx="296.5" cy="274" r="1.2" fill="#4a2480" opacity="0.6"/>
<circle cx="321.2" cy="276.5" r="1.2" fill="#e0d0f0" opacity="0.6"/>
<circle cx="271.2" cy="277.1" r="0.7" fill="#e0d0f0" opacity="0.6"/>
<circle cx="267.7" cy="273" r="0.9" fill="#6a3a98" opacity="0.6"/>
<circle cx="284.5" cy="274.2" r="1.1" fill="#e0d0f0" opacity="0.6"/>
<circle cx="318.4" cy="278.9" r="0.6" fill="#e0d0f0" opacity="0.6"/>
<circle cx="292.3" cy="275.1" r="0.5" fill="#4a2480" opacity="0.6"/>
<circle cx="296" cy="267.3" r="1.2" fill="#a880cc" opacity="0.6"/>
<circle cx="306.1" cy="277" r="0.5" fill="#6a3a98" opacity="0.6"/>
<circle cx="291.6" cy="253.2" r="1.3" fill="#6a3a98" opacity="0.6"/>
<circle cx="271.7" cy="271.8" r="1" fill="#4a2480" opacity="0.6"/>
<circle cx="322" cy="258.6" r="1" fill="#6a3a98" opacity="0.6"/>
<circle cx="300.1" cy="260.7" r="1.2" fill="#4a2480" opacity="0.6"/>
<circle cx="288" cy="284.3" r="1.1" fill="#e0d0f0" opacity="0.6"/>
<circle cx="292.2" cy="284.2" r="0.8" fill="#6a3a98" opacity="0.6"/>
<circle cx="282.3" cy="279.7" r="0.9" fill="#4a2480" opacity="0.6"/>
<circle cx="309.9" cy="264.1" r="0.6" fill="#4a2480" opacity="0.6"/>
<circle cx="272.8" cy="276.6" r="0.7" fill="#6a3a98" opacity="0.6"/>
<circle cx="316.7" cy="271.8" r="1.4" fill="#6a3a98" opacity="0.6"/>
<circle cx="319.9" cy="259" r="0.8" fill="#e0d0f0" opacity="0.6"/>
<circle cx="274.8" cy="263.3" r="0.9" fill="#4a2480" opacity="0.6"/>
<circle cx="303.3" cy="264.6" r="0.8" fill="#e0d0f0" opacity="0.6"/>
<circle cx="278.9" cy="259.5" r="1.3" fill="#e0d0f0" opacity="0.6"/>
<circle cx="292.7" cy="266.1" r="0.6" fill="#6a3a98" opacity="0.6"/>
<circle cx="265.8" cy="261.9" r="1" fill="#e0d0f0" opacity="0.6"/>
<circle cx="307.5" cy="261.8" r="0.8" fill="#e0d0f0" opacity="0.6"/>
<circle cx="294.4" cy="262.2" r="1.1" fill="#6a3a98" opacity="0.6"/>
<circle cx="289.7" cy="253.4" r="1" fill="#6a3a98" opacity="0.6"/>
<circle cx="284" cy="283.1" r="0.7" fill="#a880cc" opacity="0.6"/>
<circle cx="315.4" cy="281" r="0.6" fill="#e0d0f0" opacity="0.6"/>
<circle cx="312.3" cy="275.8" r="1.3" fill="#a880cc" opacity="0.6"/>
<circle cx="301.2" cy="284" r="1.1" fill="#4a2480" opacity="0.6"/>
<circle cx="308.8" cy="265.6" r="1.3" fill="#6a3a98" opacity="0.6"/>
<circle cx="286.8" cy="269" r="0.8" fill="#a880cc" opacity="0.6"/>
<circle cx="305.1" cy="257.6" r="1.2" fill="#e0d0f0" opacity="0.6"/>
<circle cx="302.6" cy="281.8" r="0.6" fill="#6a3a98" opacity="0.6"/>
<circle cx="303.4" cy="282.6" r="0.6" fill="#4a2480" opacity="0.6"/>
<circle cx="313.4" cy="274.4" r="1" fill="#e0d0f0" opacity="0.6"/>
<circle cx="275.8" cy="276.3" r="1.2" fill="#a880cc" opacity="0.6"/>
<circle cx="272.1" cy="274.5" r="1.2" fill="#4a2480" opacity="0.6"/>
<circle cx="316.1" cy="281.8" r="1.2" fill="#e0d0f0" opacity="0.6"/>
<circle cx="315" cy="257.2" r="1.1" fill="#e0d0f0" opacity="0.6"/>
<circle cx="299.3" cy="261.8" r="0.6" fill="#6a3a98" opacity="0.6"/>
<rect x="263.2" y="285.5" width="58.9" height="5" fill="#dcaccc"/>
<rect x="261.2" y="248.2" width="62.9" height="47.8" filter="url(#nzd)" opacity="0.3"/>
<rect x="261.2" y="248.2" width="62.9" height="47.8" filter="url(#nzl)" opacity="0.3"/>
<path d="M262,273 L270,272.5 L271.5,276" fill="none" stroke="#f6eef8" stroke-width="1.6" stroke-linecap="round"/>
<ellipse cx="308" cy="270" rx="2" ry="2.5" fill="#f6eef8"/>
<rect x="263.2" y="290.5" width="58.9" height="3.5" fill="#f6eef4"/>
<circle cx="267" cy="292.6" r="1" fill="#303030"/>
<text x="309" y="289" font-size="4" style="fill:#fff;stroke:none" textLength="10" lengthAdjust="spacingAndGlyphs">100 μm</text>
</g></g>
<line x1="31.7" y1="346.9" x2="31.7" y2="404.9" stroke="#1a1a1a" stroke-width="1.2"/>
<line x1="29.1" y1="348.3" x2="31.7" y2="348.3" stroke="#1a1a1a" stroke-width="1.2"/>
<text x="25.6" y="350.71" font-size="7.8" style="stroke-width:0.32px" text-anchor="end">8</text>
<line x1="29.1" y1="362.3" x2="31.7" y2="362.3" stroke="#1a1a1a" stroke-width="1.2"/>
<text x="25.6" y="364.71" font-size="7.8" style="stroke-width:0.32px" text-anchor="end">6</text>
<line x1="29.1" y1="376.3" x2="31.7" y2="376.3" stroke="#1a1a1a" stroke-width="1.2"/>
<text x="25.6" y="378.71" font-size="7.8" style="stroke-width:0.32px" text-anchor="end">4</text>
<line x1="29.1" y1="390.3" x2="31.7" y2="390.3" stroke="#1a1a1a" stroke-width="1.2"/>
<text x="25.6" y="392.71" font-size="7.8" style="stroke-width:0.32px" text-anchor="end">2</text>
<line x1="29.1" y1="404.3" x2="31.7" y2="404.3" stroke="#1a1a1a" stroke-width="1.2"/>
<text x="25.6" y="406.71" font-size="7.8" style="stroke-width:0.32px" text-anchor="end">0</text>
<line x1="31.1" y1="404.3" x2="108.3" y2="404.3" stroke="#1a1a1a" stroke-width="1.2"/>
<line x1="44.6" y1="404.3" x2="44.6" y2="406.9" stroke="#1a1a1a" stroke-width="1.2"/>
<line x1="69.5" y1="404.3" x2="69.5" y2="406.9" stroke="#1a1a1a" stroke-width="1.2"/>
<line x1="94.8" y1="404.3" x2="94.8" y2="406.9" stroke="#1a1a1a" stroke-width="1.2"/>
<rect x="36.2" y="380.85" width="7.1" height="23.45" fill="#c0132f"/>
<line x1="39.75" y1="380.85" x2="39.75" y2="378.75" stroke="#c0132f" stroke-width="1.0"/>
<line x1="37.95" y1="378.75" x2="41.55" y2="378.75" stroke="#c0132f" stroke-width="1.0"/>
<rect x="45.9" y="394.64" width="7" height="9.66" fill="#3a5a8e"/>
<line x1="49.4" y1="394.64" x2="49.4" y2="392.89" stroke="#3a5a8e" stroke-width="1.0"/>
<line x1="47.6" y1="392.89" x2="51.2" y2="392.89" stroke="#3a5a8e" stroke-width="1.0"/>
<rect x="61.2" y="364.75" width="6.7" height="39.55" fill="#c0132f"/>
<line x1="64.55" y1="364.75" x2="64.55" y2="362.65" stroke="#c0132f" stroke-width="1.0"/>
<line x1="62.75" y1="362.65" x2="66.35" y2="362.65" stroke="#c0132f" stroke-width="1.0"/>
<rect x="70.8" y="401.85" width="7.1" height="2.45" fill="#3a5a8e"/>
<line x1="74.35" y1="401.85" x2="74.35" y2="399.75" stroke="#3a5a8e" stroke-width="1.0"/>
<line x1="72.55" y1="399.75" x2="76.15" y2="399.75" stroke="#3a5a8e" stroke-width="1.0"/>
<rect x="87.1" y="388.2" width="6.9" height="16.1" fill="#c0132f"/>
<line x1="90.55" y1="388.2" x2="90.55" y2="383.3" stroke="#c0132f" stroke-width="1.0"/>
<line x1="88.75" y1="383.3" x2="92.35" y2="383.3" stroke="#c0132f" stroke-width="1.0"/>
<rect x="96.3" y="394.64" width="7.2" height="9.66" fill="#3a5a8e"/>
<line x1="99.9" y1="394.64" x2="99.9" y2="392.54" stroke="#3a5a8e" stroke-width="1.0"/>
<line x1="98.1" y1="392.54" x2="101.7" y2="392.54" stroke="#3a5a8e" stroke-width="1.0"/>
<line x1="39.9" y1="374.8" x2="49.8" y2="374.8" stroke="#222" stroke-width="1.1"/>
<circle cx="42.9" cy="369.6" r="1.25" fill="#262626"/>
<circle cx="46.7" cy="369.6" r="1.25" fill="#262626"/>
<line x1="65.6" y1="358.4" x2="75" y2="358.4" stroke="#222" stroke-width="1.1"/>
<circle cx="66.5" cy="353.8" r="1.25" fill="#262626"/>
<circle cx="70.3" cy="353.8" r="1.25" fill="#262626"/>
<circle cx="74.1" cy="353.8" r="1.25" fill="#262626"/>
<line x1="92.4" y1="379.6" x2="101.2" y2="379.6" stroke="#222" stroke-width="1.1"/>
<circle cx="96.8" cy="374.4" r="1.25" fill="#262626"/>
<text x="14.02" y="406.33" font-size="8.6" textLength="64.23" lengthAdjust="spacingAndGlyphs" transform="rotate(-90 14.02 406.33)">Pathology score</text>
<text x="36.63" y="417.9" font-size="8.2" textLength="15.69" lengthAdjust="spacingAndGlyphs">Skin</text>
<text x="60.44" y="417.9" font-size="8.2" textLength="17.5" lengthAdjust="spacingAndGlyphs">Liver</text>
<text x="82.54" y="417.9" font-size="8.2" textLength="31.33" lengthAdjust="spacingAndGlyphs">Intestine</text>
<rect x="34.3" y="332.5" width="3.8" height="3.8" fill="#fff" stroke="#c0132f" stroke-width="1.1"/>
<text x="42.03" y="337.1" font-size="8.0" style="stroke-width:0.1px" textLength="57.07" lengthAdjust="spacingAndGlyphs">TCD-BM+T, Con</text>
<rect x="34.1" y="343.2" width="4.2" height="4.2" fill="#3a5a8e" stroke="#3a5a8e" stroke-width="1.0"/>
<text x="42.03" y="347.4" font-size="8.0" style="stroke-width:0.1px" textLength="71.15" lengthAdjust="spacingAndGlyphs">TCD-BM+T, AUY922</text>
<line x1="151.2" y1="350.4" x2="151.2" y2="404.8" stroke="#1a1a1a" stroke-width="1.2"/>
<line x1="148.6" y1="352.6" x2="151.2" y2="352.6" stroke="#1a1a1a" stroke-width="1.2"/>
<text x="145" y="355.01" font-size="7.8" style="stroke-width:0.32px" text-anchor="end">8</text>
<line x1="148.6" y1="365.5" x2="151.2" y2="365.5" stroke="#1a1a1a" stroke-width="1.2"/>
<text x="145" y="367.91" font-size="7.8" style="stroke-width:0.32px" text-anchor="end">6</text>
<line x1="148.6" y1="378.4" x2="151.2" y2="378.4" stroke="#1a1a1a" stroke-width="1.2"/>
<text x="145" y="380.81" font-size="7.8" style="stroke-width:0.32px" text-anchor="end">4</text>
<line x1="148.6" y1="391.3" x2="151.2" y2="391.3" stroke="#1a1a1a" stroke-width="1.2"/>
<text x="145" y="393.71" font-size="7.8" style="stroke-width:0.32px" text-anchor="end">2</text>
<line x1="148.6" y1="404.2" x2="151.2" y2="404.2" stroke="#1a1a1a" stroke-width="1.2"/>
<text x="145" y="406.61" font-size="7.8" style="stroke-width:0.32px" text-anchor="end">0</text>
<line x1="150.6" y1="404.2" x2="238" y2="404.2" stroke="#1a1a1a" stroke-width="1.2"/>
<line x1="165.7" y1="404.2" x2="165.7" y2="406.8" stroke="#1a1a1a" stroke-width="1.2"/>
<line x1="195.8" y1="404.2" x2="195.8" y2="406.8" stroke="#1a1a1a" stroke-width="1.2"/>
<line x1="225.4" y1="404.2" x2="225.4" y2="406.8" stroke="#1a1a1a" stroke-width="1.2"/>
<rect x="156.6" y="383.88" width="7.8" height="20.32" fill="#c0132f"/>
<line x1="160.5" y1="383.88" x2="160.5" y2="381.95" stroke="#c0132f" stroke-width="1.0"/>
<line x1="158.7" y1="381.95" x2="162.3" y2="381.95" stroke="#c0132f" stroke-width="1.0"/>
<rect x="167.8" y="392.27" width="8.4" height="11.93" fill="#3a5a8e"/>
<line x1="172" y1="392.27" x2="172" y2="390.33" stroke="#3a5a8e" stroke-width="1.0"/>
<line x1="170.2" y1="390.33" x2="173.8" y2="390.33" stroke="#3a5a8e" stroke-width="1.0"/>
<rect x="186.3" y="369.05" width="7.7" height="35.15" fill="#c0132f"/>
<line x1="190.15" y1="369.05" x2="190.15" y2="367.11" stroke="#c0132f" stroke-width="1.0"/>
<line x1="188.35" y1="367.11" x2="191.95" y2="367.11" stroke="#c0132f" stroke-width="1.0"/>
<rect x="197.5" y="398.72" width="8.3" height="5.48" fill="#3a5a8e"/>
<line x1="201.65" y1="398.72" x2="201.65" y2="396.46" stroke="#3a5a8e" stroke-width="1.0"/>
<line x1="199.85" y1="396.46" x2="203.45" y2="396.46" stroke="#3a5a8e" stroke-width="1.0"/>
<rect x="215.9" y="390.33" width="7.8" height="13.87" fill="#c0132f"/>
<line x1="219.8" y1="390.33" x2="219.8" y2="388.07" stroke="#c0132f" stroke-width="1.0"/>
<line x1="218" y1="388.07" x2="221.6" y2="388.07" stroke="#c0132f" stroke-width="1.0"/>
<rect x="227" y="396.78" width="8.4" height="7.42" fill="#3a5a8e"/>
<line x1="231.2" y1="396.78" x2="231.2" y2="394.52" stroke="#3a5a8e" stroke-width="1.0"/>
<line x1="229.4" y1="394.52" x2="233" y2="394.52" stroke="#3a5a8e" stroke-width="1.0"/>
<line x1="161" y1="379.2" x2="170.3" y2="379.2" stroke="#222" stroke-width="1.1"/>
<circle cx="165.6" cy="373.5" r="1.25" fill="#262626"/>
<line x1="190.4" y1="363" x2="200.3" y2="363" stroke="#222" stroke-width="1.1"/>
<circle cx="191.6" cy="358" r="1.25" fill="#262626"/>
<circle cx="195.4" cy="358" r="1.25" fill="#262626"/>
<circle cx="199.2" cy="358" r="1.25" fill="#262626"/>
<line x1="220.4" y1="384.5" x2="230.3" y2="384.5" stroke="#222" stroke-width="1.1"/>
<circle cx="225.3" cy="379.2" r="1.25" fill="#262626"/>
<text x="134.92" y="408.51" font-size="8.6" textLength="61.69" lengthAdjust="spacingAndGlyphs" transform="rotate(-90 134.92 408.51)">Pathology score</text>
<text x="158.23" y="417.9" font-size="8.2" textLength="15.85" lengthAdjust="spacingAndGlyphs">Skin</text>
<text x="186.33" y="417.9" font-size="8.2" textLength="17.81" lengthAdjust="spacingAndGlyphs">Liver</text>
<text x="210.25" y="417.9" font-size="8.2" textLength="30.71" lengthAdjust="spacingAndGlyphs">Intestine</text>
<rect x="154.8" y="334.7" width="3.8" height="3.8" fill="#fff" stroke="#c0132f" stroke-width="1.1"/>
<text x="162.53" y="339.4" font-size="8.0" style="stroke-width:0.1px" textLength="56.56" lengthAdjust="spacingAndGlyphs">TCD-BM+T, Con</text>
<rect x="154.6" y="345.6" width="4.2" height="4.2" fill="#3a5a8e" stroke="#3a5a8e" stroke-width="1.0"/>
<text x="162.53" y="350" font-size="8.0" style="stroke-width:0.1px" textLength="70.65" lengthAdjust="spacingAndGlyphs">TCD-BM+T, AUY922</text>
<text x="299.29" y="336.1" font-size="7.8" style="stroke-width:0.1px" textLength="9.87" lengthAdjust="spacingAndGlyphs">B6</text>
<line x1="309.6" y1="333.4" x2="313.92" y2="333.4" stroke="#1e1e1e" stroke-width="0.7"/>
<polygon points="315,333.4 313.2,332.3 313.2,334.5" fill="#1e1e1e"/>
<text x="315.05" y="336.1" font-size="7.8" style="stroke-width:0.1px" textLength="30.59" lengthAdjust="spacingAndGlyphs">BALB/c</text>
<text x="294.52" y="344.85" font-size="7.8" style="stroke-width:0.1px" textLength="56.94" lengthAdjust="spacingAndGlyphs">Day 0, AUY922</text>
<text x="263.61" y="404.08" font-size="8.9" textLength="59.04" lengthAdjust="spacingAndGlyphs" transform="rotate(-90 263.61 404.08)">Percent survival</text>
<line x1="288" y1="346.8" x2="288" y2="405" stroke="#1a1a1a" stroke-width="1.2"/>
<line x1="285.4" y1="349.5" x2="288" y2="349.5" stroke="#1a1a1a" stroke-width="1.2"/>
<text x="283.6" y="351.91" font-size="7.8" style="stroke-width:0.32px" text-anchor="end">100</text>
<line x1="285.4" y1="360.48" x2="288" y2="360.48" stroke="#1a1a1a" stroke-width="1.2"/>
<text x="283.6" y="362.89" font-size="7.8" style="stroke-width:0.32px" text-anchor="end">80</text>
<line x1="285.4" y1="371.46" x2="288" y2="371.46" stroke="#1a1a1a" stroke-width="1.2"/>
<text x="283.6" y="373.87" font-size="7.8" style="stroke-width:0.32px" text-anchor="end">60</text>
<line x1="285.4" y1="382.44" x2="288" y2="382.44" stroke="#1a1a1a" stroke-width="1.2"/>
<text x="283.6" y="384.85" font-size="7.8" style="stroke-width:0.32px" text-anchor="end">40</text>
<line x1="285.4" y1="393.42" x2="288" y2="393.42" stroke="#1a1a1a" stroke-width="1.2"/>
<text x="283.6" y="395.83" font-size="7.8" style="stroke-width:0.32px" text-anchor="end">20</text>
<line x1="285.4" y1="404.4" x2="288" y2="404.4" stroke="#1a1a1a" stroke-width="1.2"/>
<text x="283.6" y="406.81" font-size="7.8" style="stroke-width:0.32px" text-anchor="end">0</text>
<line x1="287.4" y1="404.4" x2="381.5" y2="404.4" stroke="#1a1a1a" stroke-width="1.2"/>
<line x1="288" y1="404.4" x2="288" y2="407" stroke="#1a1a1a" stroke-width="1.2"/>
<text x="288" y="417.4" font-size="7.8" style="stroke-width:0.32px" text-anchor="middle">0</text>
<line x1="310.62" y1="404.4" x2="310.62" y2="407" stroke="#1a1a1a" stroke-width="1.2"/>
<text x="310.62" y="417.4" font-size="7.8" style="stroke-width:0.32px" text-anchor="middle">20</text>
<line x1="333.24" y1="404.4" x2="333.24" y2="407" stroke="#1a1a1a" stroke-width="1.2"/>
<text x="333.24" y="417.4" font-size="7.8" style="stroke-width:0.32px" text-anchor="middle">40</text>
<line x1="355.86" y1="404.4" x2="355.86" y2="407" stroke="#1a1a1a" stroke-width="1.2"/>
<text x="355.86" y="417.4" font-size="7.8" style="stroke-width:0.32px" text-anchor="middle">60</text>
<line x1="378.48" y1="404.4" x2="378.48" y2="407" stroke="#1a1a1a" stroke-width="1.2"/>
<text x="378.48" y="417.4" font-size="7.8" style="stroke-width:0.32px" text-anchor="middle">80</text>
<text x="285.69" y="431.3" font-size="10.4" style="stroke-width:0.38px" textLength="98.88" lengthAdjust="spacingAndGlyphs">Days after transplantation</text>
<line x1="288" y1="349.5" x2="355.86" y2="349.5" stroke="#7db348" stroke-width="1.3"/>
<polygon points="353.86,351.53 357.86,351.53 355.86,348.07" fill="#7db348" stroke="#7db348" stroke-width="1.0"/>
<polyline points="288,349.5 298.18,349.5 298.18,354.17 310.05,354.17 310.05,358.83 320.8,358.83 320.8,363.22 323.06,363.22 323.06,365.7 324.76,365.7 324.76,367.89 355.86,367.89 355.86,367.89" fill="none" stroke="#2c4a7f" stroke-width="1.3" stroke-linejoin="miter"/>
<rect x="296.38" y="352.37" width="3.6" height="3.6" fill="#2c4a7f" stroke="#2c4a7f" stroke-width="0.5"/>
<rect x="308.25" y="357.03" width="3.6" height="3.6" fill="#2c4a7f" stroke="#2c4a7f" stroke-width="0.5"/>
<rect x="319" y="361.42" width="3.6" height="3.6" fill="#2c4a7f" stroke="#2c4a7f" stroke-width="0.5"/>
<rect x="321.26" y="363.9" width="3.6" height="3.6" fill="#2c4a7f" stroke="#2c4a7f" stroke-width="0.5"/>
<rect x="322.96" y="366.09" width="3.6" height="3.6" fill="#2c4a7f" stroke="#2c4a7f" stroke-width="0.5"/>
<rect x="354.06" y="366.09" width="3.6" height="3.6" fill="#2c4a7f" stroke="#2c4a7f" stroke-width="0.5"/>
<polyline points="295.92,358.83 297.05,358.83 297.05,367.89 298.18,367.89 298.18,376.95 338.33,376.95 338.33,386.01 345.68,386.01 345.68,395.34 352.47,395.34 352.47,404.4" fill="none" stroke="#a81c40" stroke-width="1.3" stroke-linejoin="miter"/>
<rect x="294.22" y="357.13" width="3.4" height="3.4" fill="#fff" stroke="#a81c40" stroke-width="1.0"/>
<rect x="295.35" y="366.19" width="3.4" height="3.4" fill="#fff" stroke="#a81c40" stroke-width="1.0"/>
<rect x="296.48" y="375.25" width="3.4" height="3.4" fill="#fff" stroke="#a81c40" stroke-width="1.0"/>
<rect x="336.63" y="384.31" width="3.4" height="3.4" fill="#fff" stroke="#a81c40" stroke-width="1.0"/>
<rect x="343.98" y="393.64" width="3.4" height="3.4" fill="#fff" stroke="#a81c40" stroke-width="1.0"/>
<rect x="350.77" y="402.7" width="3.4" height="3.4" fill="#fff" stroke="#a81c40" stroke-width="1.0"/>
<polyline points="367.5,367.7 375.2,367.7 375.2,378.5" fill="none" stroke="#222" stroke-width="1.1" stroke-linejoin="miter"/>
<polyline points="375.2,392.7 375.2,402.1 367.5,402.1" fill="none" stroke="#222" stroke-width="1.1" stroke-linejoin="miter"/>
<circle cx="372.9" cy="386.4" r="1.25" fill="#262626"/>
<circle cx="376.7" cy="386.4" r="1.25" fill="#262626"/>
<text x="396.81" y="400.84" font-size="9.5" textLength="51.02" lengthAdjust="spacingAndGlyphs" transform="rotate(-90 396.81 400.84)">Clinical score</text>
<line x1="411.8" y1="347.3" x2="411.8" y2="405.5" stroke="#1a1a1a" stroke-width="1.2"/>
<line x1="409.2" y1="349.46" x2="411.8" y2="349.46" stroke="#1a1a1a" stroke-width="1.2"/>
<text x="407.5" y="351.87" font-size="7.8" style="stroke-width:0.32px" text-anchor="end">8</text>
<line x1="409.2" y1="363.32" x2="411.8" y2="363.32" stroke="#1a1a1a" stroke-width="1.2"/>
<text x="407.5" y="365.73" font-size="7.8" style="stroke-width:0.32px" text-anchor="end">6</text>
<line x1="409.2" y1="377.18" x2="411.8" y2="377.18" stroke="#1a1a1a" stroke-width="1.2"/>
<text x="407.5" y="379.59" font-size="7.8" style="stroke-width:0.32px" text-anchor="end">4</text>
<line x1="409.2" y1="391.04" x2="411.8" y2="391.04" stroke="#1a1a1a" stroke-width="1.2"/>
<text x="407.5" y="393.45" font-size="7.8" style="stroke-width:0.32px" text-anchor="end">2</text>
<line x1="409.2" y1="404.9" x2="411.8" y2="404.9" stroke="#1a1a1a" stroke-width="1.2"/>
<text x="407.5" y="407.31" font-size="7.8" style="stroke-width:0.32px" text-anchor="end">0</text>
<line x1="411.2" y1="404.9" x2="497.5" y2="404.9" stroke="#1a1a1a" stroke-width="1.2"/>
<line x1="411.8" y1="404.9" x2="411.8" y2="407.5" stroke="#1a1a1a" stroke-width="1.2"/>
<text x="411.8" y="417.6" font-size="7.8" style="stroke-width:0.32px" text-anchor="middle">0</text>
<line x1="428.42" y1="404.9" x2="428.42" y2="407.5" stroke="#1a1a1a" stroke-width="1.2"/>
<text x="428.42" y="417.6" font-size="7.8" style="stroke-width:0.32px" text-anchor="middle">2</text>
<line x1="445.04" y1="404.9" x2="445.04" y2="407.5" stroke="#1a1a1a" stroke-width="1.2"/>
<text x="445.04" y="417.6" font-size="7.8" style="stroke-width:0.32px" text-anchor="middle">4</text>
<line x1="461.66" y1="404.9" x2="461.66" y2="407.5" stroke="#1a1a1a" stroke-width="1.2"/>
<text x="461.66" y="417.6" font-size="7.8" style="stroke-width:0.32px" text-anchor="middle">6</text>
<line x1="478.28" y1="404.9" x2="478.28" y2="407.5" stroke="#1a1a1a" stroke-width="1.2"/>
<text x="478.28" y="417.6" font-size="7.8" style="stroke-width:0.32px" text-anchor="middle">8</text>
<line x1="494.9" y1="404.9" x2="494.9" y2="407.5" stroke="#1a1a1a" stroke-width="1.2"/>
<text x="494.9" y="417.6" font-size="7.8" style="stroke-width:0.32px" text-anchor="middle">10</text>
<text x="407.56" y="431.6" font-size="10.4" style="stroke-width:0.38px" textLength="105.4" lengthAdjust="spacingAndGlyphs">Weeks after transplantation</text>
<line x1="420.11" y1="398.32" x2="420.11" y2="393.47" stroke="#a81c40" stroke-width="1.0"/>
<line x1="418.31" y1="398.32" x2="421.91" y2="398.32" stroke="#a81c40" stroke-width="1.0"/>
<line x1="418.31" y1="393.47" x2="421.91" y2="393.47" stroke="#a81c40" stroke-width="1.0"/>
<line x1="428.42" y1="400.74" x2="428.42" y2="374.41" stroke="#a81c40" stroke-width="1.0"/>
<line x1="426.62" y1="400.74" x2="430.22" y2="400.74" stroke="#a81c40" stroke-width="1.0"/>
<line x1="426.62" y1="374.41" x2="430.22" y2="374.41" stroke="#a81c40" stroke-width="1.0"/>
<line x1="436.73" y1="384.46" x2="436.73" y2="375.45" stroke="#a81c40" stroke-width="1.0"/>
<line x1="434.93" y1="384.46" x2="438.53" y2="384.46" stroke="#a81c40" stroke-width="1.0"/>
<line x1="434.93" y1="375.45" x2="438.53" y2="375.45" stroke="#a81c40" stroke-width="1.0"/>
<line x1="445.04" y1="383.42" x2="445.04" y2="370.94" stroke="#a81c40" stroke-width="1.0"/>
<line x1="443.24" y1="383.42" x2="446.84" y2="383.42" stroke="#a81c40" stroke-width="1.0"/>
<line x1="443.24" y1="370.94" x2="446.84" y2="370.94" stroke="#a81c40" stroke-width="1.0"/>
<line x1="453.35" y1="385.15" x2="453.35" y2="367.13" stroke="#a81c40" stroke-width="1.0"/>
<line x1="451.55" y1="385.15" x2="455.15" y2="385.15" stroke="#a81c40" stroke-width="1.0"/>
<line x1="451.55" y1="367.13" x2="455.15" y2="367.13" stroke="#a81c40" stroke-width="1.0"/>
<line x1="461.66" y1="372.33" x2="461.66" y2="361.24" stroke="#a81c40" stroke-width="1.0"/>
<line x1="459.86" y1="372.33" x2="463.46" y2="372.33" stroke="#a81c40" stroke-width="1.0"/>
<line x1="459.86" y1="361.24" x2="463.46" y2="361.24" stroke="#a81c40" stroke-width="1.0"/>
<line x1="469.97" y1="367.48" x2="469.97" y2="357.08" stroke="#a81c40" stroke-width="1.0"/>
<line x1="468.17" y1="367.48" x2="471.77" y2="367.48" stroke="#a81c40" stroke-width="1.0"/>
<line x1="468.17" y1="357.08" x2="471.77" y2="357.08" stroke="#a81c40" stroke-width="1.0"/>
<line x1="420.11" y1="395.89" x2="420.11" y2="389.65" stroke="#2c4a7f" stroke-width="1.0"/>
<line x1="418.31" y1="395.89" x2="421.91" y2="395.89" stroke="#2c4a7f" stroke-width="1.0"/>
<line x1="418.31" y1="389.65" x2="421.91" y2="389.65" stroke="#2c4a7f" stroke-width="1.0"/>
<line x1="428.42" y1="389.65" x2="428.42" y2="379.95" stroke="#2c4a7f" stroke-width="1.0"/>
<line x1="426.62" y1="389.65" x2="430.22" y2="389.65" stroke="#2c4a7f" stroke-width="1.0"/>
<line x1="426.62" y1="379.95" x2="430.22" y2="379.95" stroke="#2c4a7f" stroke-width="1.0"/>
<line x1="436.73" y1="384.46" x2="436.73" y2="375.45" stroke="#2c4a7f" stroke-width="1.0"/>
<line x1="434.93" y1="384.46" x2="438.53" y2="384.46" stroke="#2c4a7f" stroke-width="1.0"/>
<line x1="434.93" y1="375.45" x2="438.53" y2="375.45" stroke="#2c4a7f" stroke-width="1.0"/>
<line x1="445.04" y1="384.8" x2="445.04" y2="377.87" stroke="#2c4a7f" stroke-width="1.0"/>
<line x1="443.24" y1="384.8" x2="446.84" y2="384.8" stroke="#2c4a7f" stroke-width="1.0"/>
<line x1="443.24" y1="377.87" x2="446.84" y2="377.87" stroke="#2c4a7f" stroke-width="1.0"/>
<line x1="453.35" y1="386.88" x2="453.35" y2="380.64" stroke="#2c4a7f" stroke-width="1.0"/>
<line x1="451.55" y1="386.88" x2="455.15" y2="386.88" stroke="#2c4a7f" stroke-width="1.0"/>
<line x1="451.55" y1="380.64" x2="455.15" y2="380.64" stroke="#2c4a7f" stroke-width="1.0"/>
<line x1="461.66" y1="395.2" x2="461.66" y2="379.95" stroke="#2c4a7f" stroke-width="1.0"/>
<line x1="459.86" y1="395.2" x2="463.46" y2="395.2" stroke="#2c4a7f" stroke-width="1.0"/>
<line x1="459.86" y1="379.95" x2="463.46" y2="379.95" stroke="#2c4a7f" stroke-width="1.0"/>
<line x1="469.97" y1="390.69" x2="469.97" y2="384.46" stroke="#2c4a7f" stroke-width="1.0"/>
<line x1="468.17" y1="390.69" x2="471.77" y2="390.69" stroke="#2c4a7f" stroke-width="1.0"/>
<line x1="468.17" y1="384.46" x2="471.77" y2="384.46" stroke="#2c4a7f" stroke-width="1.0"/>
<line x1="478.28" y1="392.77" x2="478.28" y2="384.46" stroke="#2c4a7f" stroke-width="1.0"/>
<line x1="476.48" y1="392.77" x2="480.08" y2="392.77" stroke="#2c4a7f" stroke-width="1.0"/>
<line x1="476.48" y1="384.46" x2="480.08" y2="384.46" stroke="#2c4a7f" stroke-width="1.0"/>
<polyline points="411.8,404.9 420.11,395.89 428.42,387.57 436.73,379.95 445.04,377.18 453.35,376.14 461.66,366.78 469.97,362.28" fill="none" stroke="#a81c40" stroke-width="1.5" stroke-linejoin="miter"/>
<polyline points="411.8,404.9 420.11,392.77 428.42,384.8 436.73,379.95 445.04,381.34 453.35,383.76 461.66,387.57 469.97,387.57 478.28,388.61" fill="none" stroke="#2c4a7f" stroke-width="1.9" stroke-linejoin="miter"/>
<rect x="418.41" y="391.07" width="3.4" height="3.4" fill="#2c4a7f" stroke="#2c4a7f" stroke-width="0.5"/>
<rect x="426.72" y="383.1" width="3.4" height="3.4" fill="#2c4a7f" stroke="#2c4a7f" stroke-width="0.5"/>
<rect x="435.03" y="378.25" width="3.4" height="3.4" fill="#2c4a7f" stroke="#2c4a7f" stroke-width="0.5"/>
<rect x="443.34" y="379.64" width="3.4" height="3.4" fill="#2c4a7f" stroke="#2c4a7f" stroke-width="0.5"/>
<rect x="451.65" y="382.06" width="3.4" height="3.4" fill="#2c4a7f" stroke="#2c4a7f" stroke-width="0.5"/>
<rect x="459.96" y="385.88" width="3.4" height="3.4" fill="#2c4a7f" stroke="#2c4a7f" stroke-width="0.5"/>
<rect x="468.27" y="385.88" width="3.4" height="3.4" fill="#2c4a7f" stroke="#2c4a7f" stroke-width="0.5"/>
<rect x="476.58" y="386.91" width="3.4" height="3.4" fill="#2c4a7f" stroke="#2c4a7f" stroke-width="0.5"/>
<polygon points="409.8,404.9 411.8,402.9 413.8,404.9 411.8,406.9" fill="#2c4a7f"/>
<rect x="418.51" y="394.29" width="3.2" height="3.2" fill="#fff" stroke="#a81c40" stroke-width="1.0"/>
<rect x="426.82" y="385.97" width="3.2" height="3.2" fill="#fff" stroke="#a81c40" stroke-width="1.0"/>
<rect x="435.13" y="378.35" width="3.2" height="3.2" fill="#fff" stroke="#a81c40" stroke-width="1.0"/>
<rect x="443.44" y="375.58" width="3.2" height="3.2" fill="#fff" stroke="#a81c40" stroke-width="1.0"/>
<rect x="451.75" y="374.54" width="3.2" height="3.2" fill="#fff" stroke="#a81c40" stroke-width="1.0"/>
<rect x="460.06" y="365.18" width="3.2" height="3.2" fill="#fff" stroke="#a81c40" stroke-width="1.0"/>
<rect x="468.37" y="360.68" width="3.2" height="3.2" fill="#fff" stroke="#a81c40" stroke-width="1.0"/>
<circle cx="457.8" cy="355.6" r="1.25" fill="#262626"/>
<circle cx="461.6" cy="355.6" r="1.25" fill="#262626"/>
<circle cx="465.4" cy="355.6" r="1.25" fill="#262626"/>
<circle cx="466.6" cy="351.8" r="1.25" fill="#262626"/>
<circle cx="470.4" cy="351.8" r="1.25" fill="#262626"/>
<circle cx="474.2" cy="351.8" r="1.25" fill="#262626"/>
<rect x="388.5" y="316.1" width="4" height="4" fill="#fff" stroke="#a81c40" stroke-width="1.1"/>
<text x="396.03" y="320.6" font-size="8.0" style="stroke-width:0.1px" textLength="97.04" lengthAdjust="spacingAndGlyphs">TCD-BM+CD4<tspan dy="-2.64" font-size="4.96">+</tspan><tspan dy="2.64"> T, Con (n=6)</tspan></text>
<rect x="388.3" y="327.2" width="4.4" height="4.4" fill="#2c4a7f" stroke="#2c4a7f" stroke-width="1.0"/>
<text x="396.03" y="331.4" font-size="8.0" style="stroke-width:0.1px" textLength="115.84" lengthAdjust="spacingAndGlyphs">TCD-BM+CD4<tspan dy="-2.64" font-size="4.96">+</tspan><tspan dy="2.64"> T, AUY922 (n=12)</tspan></text>
<polygon points="388,340.77 393,340.77 390.5,336.44" fill="#7aaa48" stroke="#6a9a40" stroke-width="0.6"/>
<text x="396.03" y="342.2" font-size="8.0" style="stroke-width:0.1px" textLength="48.43" lengthAdjust="spacingAndGlyphs">TCD-BM (n=6)</text>
</g></svg></body></html>
